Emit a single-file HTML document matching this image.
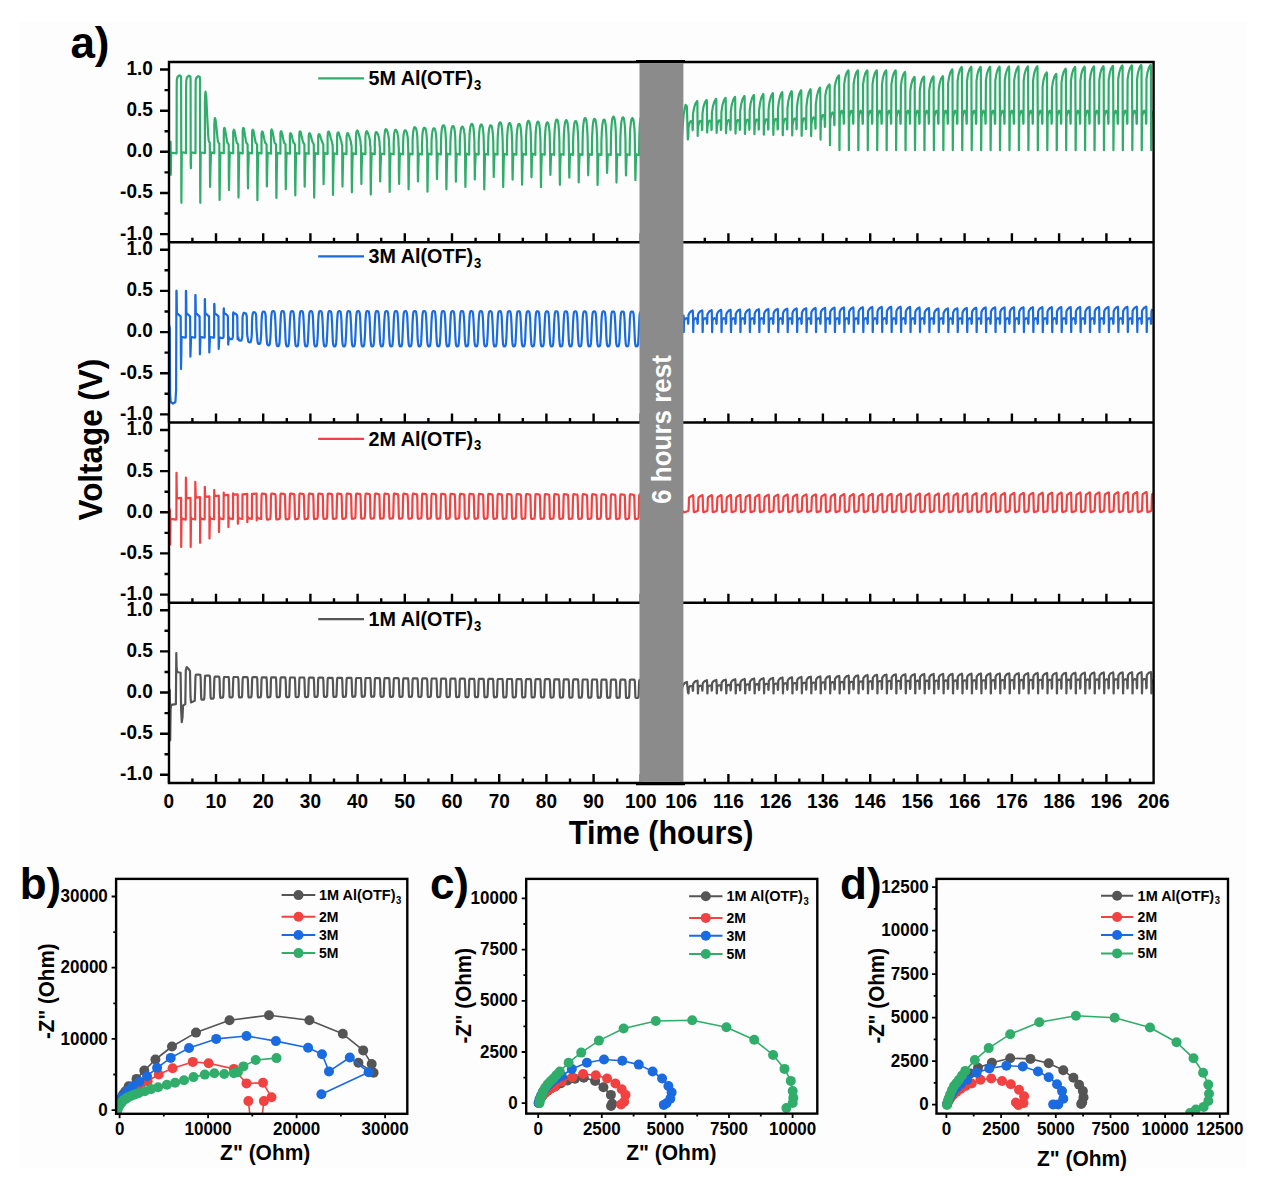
<!DOCTYPE html><html><head><meta charset="utf-8"><title>Voltage profiles and EIS</title><style>html,body{margin:0;padding:0;background:#fff;}svg{display:block;}</style></head><body><svg width="1266" height="1186" viewBox="0 0 1266 1186"><rect x="0" y="0" width="1266" height="1186" fill="#fff"/><rect x="19" y="22" width="1228" height="1146" fill="#fdfdfd"/><clipPath id="pc0"><rect x="169.0" y="62.0" width="984.5999999999999" height="180.25"/></clipPath><clipPath id="pc1"><rect x="169.0" y="242.25" width="984.5999999999999" height="180.25"/></clipPath><clipPath id="pc2"><rect x="169.0" y="422.5" width="984.5999999999999" height="180.25"/></clipPath><clipPath id="pc3"><rect x="169.0" y="602.75" width="984.5999999999999" height="180.25"/></clipPath><path d="M168.8 150.2l1.4 -6.6 0.4 -1.7 0.2 32.9 0.3 -18.9 0.3 -3.3 5 0.8 0.2 -0.4 0.1 -64.6 0.1 -8.2 0.7 -3.3 1.9 -1.6 1.5 0.8 0.2 3.3 0.2 108.1 0.1 15.3 0.2 -30.6 0.2 -20 4.1 0.8 0.1 0.1 0.1 -64.7 0.2 -8.2 0.7 -2.9 1.9 -1.6 1.5 0.8 0.2 3.3 0.1 83.5 0.2 5 0.1 -9.9 0.2 -6.1 4.2 0.8 0.1 0.1 0.1 -64.8 0.1 -8.2 0.7 -2.5 1.9 -1.6 1.5 0.8 0.2 3.3 0.2 107.3 0.1 15.3 0.2 -30.6 0.2 -19.9 4.1 0.9 0.1 0 0 -50.4 0.1 -1.5 0 -3.1 0.1 -3 0.1 -0.3 0.1 -1.4 0.2 -1.8 0.1 0.3 0.3 2.1 0.3 1.6 0.2 3.3 0.4 8.8 0.2 4 0.2 4.4 0.5 9.7 0.2 3.5 0.2 4 0.4 5.3 0 0.7 0.2 0.9 0.2 0.6 0.1 0.5 0.1 0.4 0.1 0.1 0.6 0.8 0.2 30.2 0.1 14 0.3 -15.8 0.4 -12.3 0.2 -6.4 3.3 0.8 0 0.1 0 -29.8 0.1 -0.8 0.1 -1.4 0.1 -1.5 0 -0.2 0.2 -0.7 0.2 -0.8 0 0.1 0.4 1 0.2 0.8 0.2 1.6 0.5 4.4 0.2 1.9 0.2 2.2 0.5 4.7 0.1 1.8 0.3 1.9 0.3 2.7 0.1 0.3 0.2 0.4 0.1 0.4 0.2 0.2 0.1 0.2 0.7 0.9 0.1 37 0.2 19.3 0.3 -21.7 0.3 -16.8 0.2 -8.9 3.3 0.8 0.1 0 0 -21.9 0 -0.5 0.1 -0.9 0.1 -1 0 -0.1 0.2 -0.4 0.2 -0.6 0.1 0.1 0.3 0.7 0.3 0.5 0.1 1 0.5 2.7 0.2 1.3 0.2 1.4 0.5 3 0.2 1.1 0.2 1.2 0.4 1.7 0 0.2 0.2 0.2 0.2 0.3 0.1 0.1 0.1 0.1 0 0.1 0.7 0.8 0.1 30.4 0.2 15.3 0.3 -17.3 0.3 -13.3 0.3 -7 3.3 0.8 0 0.1 0 -20.6 0.1 -0.5 0.1 -0.8 0 -0.8 0.1 -0.1 0.2 -0.4 0.2 -0.5 0 0.1 0.4 0.6 0.2 0.4 0.2 0.9 0.5 2.4 0.2 1.2 0.2 1.2 0.5 2.6 0.1 1 0.3 1.1 0.3 1.5 0.1 0.2 0.2 0.2 0.1 0.2 0.2 0.1 0.1 0.1 0 0.1 0.7 0.8 0.1 34.9 0.2 18.3 0.3 -20.6 0.3 -16 0.2 -8.4 3.3 0.8 0.1 0.1 0 -22.2 0 -0.5 0.1 -1 0.1 -0.9 0 -0.1 0.2 -0.5 0.2 -0.5 0.1 0.1 0.3 0.7 0.3 0.5 0.1 1 0.5 2.7 0.2 1.3 0.2 1.4 0.5 3 0.2 1.1 0.2 1.3 0.4 1.7 0 0.2 0.2 0.2 0.2 0.3 0.1 0.1 0.1 0.1 0.1 0.1 0.6 0.8 0.2 29.3 0.2 14.6 0.2 -16.4 0.4 -12.8 0.2 -6.5 3.3 0.9 0 -20.8 0.1 -0.5 0 -0.8 0.1 -0.8 0.1 -0.1 0.1 -0.4 0.3 -0.5 0 0.1 0.3 0.6 0.3 0.4 0.2 0.9 0.5 2.5 0.2 1.1 0.2 1.2 0.5 2.7 0.1 1 0.3 1.1 0.3 1.5 0.1 0.2 0.2 0.2 0.2 0.2 0.1 0.1 0.1 0.1 0 0.1 0.7 0.8 0.1 36.4 0.2 19.4 0.3 -21.8 0.3 -16.9 0.3 -8.8 3.2 0.8 0 0.1 0 -19.6 0.1 -0.3 0.1 -0.8 0.1 -0.7 0 -0.1 0.2 -0.3 0.2 -0.4 0.4 0.5 0.3 0.4 0.1 0.8 0.5 2.2 0.2 0.9 0.2 1.1 0.5 2.4 0.2 0.8 0.3 1 0.3 1.3 0.1 0.2 0.2 0.2 0.1 0.1 0.2 0.1 0.1 0.1 0 0.1 0.7 0.8 0.1 28.2 0.2 13.8 0.3 -15.5 0.3 -12.2 0.3 -5.9 3.1 0.8 0.1 0.1 0 -21.1 0 -0.5 0.1 -0.8 0.1 -0.9 0.1 -0.1 0.1 -0.4 0.2 -0.5 0.1 0.1 0.3 0.6 0.3 0.5 0.2 0.9 0.5 2.5 0.2 1.1 0.2 1.2 0.5 2.7 0.2 1 0.2 1.2 0.4 1.5 0 0.2 0.2 0.2 0.2 0.2 0.1 0.1 0.1 0.1 0.1 0.1 0.6 0.8 0.2 35.1 0.2 18.4 0.3 -20.8 0.3 -16.1 0.2 -8.2 3.2 0.9 0 -19.7 0.1 -0.4 0.1 -0.7 0 -0.8 0.1 -0.1 0.2 -0.3 0.2 -0.5 0 0.1 0.4 0.5 0.3 0.4 0.1 0.8 0.5 2.1 0.2 1 0.3 1.1 0.4 2.3 0.2 0.9 0.3 1 0.3 1.3 0.1 0.2 0.2 0.2 0.2 0.2 0.1 0.1 0.1 0.1 0 0.1 0.7 0.8 0.1 29.9 0.2 14.9 0.3 -16.8 0.3 -13.1 0.3 -6.4 3.1 0.8 0.1 0.1 0 -18.2 0 -0.4 0.1 -0.7 0.1 -0.6 0 -0.1 0.2 -0.3 0.2 -0.4 0.1 0 0.3 0.4 0.3 0.3 0.2 0.7 0.5 1.8 0.2 0.8 0.2 0.9 0.5 2 0.2 0.7 0.2 0.8 0.4 1.1 0 0.2 0.3 0.2 0.1 0.2 0.2 0.1 0.1 0.1 0 0.2 0.7 0.8 0.1 33.5 0.2 17.4 0.3 -19.6 0.3 -15.2 0.2 -7.5 3.2 0.8 0 -19.2 0.1 -0.6 0 -0.9 0.1 -0.7 0.1 -0.2 0.2 -0.4 0.2 -0.5 0.4 0.4 0.3 0.4 0.1 0.7 0.5 2 0.2 0.9 0.3 1 0.5 2.3 0.1 0.8 0.3 1 0.4 1.3 0 0.2 0.2 0.3 0.2 0.2 0.1 0.3 0.1 0.2 0.1 0.3 0.6 0.8 0.1 28.3 0.2 14 0.3 -15.7 0.3 -12.2 0.3 -5.8 3.1 0.8 0 0.1 0 -17.6 0.1 -0.7 0.1 -0.7 0.1 -0.7 0 -0.1 0.2 -0.5 0.2 -0.4 0.1 0 0.3 0.3 0.3 0.2 0.2 0.6 0.5 1.6 0.2 0.7 0.2 0.8 0.5 1.9 0.2 0.7 0.3 0.8 0.3 1.1 0.1 0.2 0.2 0.3 0.2 0.2 0.1 0.3 0.1 0.3 0.1 0.4 0.5 0.8 0.2 34.9 0.2 18.3 0.3 -20.6 0.3 -16 0.2 -7.9 3.1 0.8 0.1 0.1 0 -16.7 0 -0.7 0.1 -0.8 0.1 -0.7 0.1 -0.1 0.1 -0.4 0.3 -0.5 0.4 0.1 0.2 0.2 0.2 0.5 0.5 1.3 0.3 0.7 0.2 0.7 0.5 1.6 0.2 0.6 0.2 0.7 0.4 1.1 0 0.1 0.3 0.3 0.1 0.4 0.2 0.3 0.1 0.4 0 0.5 0.6 0.8 0.1 26.8 0.2 13 0.3 -14.6 0.3 -11.3 0.3 -5.2 3.1 0.9 0 -17.7 0.1 -1.2 0.1 -1.1 0.1 -0.9 0 -0.2 0.2 -0.7 0.2 -0.7 0.1 0 0.3 0.1 0.3 0.1 0.2 0.6 0.5 1.6 0.2 0.8 0.2 0.8 0.5 2 0.2 0.8 0.3 0.9 0.4 1.4 0 0.2 0.2 0.5 0.2 0.6 0.2 0.5 0.1 0.6 0 1 0.5 0.8 0.2 32.9 0.1 17.2 0.3 -19.4 0.4 -15.1 0.2 -7.2 3.1 0.8 0.1 0.1 0 -16.4 0 -1.4 0.1 -1.2 0.1 -0.9 0 -0.2 0.2 -0.8 0.3 -0.7 0.4 -0.1 0.3 0.1 0.1 0.4 0.5 1.4 0.3 0.6 0.2 0.8 0.5 1.7 0.2 0.8 0.3 0.8 0.3 1.4 0.1 0.2 0.2 0.6 0.2 0.6 0.1 0.7 0.1 0.7 0.1 1.1 0.5 0.9 0.1 27.5 0.2 13.9 0.3 -15.7 0.3 -12.1 0.2 -5.5 3.2 0.8 0 -15 0.1 -1.6 0 -1.2 0.1 -0.9 0.1 -0.3 0.2 -0.8 0.2 -0.8 0.1 -0.1 0.3 -0.2 0.3 0 0.2 0.3 0.5 1.1 0.2 0.6 0.3 0.6 0.5 1.6 0.2 0.7 0.3 0.8 0.3 1.3 0.1 0.2 0.2 0.6 0.2 0.7 0.1 0.8 0.1 0.8 0.1 1.4 0.4 0.8 0.1 30.6 0.2 16.2 0.3 -18.2 0.3 -14.2 0.3 -6.6 3.1 0.8 0 0.1 0 -15.2 0.1 -2.3 0.1 -1.7 0.1 -1.2 0 -0.4 0.2 -1.2 0.3 -1 0 -0.1 0.4 -0.5 0.3 -0.1 0.1 0.3 0.6 1.1 0.2 0.7 0.2 0.6 0.6 1.8 0.1 0.8 0.3 0.9 0.4 1.7 0 0.2 0.3 1 0.2 1 0.1 1.2 0.1 1.2 0.1 2.1 0.3 0.8 0.2 25.3 0.2 12.9 0.2 -14.6 0.4 -11.2 0.2 -4.9 3.1 0.8 0.1 0.1 0 -13.8 0 -2.5 0.1 -1.8 0.1 -1.2 0.1 -0.4 0.2 -1.3 0.2 -1.1 0 -0.1 0.4 -0.7 0.3 -0.2 0.2 0.2 0.5 0.8 0.3 0.6 0.2 0.5 0.5 1.5 0.2 0.7 0.3 0.9 0.4 1.6 0 0.3 0.3 1 0.2 1.1 0.1 1.3 0.1 1.4 0 2.4 0.4 0.8 0.1 31.2 0.2 17.1 0.3 -19.3 0.3 -14.9 0.3 -7 3.1 0.9 0 -12.3 0.1 -2.8 0.1 -1.8 0.1 -1.2 0 -0.5 0.2 -1.3 0.2 -1.2 0.1 -0.2 0.4 -0.8 0.3 -0.2 0.2 0 0.5 0.6 0.2 0.4 0.3 0.4 0.5 1.3 0.2 0.6 0.3 0.8 0.4 1.6 0 0.3 0.2 1.1 0.2 1.2 0.2 1.4 0.1 1.6 0 2.6 0.3 0.8 0.1 22.9 0.2 11.9 0.3 -13.3 0.4 -10.5 0.2 -4.2 3.1 0.8 0.1 0 0 -11.7 0 -3.7 0.1 -2.4 0.1 -1.5 0.1 -0.6 0.2 -1.8 0.2 -1.5 0 -0.2 0.4 -1.2 0.3 -0.5 0.2 0 0.5 0.4 0.3 0.4 0.2 0.4 0.6 1.3 0.2 0.7 0.2 1 0.4 1.8 0.1 0.4 0.2 1.4 0.2 1.7 0.2 1.9 0.1 2.1 0 3.6 0.2 0.8 0.2 28.8 0.2 16.1 0.3 -18.1 0.3 -14.1 0.2 -6.3 3.2 0.8 0 0.1 0 -10.4 0.1 -3.8 0.1 -2.5 0.1 -1.5 0 -0.7 0.2 -1.8 0.2 -1.6 0.1 -0.3 0.4 -1.3 0.3 -0.5 0.2 -0.2 0.5 0.1 0.2 0.3 0.3 0.3 0.5 1.1 0.2 0.6 0.3 0.9 0.4 1.9 0.1 0.3 0.2 1.5 0.2 1.8 0.1 2 0.1 2.3 0.1 3.7 0.2 0.9 0.1 23.6 0.2 12.9 0.3 -14.5 0.3 -11.3 0.3 -4.7 3.1 0.9 0 -9.1 0.1 -4 0.1 -2.5 0.1 -1.5 0 -0.7 0.2 -1.9 0.3 -1.6 0 -0.3 0.4 -1.5 0.3 -0.6 0.2 -0.3 0.6 0 0.2 0.1 0.3 0.2 0.5 0.9 0.2 0.6 0.3 0.8 0.4 1.8 0 0.3 0.3 1.6 0.2 1.9 0.1 2.1 0.1 2.4 0.1 3.9 0.1 0.8 0.2 26.5 0.2 15 0.3 -16.9 0.3 -13.1 0.2 -5.7 3.1 0.8 0.1 0 0 -8.2 0 -5 0.1 -3.1 0.1 -1.8 0.1 -0.9 0.2 -2.4 0.2 -2 0.1 -0.3 0.4 -1.9 0.3 -0.8 0.2 -0.5 0.5 -0.3 0.3 0.2 0.2 0.1 0.6 0.9 0.2 0.6 0.3 1 0.4 2.1 0 0.4 0.3 2 0.2 2.3 0.1 2.6 0.1 3 0.1 5 0.1 0.8 0.1 21.4 0.2 11.8 0.3 -13.3 0.3 -10.4 0.3 -4.1 3.1 0.8 0 -7.1 0.1 -5.2 0.1 -3.1 0.1 -1.8 0 -0.9 0.2 -2.4 0.3 -2 0 -0.4 0.4 -2 0.3 -0.8 0.2 -0.5 0.6 -0.5 0.2 0.1 0.3 0 0.5 0.7 0.2 0.7 0.3 0.9 0.4 2 0.1 0.5 0.2 2 0.2 2.3 0.2 2.7 0.1 3.1 0 5.1 0.2 0.8 0.1 27.2 0.2 15.9 0.3 -17.9 0.3 -14 0.2 -6.2 3.1 0.8 0.1 0.1 0 -6.5 0 -5.1 0.1 -3.1 0.1 -1.8 0.1 -0.9 0.2 -2.4 0.2 -2 0.1 -0.4 0.4 -2.1 0.3 -0.8 0.2 -0.6 0.5 -0.5 0.3 0 0.3 0 0.5 0.6 0.2 0.6 0.3 0.9 0.4 2 0.1 0.4 0.2 2 0.2 2.4 0.2 2.7 0.1 3.1 0 5.2 0.1 0.8 0.2 19.2 0.2 10.9 0.2 -12.3 0.4 -9.5 0.2 -3.7 3.1 0.9 0 -5.9 0.1 -6.1 0.1 -3.6 0.1 -2.2 0 -1 0.2 -2.8 0.3 -2.4 0 -0.5 0.4 -2.4 0.3 -1 0.2 -0.6 0.6 -0.7 0.3 0 0.2 0 0.6 0.7 0.2 0.6 0.3 1 0.4 2.4 0 0.5 0.3 2.4 0.2 2.8 0.2 3.2 0.1 3.6 0 6.1 0.1 0.8 0.1 24.9 0.2 15 0.3 -16.8 0.4 -13.2 0.2 -5.6 3 0.8 0 -5.6 0.1 -5.9 0.1 -3.6 0.1 -2.1 0.1 -1 0.2 -2.8 0.2 -2.3 0.1 -0.5 0.4 -2.4 0.3 -0.9 0.2 -0.7 0.6 -0.7 0.2 0 0.3 0 0.5 0.7 0.3 0.7 0.3 0.9 0.4 2.4 0 0.5 0.3 2.3 0.2 2.8 0.1 3.1 0.1 3.6 0.1 5.9 0.1 0.9 0.1 19.9 0.2 12 0.3 -13.5 0.3 -10.4 0.3 -4.1 2.9 0.8 0.1 0.1 0 -5.3 0 -5.9 0.1 -3.5 0.1 -2 0.1 -1.1 0.2 -2.7 0.3 -2.3 0 -0.4 0.4 -2.4 0.3 -0.9 0.3 -0.7 0.5 -0.7 0.3 0 0.2 0 0.6 0.7 0.2 0.7 0.3 0.9 0.4 2.4 0.1 0.4 0.3 2.3 0.2 2.7 0.1 3.1 0.1 3.5 0.1 5.9 0.1 0.9 0.1 22.7 0.2 14 0.3 -15.8 0.3 -12.3 0.3 -5.1 2.9 0.9 0 -5.1 0.1 -6.7 0.1 -4 0.1 -2.3 0 -1.2 0.2 -3.1 0.3 -2.6 0.1 -0.6 0.4 -2.6 0.3 -1.1 0.2 -0.7 0.6 -0.8 0.2 0 0.3 0 0.6 0.8 0.2 0.7 0.3 1.1 0.4 2.6 0 0.6 0.3 2.6 0.2 3.1 0.2 3.5 0.1 4 0 6.7 0.1 0.8 0.2 18 0.1 11.1 0.3 -12.4 0.4 -9.7 0.2 -3.5 2.9 0.8 0.1 0 0 -4.9 0 -6.6 0.1 -3.9 0.1 -2.3 0.1 -1.1 0.2 -3.1 0.2 -2.5 0.1 -0.5 0.4 -2.6 0.3 -1.1 0.2 -0.7 0.6 -0.8 0.3 0 0.2 0 0.6 0.8 0.2 0.7 0.3 1.1 0.4 2.6 0.1 0.5 0.2 2.5 0.3 3.1 0.1 3.4 0.1 3.9 0.1 6.6 0.1 0.8 0.1 23.9 0.2 15.1 0.3 -17 0.3 -13.2 0.2 -5.5 3 0.8 0 -4.7 0.1 -6.5 0.1 -3.8 0.1 -2.2 0 -1.1 0.2 -3 0.3 -2.5 0 -0.5 0.5 -2.5 0.3 -1.1 0.2 -0.7 0.6 -0.7 0.2 0 0.3 0 0.5 0.7 0.3 0.7 0.3 1.1 0.4 2.5 0 0.5 0.3 2.5 0.2 3 0.2 3.3 0.1 3.8 0 6.5 0.1 0.8 0.2 16.2 0.1 10.1 0.3 -11.3 0.4 -8.9 0.2 -3 2.9 0.8 0 0.1 0 -4.7 0.1 -7.2 0.1 -4.3 0.1 -2.5 0.1 -1.3 0.2 -3.3 0.2 -2.9 0.1 -0.5 0.4 -2.9 0.3 -1.2 0.2 -0.7 0.6 -0.9 0.3 0 0.2 0 0.6 0.9 0.2 0.7 0.3 1.2 0.4 2.9 0.1 0.5 0.2 2.9 0.2 3.3 0.2 3.8 0.1 4.3 0.1 7.2 0.1 0.8 0.1 22.2 0.2 14.1 0.3 -15.9 0.3 -12.3 0.2 -5.1 2.9 0.9 0.1 0 0 -4.5 0 -7.1 0.1 -4.2 0.1 -2.5 0.1 -1.2 0.2 -3.3 0.3 -2.7 0 -0.6 0.4 -2.8 0.4 -1.2 0.2 -0.7 0.5 -0.8 0.3 0 0.3 0 0.5 0.8 0.2 0.7 0.4 1.2 0.4 2.8 0 0.6 0.3 2.7 0.2 3.3 0.1 3.7 0.2 4.2 0 7.1 0.1 0.8 0.1 17.5 0.2 11.1 0.3 -12.5 0.3 -9.7 0.3 -3.5 2.9 0.8 0 -4.3 0.1 -7 0.1 -4.1 0.1 -2.4 0 -1.2 0.3 -3.2 0.2 -2.7 0.1 -0.6 0.4 -2.7 0.3 -1.1 0.2 -0.8 0.6 -0.8 0.2 0 0.3 0 0.6 0.8 0.2 0.8 0.3 1.1 0.4 2.7 0.1 0.6 0.2 2.7 0.2 3.2 0.2 3.6 0.1 4.1 0 7 0.1 0.8 0.2 20.3 0.2 13.2 0.3 -14.8 0.3 -11.5 0.2 -4.5 2.9 0.8 0.1 0.1 0 -4.3 0 -7.7 0.1 -4.6 0.1 -2.7 0.1 -1.4 0.2 -3.5 0.3 -3.1 0 -0.6 0.4 -3 0.3 -1.3 0.2 -0.8 0.6 -0.9 0.3 0 0.2 0 0.6 0.9 0.2 0.8 0.3 1.3 0.5 3 0 0.6 0.3 3.1 0.2 3.5 0.1 4.1 0.1 4.6 0.1 7.7 0.1 0.9 0.1 15.7 0.2 10.2 0.3 -11.5 0.3 -8.9 0.3 -3 2.9 0.9 0 -4.1 0.1 -7.6 0.1 -4.5 0.1 -2.6 0 -1.4 0.2 -3.5 0.3 -2.9 0 -0.6 0.5 -3 0.3 -1.2 0.2 -0.9 0.6 -0.9 0.2 0 0.3 0 0.6 0.9 0.2 0.9 0.3 1.2 0.4 3 0.1 0.6 0.2 2.9 0.2 3.5 0.2 4 0.1 4.5 0 7.6 0.1 0.8 0.2 21.6 0.2 14.1 0.2 -15.9 0.4 -12.4 0.2 -4.9 2.9 0.8 0 -3.9 0.1 -7.5 0.1 -4.4 0.1 -2.6 0.1 -1.3 0.2 -3.4 0.2 -2.9 0.1 -0.6 0.4 -2.9 0.3 -1.2 0.2 -0.8 0.6 -0.9 0.3 0 0.2 0 0.6 0.9 0.2 0.8 0.3 1.2 0.4 2.9 0.1 0.6 0.3 2.9 0.2 3.4 0.1 3.9 0.1 4.4 0.1 7.5 0.1 0.8 0.1 14 0.2 9.3 0.3 -10.5 0.3 -8.1 0.3 -2.4 2.8 0.8 0.1 0 0 -3.7 0 -8.3 0.1 -4.9 0.2 -2.9 0 -1.4 0.2 -3.8 0.3 -3.2 0 -0.7 0.4 -3.2 0.4 -1.4 0.2 -0.9 0.5 -0.9 0.3 0 0.3 0 0.5 0.9 0.3 0.9 0.3 1.4 0.4 3.2 0 0.7 0.3 3.2 0.2 3.8 0.2 4.3 0.1 4.9 0 8.3 0.1 0.8 0.2 19.7 0.2 13.2 0.2 -14.8 0.4 -11.6 0.2 -4.4 2.9 0.8 0 0.1 0 -3.7 0.1 -8.1 0.1 -4.8 0.1 -2.8 0 -1.4 0.3 -3.8 0.2 -3.1 0.1 -0.6 0.4 -3.2 0.3 -1.3 0.2 -0.9 0.6 -1 0.3 0 0.2 0 0.6 1 0.2 0.9 0.3 1.3 0.4 3.2 0.1 0.6 0.2 3.1 0.3 3.8 0.1 4.2 0.1 4.8 0.1 8.1 0.1 0.9 0.1 15.2 0.2 10.3 0.3 -11.6 0.3 -9 0.2 -3 2.9 0.9 0.1 0 0 -3.5 0 -7.9 0.1 -4.8 0.1 -2.7 0.1 -1.4 0.2 -3.7 0.3 -3.1 0 -0.6 0.4 -3.1 0.3 -1.3 0.3 -0.9 0.5 -0.9 0.3 0 0.3 0 0.5 0.9 0.2 0.9 0.4 1.3 0.4 3.1 0 0.6 0.3 3.1 0.2 3.7 0.2 4.1 0.1 4.8 0 7.9 0.1 0.8 0.2 18 0.1 12.2 0.3 -13.8 0.4 -10.7 0.2 -3.8 2.9 0.8 0 -3.3 0.1 -8.8 0.1 -5.2 0.1 -3 0 -1.5 0.2 -4.1 0.3 -3.4 0 -0.7 0.5 -3.4 0.3 -1.5 0.2 -0.9 0.6 -1 0.2 0 0.3 0 0.6 1 0.2 0.9 0.3 1.5 0.4 3.4 0.1 0.7 0.2 3.4 0.2 4.1 0.2 4.5 0.1 5.2 0.1 8.8 0.1 0.8 0.1 13.5 0.2 9.4 0.3 -10.6 0.3 -8.2 0.2 -2.4 2.9 0.8 0 0.1 0 -3.2 0.1 -8.6 0.1 -5.2 0.1 -3 0.1 -1.4 0.2 -4 0.2 -3.4 0.1 -0.6 0.4 -3.4 0.3 -1.4 0.2 -1 0.6 -1 0.3 0 0.2 0 0.6 1 0.2 1 0.3 1.4 0.5 3.4 0 0.6 0.3 3.4 0.2 4 0.2 4.4 0.1 5.2 0 8.6 0.1 0.8 0.1 19.1 0.2 13.3 0.3 -15 0.3 -11.6 0.3 -4.3 2.8 0.9 0.1 0 0 -3.1 0 -8.4 0.1 -5 0.2 -3 0 -1.5 0.2 -3.9 0.3 -3.2 0 -0.7 0.5 -3.3 0.3 -1.4 0.2 -0.9 0.6 -1 0.2 0 0.3 0 0.6 1 0.2 0.9 0.3 1.4 0.4 3.3 0.1 0.7 0.2 3.2 0.2 3.9 0.2 4.5 0.1 5 0.1 8.4 0 0.9 0.2 11.7 0.2 8.4 0.3 -9.5 0.3 -7.4 0.2 -1.8 2.9 0.8 0 -2.9 0.1 -9.3 0.1 -5.5 0.1 -3.2 0 -1.6 0.3 -4.3 0.2 -3.6 0.1 -0.7 0.4 -3.6 0.3 -1.6 0.2 -1 0.6 -1 0.3 0 0.2 0 0.6 1 0.2 1 0.3 1.6 0.5 3.6 0 0.7 0.3 3.6 0.2 4.3 0.1 4.8 0.1 5.5 0.1 9.3 0.1 0.8 0.1 17.4 0.2 12.3 0.3 -13.9 0.3 -10.7 0.3 -3.8 2.8 0.8 0.1 0 0 -2.7 0 -9.1 0.1 -5.4 0.1 -3.2 0.1 -1.6 0.2 -4.2 0.3 -3.5 0 -0.8 0.4 -3.5 0.4 -1.5 0.2 -1 0.5 -1.1 0.3 0 0.3 0 0.6 1.1 0.2 1 0.3 1.5 0.4 3.5 0.1 0.8 0.2 3.5 0.2 4.2 0.2 4.8 0.1 5.4 0 9.1 0.1 0.8 0.2 12.9 0.2 9.5 0.3 -10.6 0.3 -8.4 0.2 -2.3 2.9 0.8 0 0.1 0 -2.7 0.1 -8.9 0.1 -5.3 0.1 -3.1 0 -1.6 0.2 -4.1 0.3 -3.5 0.1 -0.7 0.4 -3.5 0.3 -1.5 0.2 -1 0.6 -1 0.2 0 0.3 0 0.6 1 0.2 1 0.3 1.5 0.4 3.5 0.1 0.7 0.3 3.5 0.2 4.1 0.1 4.7 0.1 5.3 0.1 8.9 0.1 0.9 0.1 15.5 0.2 11.4 0.3 -12.8 0.3 -9.9 0.3 -3.3 2.8 0.9 0 -2.5 0.1 -9.7 0.1 -5.8 0.1 -3.4 0.1 -1.7 0.2 -4.6 0.2 -3.7 0.1 -0.8 0.4 -3.8 0.3 -1.6" fill="none" stroke="#30ad6a" stroke-width="2.2" stroke-linejoin="round" clip-path="url(#pc0)"/><path d="M681.2 150.2l1.4 -23.1 1 -12.3 1.9 -9.9 1.4 1.6 0.9 33 0.5 -3.5 0.1 -4.6 0.2 -4.5 1 -4.1 1 -1.7 1.7 0.8 0.3 8.4 0.2 -0.8 0.2 -15.5 1 -5.8 1.4 -4.6 1.4 -2.1 0.4 -0.5 0.2 1.7 0.1 15.8 0.2 17.5 0 -3.8 0.2 -2.8 0.2 -2.7 1 -4.1 1 -1.8 1.6 0.8 0.3 8.6 0.3 -0.8 0.2 -16 0.9 -6 1.4 -4.8 1.4 -2.2 0.4 -0.4 0.3 1.6 0.1 14.5 0.1 16.1 0.1 0.3 0.1 -3 0.2 -3 1 -4.1 1 -1.8 1.7 0.8 0.3 8.7 0.2 -0.8 0.2 -16.4 1 -6.3 1.4 -4.9 1.4 -2.4 0.4 -0.4 0.2 1.6 0.1 15.2 0.2 16.8 0 0.4 0.2 -3.3 0.2 -3.2 1 -4.2 1 -1.9 1.6 0.9 0.3 8.8 0.3 -0.8 0.2 -16.9 0.9 -6.5 1.4 -5 1.4 -2.5 0.4 -0.4 0.2 1.7 0.2 15.8 0.1 17.5 0.1 0.3 0.1 -3.5 0.2 -3.5 1 -4.3 1 -1.8 1.6 0.8 0.4 9 0.2 -0.8 0.2 -17.4 0.9 -6.6 1.5 -5.2 1.4 -2.5 0.4 -0.5 0.2 1.7 0.1 16.5 0.2 18.1 0 0.4 0.2 -3.8 0.2 -3.8 0.9 -4.3 1.1 -1.8 1.6 0.8 0.3 9.2 0.3 -0.9 0.1 -17.9 1 -6.8 1.4 -5.3 1.4 -2.6 0.4 -0.4 0.2 1.6 0.2 17.2 0.1 18.8 0.1 0.3 0.1 -4 0.2 -4.1 1 -4.3 1 -1.9 1.6 0.9 0.4 9.3 0.2 -0.9 0.2 -18.4 0.9 -7 1.5 -5.4 1.4 -2.7 0.4 -0.4 0.2 1.7 0.1 17.8 0.2 19.4 0 0.3 0.2 -4.3 0.2 -4.2 0.9 -4.4 1.1 -1.9 1.6 0.8 0.3 9.5 0.3 -0.8 0.1 -19 1 -7.1 1.4 -5.6 1.4 -2.7 0.4 -0.5 0.2 1.7 0.2 18.4 0.1 20.1 0.1 0.4 0.1 -4.6 0.2 -4.5 1 -4.4 1 -1.9 1.6 0.8 0.4 9.6 0.2 -0.8 0.2 -19.5 0.9 -7.3 1.5 -5.7 1.4 -2.8 0.4 -0.4 0.2 1.6 0.1 19.1 0.2 20.8 0 0.3 0.2 -4.8 0.1 -4.8 1 -4.5 1.1 -1.9 1.6 0.9 0.3 9.7 0.3 -0.8 0.1 -20 1 -7.4 1.4 -5.9 1.4 -2.9 0.4 -0.4 0.2 1.7 0.2 19.7 0.1 21.4 0.1 0.3 0.1 -5.1 0.2 -5 1 -4.5 1 -1.9 1.6 0.8 0.4 9.9 0.2 -0.8 0.2 -20.4 0.9 -7.7 1.5 -6 1.4 -2.9 0.3 -0.5 0.3 1.7 0.1 20.4 0.2 22 0 0.3 0.2 -5.3 0.1 -5.3 1 -4.5 1.1 -1.9 1.6 0.8 0.3 10 0.2 -0.8 0.2 -20.9 1 -7.9 1.4 -6.1 1.4 -3 0.4 -0.4 0.2 1.6 0.2 21 0.1 22.7 0.1 0.3 0.1 -5.5 0.2 -5.5 1 -4.6 1 -2 1.6 0.9 0.4 10.1 0.2 -0.8 0.2 -21.4 0.9 -8 1.4 -6.3 1.5 -3.1 0.3 -0.4 0.3 1.6 0.1 21.7 0.2 23.3 0 0.3 0.2 -6 0.1 -6.1 1 -4.6 1.1 -2 1.6 1.1 0.3 10.2 0.2 -0.8 0.2 -23.5 1 -7.6 1.4 -5.8 1.4 -3 0.4 -0.4 0.2 1.7 0.2 22.5 0.1 24.3 0.1 3.5 0.1 -9 0.2 -9 1 -4.7 1 -1.9 1.6 1.8 0.4 10.1 0.2 -0.8 0.2 -30.2 0.9 -5.2 1.4 -4.1 1.5 -1.9 0.3 -0.4 0.3 1.7 0.1 26 0.2 27.6 0 5.6 0.1 -13 0.2 -13.1 1 -4.6 1.1 -2 1.6 2.7 0.3 10 0.2 -0.9 0.2 -36.9 1 -5.4 1.4 -4.2 1.4 -2 0.4 -0.4 0.2 1.7 0.2 33.2 0.1 34.9 0.1 5 0.1 -16.5 0.2 -16.5 1 -4.6 1 -1.9 1.6 3.2 0.4 9.9 0.2 -0.8 0.2 -38.7 0.9 -6.3 1.4 -4.9 1.5 -2.4 0.3 -0.4 0.3 1.7 0.1 38.2 0.2 40 0.1 -16.5 0.2 -16.5 1 -4.6 1.1 -1.9 1.6 3.2 0.3 9.9 0.2 -0.8 0.2 -38.7 1 -6.3 1.4 -4.9 1.4 -2.4 0.4 -0.4 0.2 1.7 0.2 38.2 0.1 40 0.1 0 0.1 -16.5 0.2 -16.5 1 -4.6 1 -1.9 1.6 3.2 0.3 9.9 0.3 -0.8 0.2 -38.7 0.9 -6.3 1.4 -4.9 1.5 -2.4 0.3 -0.4 0.3 1.7 0.1 38.2 0.2 40 0.1 -16.5 0.2 -16.5 1 -4.6 1.1 -1.9 1.6 3.2 0.3 9.9 0.2 -0.8 0.2 -38.7 1 -6.3 1.4 -4.9 1.4 -2.4 0.4 -0.4 0.2 1.7 0.2 38.2 0.1 40 0.2 -16.6 0.2 -16.5 1 -4.5 1 -1.9 1.6 3.2 0.3 9.9 0.3 -0.8 0.2 -38.7 0.9 -6.3 1.4 -4.9 1.4 -2.4 0.4 -0.4 0.3 1.7 0.1 38.2 0.1 40 0.1 0 0.1 -16.6 0.2 -16.5 1 -4.5 1.1 -1.9 1.6 3.2 0.3 9.9 0.2 -0.8 0.2 -38.7 1 -6.3 1.4 -4.9 1.4 -2.4 0.4 -0.4 0.2 1.7 0.2 38.2 0.1 40 0.2 -16.6 0.2 -16.5 1 -4.5 1 -1.9 1.6 3.2 0.3 9.9 0.3 -0.8 0.2 -37 0.9 -6.3 1.4 -4.9 1.4 -2.4 0.4 -0.4 0.3 1.6 0.1 37.5 0.1 39.1 0.1 0 0.1 -16.6 0.2 -16.5 1 -4.5 1.1 -1.9 1.6 3.2 0.3 9.9 0.2 -0.8 0.2 -32.2 1 -6.3 1.4 -4.9 1.4 -2.3 0.4 -0.5 0.2 1.7 0.1 35 0.2 36.7 0.2 -16.6 0.2 -16.6 1 -4.4 1 -1.9 1.6 3.2 0.3 9.9 0.3 -0.8 0.2 -32.4 0.9 -6.3 1.4 -4.9 1.4 -2.4 0.4 -0.4 0.3 1.7 0.1 35.1 0.1 36.8 0.1 0 0.1 -16.6 0.2 -16.6 1 -4.4 1 -1.9 1.7 3.2 0.3 9.9 0.2 -0.8 0.2 -32.6 1 -6.3 1.4 -4.9 1.4 -2.4 0.4 -0.4 0.2 1.6 0.1 35.3 0.2 36.9 0.2 -16.6 0.2 -16.6 1 -4.5 1 -1.8 1.6 3.2 0.3 9.9 0.3 -0.8 0.2 -32.9 0.9 -6.3 1.4 -4.9 1.4 -2.3 0.4 -0.5 0.3 1.7 0.1 35.3 0.1 37.1 0.1 0 0.1 -16.6 0.2 -16.6 1 -4.5 1 -1.8 1.7 3.2 0.3 9.9 0.2 -0.8 0.2 -39.7 1 -6.3 1.4 -4.9 1.4 -2.4 0.4 -0.4 0.2 1.6 0.1 38.8 0.2 40.5 0.2 -16.7 0.2 -16.6 1 -4.4 1 -1.8 1.6 3.2 0.3 9.9 0.3 -0.8 0.2 -42 0.9 -6.3 1.4 -4.9 1.4 -2.4 0.4 -0.4 0.2 1.6 0.2 40 0.1 41.6 0.1 0 0.1 -16.7 0.2 -16.6 1 -4.4 1 -1.8 1.6 3.2 0.4 9.9 0.2 -0.8 0.2 -42.1 0.9 -6.3 1.5 -4.9 1.4 -2.4 0.4 -0.4 0.2 1.6 0.1 40 0.2 41.7 0.2 -16.7 0.2 -16.6 0.9 -4.4 1.1 -1.8 1.6 3.2 0.3 9.9 0.3 -0.8 0.2 -42.2 0.9 -6.3 1.4 -4.9 1.4 -2.4 0.4 -0.4 0.2 1.6 0.2 40.1 0.1 41.7 0.1 0 0.1 -16.7 0.2 -16.6 1 -4.4 1 -1.8 1.6 3.2 0.4 9.9 0.2 -0.8 0.2 -42.3 0.9 -6.3 1.5 -4.9 1.4 -2.4 0.4 -0.4 0.2 1.6 0.1 40.1 0.2 41.8 0.2 -16.7 0.2 -16.7 0.9 -4.3 1.1 -1.8 1.6 3.2 0.3 9.9 0.3 -0.8 0.1 -42.4 1 -6.3 1.4 -4.9 1.4 -2.4 0.4 -0.4 0.2 1.6 0.2 40.2 0.1 41.8 0.1 0 0.1 -16.7 0.2 -16.7 1 -4.3 1 -1.8 1.6 3.2 0.4 9.9 0.2 -0.8 0.2 -42.5 0.9 -6.3 1.5 -4.9 1.4 -2.4 0.4 -0.4 0.2 1.7 0.1 40.1 0.2 41.9 0.2 -16.7 0.1 -16.7 1 -4.3 1.1 -1.8 1.6 3.2 0.3 9.9 0.3 -0.8 0.1 -42.6 1 -6.3 1.4 -4.9 1.4 -2.4 0.4 -0.4 0.2 1.7 0.2 40.2 0.1 41.9 0.1 0 0.1 -16.7 0.2 -16.7 1 -4.3 1 -1.8 1.6 3.2 0.4 9.9 0.2 -0.8 0.2 -42.7 0.9 -6.3 1.5 -4.9 1.4 -2.4 0.3 -0.4 0.3 1.7 0.1 40.2 0.2 42 0.2 -16.8 0.1 -16.7 1 -4.2 1.1 -1.8 1.6 3.2 0.3 9.9 0.2 -0.8 0.2 -42.8 1 -6.3 1.4 -4.9 1.4 -2.4 0.4 -0.4 0.2 1.7 0.2 40.3 0.1 42 0.1 0 0.1 -16.8 0.2 -16.7 1 -4.2 1 -1.8 1.6 3.2 0.4 9.9 0.2 -0.8 0.2 -36.6 0.9 -6.3 1.4 -4.9 1.5 -2.4 0.3 -0.4 0.3 1.6 0.1 37.3 0.2 38.9 0.2 -16.8 0.1 -16.7 1 -4.2 1.1 -1.8 1.6 3.2 0.3 9.9 0.2 -0.8 0.2 -35.2 1 -6.3 1.4 -4.9 1.4 -2.4 0.4 -0.4 0.2 1.7 0.2 36.5 0.1 38.2 0.1 0 0.1 -16.8 0.2 -16.7 1 -4.2 1 -1.8 1.6 3.2 0.4 9.9 0.2 -0.8 0.2 -40.3 0.9 -6.3 1.4 -4.9 1.5 -2.4 0.3 -0.4 0.3 1.6 0.1 39.1 0.2 40.8 0.1 -16.8 0.2 -16.8 1 -4.2 1.1 -1.7 1.6 3.2 0.3 9.9 0.2 -0.8 0.2 -42.2 1 -6.3 1.4 -4.9 1.4 -2.4 0.4 -0.4 0.2 1.7 0.2 40 0.1 41.7 0.1 0 0.1 -16.8 0.2 -16.8 1 -4.2 1 -1.7 1.6 3.2 0.4 9.9 0.2 -0.8 0.2 -42.4 0.9 -6.3 1.4 -4.9 1.5 -2.4 0.3 -0.4 0.3 1.6 0.1 40.2 0.2 41.8 0.1 -16.8 0.2 -16.8 1 -4.2 1.1 -1.7 1.6 3.2 0.3 9.9 0.2 -0.8 0.2 -42.7 1 -6.3 1.4 -4.9 1.4 -2.4 0.4 -0.4 0.2 1.7 0.2 40.2 0.1 42 0.1 0 0.1 -16.8 0.2 -16.8 1 -4.2 1 -1.7 1.6 3.2 0.3 9.9 0.3 -0.8 0.2 -43 0.9 -6.2 1.4 -4.9 1.5 -2.4 0.3 -0.4 0.3 1.6 0.1 40.4 0.2 42.1 0.1 -16.9 0.2 -16.8 1 -4.1 1.1 -1.7 1.6 3.2 0.3 9.9 0.2 -0.8 0.2 -43.2 1 -6.3 1.4 -4.9 1.4 -2.4 0.4 -0.4 0.2 1.6 0.2 40.6 0.1 42.2 0.2 -16.9 0.2 -16.8 1 -4.1 1 -1.7 1.6 3.2 0.3 9.9 0.3 -0.8 0.2 -43.5 0.9 -6.3 1.4 -4.9 1.4 -2.4 0.4 -0.4 0.3 1.7 0.1 40.6 0.1 42.4 0.1 0 0.1 -16.9 0.2 -16.8 1 -4.1 1.1 -1.7 1.6 3.2 0.3 9.9 0.2 -0.8 0.2 -43.7 1 -6.3 1.4 -4.9 1.4 -2.4 0.4 -0.4 0.2 1.6 0.2 40.8 0.1 42.5 0.2 -16.9 0.2 -16.8 1 -4.1 1 -1.7 1.6 3.2 0.3 9.9 0.3 -0.8 0.2 -44 0.9 -6.3 1.4 -4.9 1.4 -2.4 0.4 -0.4 0.3 1.7 0.1 40.9 0.1 42.6 0.1 0 0.1 -16.9 0.2 -16.9 1 -4 1.1 -1.7 1.6 3.2 0.3 9.9 0.2 -0.8 0.2 -44.3 1 -6.2 1.4 -4.9 1.4 -2.4 0.4 -0.4 0.2 1.6 0.1 41.1 0.2 42.7 0.2 -16.9 0.2 -16.9 1 -4 1 -1.7" fill="none" stroke="#30ad6a" stroke-width="2.2" stroke-linejoin="round" clip-path="url(#pc0)"/><path d="M168.8 323.8l1 4.1 0.3 65.9 0.6 8.2 2.3 1.7 2.4 -1.7 0.7 -12.3 0.3 -98.8 0 7.7 0.1 -7.7 0.1 0 0.1 6.3 0.2 15.9 0.2 0.2 0.3 0.3 0.4 0.3 0.4 0.3 0.3 0.3 0.4 0.3 0.4 0.4 0.3 0.3 0.4 0.3 0.3 0.3 0.4 0.3 0 2.6 0.3 50.1 0.1 -4.6 0.1 -4.6 0.1 -4.6 0.1 -4.6 0 -3.9 0 -0.6 0.1 -4.6 0.1 -4.6 0.2 0 0.4 0.1 0.3 0 0.4 0.1 0.4 0.1 0.3 0 0.4 0.1 0.3 0.1 0.4 0 0.4 0.1 0.3 0 0.2 0.1 0.1 0 0.1 -0.7 0.1 -38.4 0 -7.7 0.1 0 0.1 0 0.1 6.3 0.2 15.9 0.1 0.2 0.4 0.3 0.3 0.3 0.4 0.3 0.4 0.3 0.3 0.3 0.4 0.4 0.4 0.3 0.3 0.3 0.4 0.3 0.3 0.3 0 2 0.3 38.3 0.1 -2.8 0.1 -2.8 0.1 -2.8 0.1 -2.8 0.1 -2.4 0 -0.5 0.1 -2.8 0.1 -2.8 0.1 0 0.4 0.1 0.4 0 0.3 0.1 0.4 0.1 0.4 0 0.3 0.1 0.4 0.1 0.3 0 0.4 0.1 0.4 0 0.1 0.1 0.1 0 0.1 -0.7 0.1 -35 0 -7 0.1 0 0.1 0 0.1 5.1 0.2 13 0.2 0.2 0.3 0.3 0.4 0.3 0.3 0.3 0.4 0.3 0.4 0.3 0.3 0.4 0.4 0.3 0.4 0.3 0.3 0.3 0.4 0.3 0 1.9 0.3 36 0.1 -2.5 0 -2.5 0.1 -2.4 0.1 -2.5 0.1 -2.1 0 -0.4 0.1 -2.4 0.1 -2.5 0.2 0 0.3 0.1 0.4 0 0.4 0.1 0.3 0.1 0.4 0 0.4 0.1 0.3 0.1 0.4 0 0.3 0.1 0.4 0 0.2 0.1 0.1 0 0.1 -0.7 0.1 -31.5 0 -6.3 0.1 0 0.1 0 0 4 0.2 9.9 0.2 0.2 0.4 0.3 0.3 0.3 0.4 0.3 0.4 0.3 0.3 0.3 0.4 0.3 0.3 0.4 0.4 0.3 0.4 0.3 0.3 0.3 0 1.8 0.3 34.3 0.1 -2.2 0.1 -2.2 0.1 -2.2 0.1 -2.3 0.1 -1.8 0 -0.4 0.1 -2.2 0.1 -2.2 0.1 0 0.4 0.1 0.3 0.1 0.4 0 0.4 0.1 0.3 0.1 0.4 0 0.4 0.1 0.3 0.1 0.4 0 0.3 0 0.2 0.1 0.1 0 0.1 -1.2 0.1 -27 0 -5.4 0.1 -0.1 0.1 -0.2 0.1 2.7 0.2 6.9 0.1 0 0.4 0.2 0.4 0.2 0.3 0.3 0.4 0.3 0.4 0.3 0.3 0.3 0.4 0.3 0.3 0.3 0.4 0.4 0.4 0.5 0 1.6 0.2 30.9 0.1 -1.7 0.1 -1.7 0.1 -1.7 0.1 -1.7 0.1 -1.4 0 -0.3 0.1 -1.7 0.1 -1.7 0.2 0.2 0.3 0.3 0.4 0.1 0.3 0.1 0.4 0.1 0.4 0.1 0.3 0 0.4 0.1 0.4 0 0.3 -0.1 0.4 -0.3 0.2 -0.3 0.1 -0.1 0.1 -1.9 0 -21.8 0.1 -4.4 0 -0.4 0.1 -0.4 0.1 1.5 0.2 4.1 0.2 -0.3 0.3 -0.2 0.4 0.1 0.4 0.2 0.3 0.3 0.4 0.2 0.4 0.3 0.3 0.2 0.4 0.4 0.3 0.5 0.4 0.9 0 1.4 0.3 26.6 0.1 -1.1 0.1 -1 0.1 -1 0.1 -1.1 0 -0.8 0 -0.2 0.1 -1.1 0.1 -1.1 0.2 0.6 0.4 0.7 0.3 0.4 0.4 0.1 0.4 0.1 0.3 0 0.4 0.1 0.3 0 0.4 -0.1 0.4 -0.4 0.3 -1 0.2 -0.7 0.1 -0.5 0.1 -2.4 0.1 -16.9 0 -3.4 0.1 -0.7 0.1 -0.8 0.1 0.6 0.2 1.7 0.1 -0.6 0.4 -0.6 0.3 -0.1 0.4 0.1 0.4 0.2 0.3 0.2 0.4 0.2 0.4 0.2 0.3 0.4 0.4 0.7 0.3 1.4 0 1.1 0.3 21.5 0.1 -0.3 0.1 -0.3 0.1 -0.2 0.1 -0.2 0.1 -0.2 0.1 -0.3 0.1 -0.4 0.1 1 0.4 1.4 0.4 0.5 0.3 0.2 0.4 0.1 0.4 0.1 0.3 0 0.4 -0.1 0.3 -0.2 0.4 -0.8 0.4 -1.9 0.1 -1.4 0.1 -0.9 0.1 -2.8 0.1 -12.1 0 -2.4 0.1 -1 0.1 -1.2 0.1 -0.4 0.2 -0.3 0.2 -0.9 0.3 -1.1 0.4 -0.3 0.3 -0.1 0.4 0.1 0.4 0.2 0.3 0.1 0.4 0.3 0.4 0.4 0.3 0.8 0.4 2 0 0.8 0.3 16.3 0.1 0.4 0 0.6 0.1 0.7 0.1 0.6 0.1 0.5 0 0.1 0.1 0.5 0.1 0.4 0.2 1.5 0.3 2 0.4 0.8 0.4 0.3 0.3 0.1 0.4 0.1 0.4 -0.1 0.3 -0.1 0.4 -0.4 0.3 -1.2 0.4 -2.9 0.2 -2.1 0.1 -1.3 0.1 -3.3 0.1 -8 0 -1.6 0.1 -1.4 0.1 -1.6 0 -0.9 0.2 -1.7 0.2 -1.4 0.4 -1.5 0.3 -0.6 0.4 -0.1 0.4 0 0.3 0.1 0.4 0.1 0.3 0.2 0.4 0.5 0.4 1 0.3 2.5 0 0.6 0.3 11.5 0.1 1.2 0.1 1.3 0.1 1.5 0.1 1.4 0.1 1.1 0 0.2 0.1 1.3 0.1 1 0.1 2 0.4 2.7 0.3 1 0.4 0.4 0.4 0.1 0.3 0.1 0.4 -0.1 0.4 -0.1 0.3 -0.6 0.4 -1.7 0.3 -3.8 0.2 -2.9 0.1 -1.7 0.1 -3.4 0.1 -4.8 0 -1 0.1 -1.7 0.1 -1.9 0.1 -1.4 0.2 -2.8 0.1 -1.6 0.4 -2 0.4 -0.7 0.3 -0.2 0.4 0 0.4 0 0.3 0.1 0.4 0.1 0.3 0.5 0.4 1.2 0.4 3 0 0.4 0.2 7.7 0.1 1.8 0.1 2 0.1 2 0.1 2.1 0.1 1.6 0 0.3 0.1 1.8 0.1 1.6 0.2 2.4 0.3 3.2 0.4 1.3 0.3 0.4 0.4 0.2 0.4 0 0.3 0 0.4 -0.3 0.4 -0.7 0.3 -2 0.4 -4.7 0.2 -3.4 0.1 -2.2 0.1 -3.1 0 -2.9 0.1 -0.6 0 -1.8 0.1 -2.2 0.1 -1.7 0.2 -3.3 0.2 -1.8 0.3 -2.2 0.4 -0.9 0.4 -0.2 0.3 -0.1 0.4 0 0.4 0 0.3 0.2 0.4 0.5 0.3 1.3 0.4 3.3 0 0.2 0.3 5.5 0.1 2.1 0.1 2.3 0.1 2.5 0.1 2.4 0 2 0 0.3 0.1 2.2 0.1 1.9 0.2 2.7 0.4 3.5 0.3 1.4 0.4 0.5 0.4 0.2 0.3 0 0.4 -0.1 0.3 -0.3 0.4 -0.8 0.4 -2.2 0.3 -5.2 0.2 -3.8 0.1 -2.4 0.1 -2.6 0.1 -2.6 0.1 -2.4 0.1 -2.2 0.1 -1.7 0.3 -5.3 0.4 -2.3 0.3 -0.8 0.4 -0.3 0.4 -0.1 0.3 0 0.4 0.1 0.4 0.1 0.3 0.5 0.4 1.4 0.3 3.5 0.4 7.1 0.1 2.4 0.1 2.6 0.1 2.5 0.1 2 0 0.4 0.1 2.2 0.2 4.7 0.4 3.7 0.4 1.4 0.3 0.5 0.4 0.2 0.4 0 0.3 -0.1 0.4 -0.3 0.3 -0.8 0.4 -2.3 0.4 -5.3 0.1 -3.9 0.1 -2.4 0.1 -2.5 0.1 -2.6 0.1 -2.4 0.1 -2.2 0.1 -1.7 0.4 -5.3 0.3 -2.3 0.4 -0.8 0.3 -0.3 0.4 -0.1 0.4 0 0.3 0.1 0.4 0.1 0.4 0.5 0.3 1.4 0.4 3.5 0.4 7.1 0 2.4 0.1 2.6 0.1 2.5 0.1 2 0 0.4 0.1 2.2 0.3 4.7 0.3 3.7 0.4 1.4 0.4 0.5 0.3 0.2 0.4 0 0.4 -0.1 0.3 -0.3 0.4 -0.8 0.3 -2.3 0.4 -5.3 0.2 -3.9 0.1 -2.4 0.1 -2.5 0.1 -2.6 0.1 -2.4 0.1 -2.2 0 -1.7 0.4 -5.3 0.4 -2.3 0.3 -0.8 0.4 -0.3 0.4 -0.1 0.3 0 0.4 0.1 0.3 0.1 0.4 0.5 0.4 1.4 0.3 3.5 0.4 7.1 0.1 2.4 0.1 2.6 0.1 2.5 0.1 2 0 0.4 0.1 2.2 0.2 4.7 0.4 3.7 0.3 1.4 0.4 0.5 0.4 0.2 0.3 0 0.4 -0.1 0.4 -0.3 0.3 -0.8 0.4 -2.3 0.3 -5.3 0.2 -3.9 0.1 -2.4 0.1 -2.5 0.1 -2.6 0.1 -2.4 0.1 -2.2 0.1 -1.7 0.3 -5.3 0.4 -2.3 0.4 -0.8 0.3 -0.3 0.4 -0.1 0.4 0 0.3 0.1 0.4 0.1 0.3 0.5 0.4 1.4 0.4 3.5 0.3 7.1 0.1 2.4 0.1 2.6 0.1 2.5 0.1 2 0 0.4 0.1 2.2 0.3 4.7 0.3 3.7 0.4 1.4 0.3 0.5 0.4 0.2 0.4 0 0.3 -0.1 0.4 -0.3 0.4 -0.8 0.3 -2.3 0.4 -5.3 0.2 -3.9 0.1 -2.4 0.1 -2.5 0 -2.6 0.1 -2.4 0.1 -2.2 0.1 -1.7 0.4 -5.3 0.3 -2.3 0.4 -0.8 0.4 -0.3 0.3 -0.1 0.4 0 0.4 0.1 0.3 0.1 0.4 0.5 0.3 1.4 0.4 3.5 0.4 7.1 0.1 2.4 0.1 2.6 0.1 2.5 0 2 0 0.4 0.1 2.2 0.3 4.7 0.4 3.7 0.3 1.4 0.4 0.5 0.4 0.2 0.3 0 0.4 -0.1 0.3 -0.3 0.4 -0.8 0.4 -2.3 0.3 -5.3 0.2 -3.9 0.1 -2.4 0.1 -2.5 0.1 -2.6 0.1 -2.4 0.1 -2.2 0.1 -1.7 0.3 -5.3 0.4 -2.3 0.3 -0.8 0.4 -0.3 0.4 -0.1 0.3 0 0.4 0.1 0.4 0.1 0.3 0.5 0.4 1.4 0.3 3.5 0.4 7.1 0.1 2.4 0.1 2.6 0.1 2.5 0.1 2 0 0.4 0.1 2.2 0.2 4.7 0.4 3.7 0.4 1.4 0.3 0.5 0.4 0.2 0.4 0 0.3 -0.1 0.4 -0.3 0.3 -0.8 0.4 -2.3 0.4 -5.3 0.1 -3.9 0.1 -2.4 0.1 -2.5 0.1 -2.6 0.1 -2.4 0.1 -2.2 0.1 -1.7 0.4 -5.3 0.3 -2.3 0.4 -0.8 0.3 -0.3 0.4 -0.1 0.4 0 0.3 0.1 0.4 0.1 0.4 0.5 0.3 1.4 0.4 3.5 0.4 7.1 0 2.4 0.1 2.6 0.1 2.5 0.1 2 0 0.4 0.1 2.2 0.3 4.7 0.3 3.7 0.4 1.4 0.4 0.5 0.3 0.2 0.4 0 0.4 -0.1 0.3 -0.3 0.4 -0.8 0.3 -2.3 0.4 -5.3 0.2 -3.9 0.1 -2.4 0.1 -2.5 0.1 -2.6 0.1 -2.4 0.1 -2.2 0 -1.7 0.4 -5.3 0.4 -2.3 0.3 -0.8 0.4 -0.3 0.4 -0.1 0.3 0 0.4 0.1 0.3 0.1 0.4 0.5 0.4 1.4 0.3 3.5 0.4 7.1 0.1 2.4 0.1 2.6 0.1 2.5 0.1 2 0 0.4 0.1 2.2 0.2 4.7 0.4 3.7 0.3 1.4 0.4 0.5 0.4 0.2 0.3 0 0.4 -0.1 0.4 -0.3 0.3 -0.8 0.4 -2.3 0.3 -5.3 0.2 -3.9 0.1 -2.4 0.1 -2.5 0.1 -2.6 0.1 -2.4 0.1 -2.2 0.1 -1.7 0.3 -5.3 0.4 -2.3 0.4 -0.8 0.3 -0.3 0.4 -0.1 0.4 0 0.3 0.1 0.4 0.1 0.3 0.5 0.4 1.4 0.4 3.5 0.3 7.1 0.1 2.4 0.1 2.6 0.1 2.5 0.1 2 0 0.4 0.1 2.2 0.3 4.7 0.3 3.7 0.4 1.4 0.3 0.5 0.4 0.2 0.4 0 0.3 -0.1 0.4 -0.3 0.4 -0.8 0.3 -2.3 0.4 -5.3 0.2 -3.9 0.1 -2.4 0.1 -2.5 0 -2.6 0.1 -2.4 0.1 -2.2 0.1 -1.7 0.4 -5.3 0.3 -2.3 0.4 -0.8 0.4 -0.3 0.3 -0.1 0.4 0 0.4 0.1 0.3 0.1 0.4 0.5 0.3 1.4 0.4 3.5 0.4 7.1 0.1 2.4 0.1 2.6 0.1 2.5 0 2 0 0.4 0.1 2.2 0.3 4.7 0.4 3.7 0.3 1.4 0.4 0.5 0.4 0.2 0.3 0 0.4 -0.1 0.3 -0.3 0.4 -0.8 0.4 -2.3 0.3 -5.3 0.2 -3.9 0.1 -2.4 0.1 -2.5 0.1 -2.6 0.1 -2.4 0.1 -2.2 0.1 -1.7 0.3 -5.3 0.4 -2.3 0.3 -0.8 0.4 -0.3 0.4 -0.1 0.3 0 0.4 0.1 0.4 0.1 0.3 0.5 0.4 1.4 0.3 3.5 0.4 7.1 0.1 2.4 0.1 2.6 0.1 2.5 0.1 2 0 0.4 0.1 2.2 0.2 4.7 0.4 3.7 0.4 1.4 0.3 0.5 0.4 0.2 0.4 0 0.3 -0.1 0.4 -0.3 0.3 -0.8 0.4 -2.3 0.4 -5.3 0.1 -3.9 0.1 -2.4 0.1 -2.5 0.1 -2.6 0.1 -2.4 0.1 -2.2 0.1 -1.7 0.4 -5.3 0.3 -2.3 0.4 -0.8 0.3 -0.3 0.4 -0.1 0.4 0 0.3 0.1 0.4 0.1 0.4 0.5 0.3 1.4 0.4 3.5 0.4 7.1 0 2.4 0.1 2.6 0.1 2.5 0.1 2 0 0.4 0.1 2.2 0.3 4.7 0.3 3.7 0.4 1.4 0.4 0.5 0.3 0.2 0.4 0 0.4 -0.1 0.3 -0.3 0.4 -0.8 0.3 -2.3 0.4 -5.3 0.2 -3.9 0.1 -2.4 0.1 -2.5 0.1 -2.6 0.1 -2.4 0.1 -2.2 0 -1.7 0.4 -5.3 0.4 -2.3 0.3 -0.8 0.4 -0.3 0.4 -0.1 0.3 0 0.4 0.1 0.3 0.1 0.4 0.5 0.4 1.4 0.3 3.5 0.4 7.1 0.1 2.4 0.1 2.6 0.1 2.5 0.1 2 0 0.4 0.1 2.2 0.2 4.7 0.4 3.7 0.3 1.4 0.4 0.5 0.4 0.2 0.3 0 0.4 -0.1 0.4 -0.3 0.3 -0.8 0.4 -2.3 0.3 -5.3 0.2 -3.9 0.1 -2.4 0.1 -2.5 0.1 -2.6 0.1 -2.4 0.1 -2.2 0.1 -1.7 0.3 -5.3 0.4 -2.3 0.4 -0.8 0.3 -0.3 0.4 -0.1 0.4 0 0.3 0.1 0.4 0.1 0.3 0.5 0.4 1.4 0.4 3.5 0.3 7.1 0.1 2.4 0.1 2.6 0.1 2.5 0.1 2 0 0.4 0.1 2.2 0.3 4.7 0.3 3.7 0.4 1.4 0.3 0.5 0.4 0.2 0.4 0 0.3 -0.1 0.4 -0.3 0.4 -0.8 0.3 -2.3 0.4 -5.3 0.2 -3.9 0.1 -2.4 0.1 -2.5 0 -2.6 0.1 -2.4 0.1 -2.2 0.1 -1.7 0.4 -5.3 0.3 -2.3 0.4 -0.8 0.4 -0.3 0.3 -0.1 0.4 0 0.4 0.1 0.3 0.1 0.4 0.5 0.3 1.4 0.4 3.5 0.4 7.1 0.1 2.4 0.1 2.6 0.1 2.5 0 2 0 0.4 0.1 2.2 0.3 4.7 0.4 3.7 0.3 1.4 0.4 0.5 0.4 0.2 0.3 0 0.4 -0.1 0.3 -0.3 0.4 -0.8 0.4 -2.3 0.3 -5.3 0.2 -3.9 0.1 -2.4 0.1 -2.5 0.1 -2.6 0.1 -2.4 0.1 -2.2 0.1 -1.7 0.3 -5.3 0.4 -2.3 0.3 -0.8 0.4 -0.3 0.4 -0.1 0.3 0 0.4 0.1 0.4 0.1 0.3 0.5 0.4 1.4 0.3 3.5 0.4 7.1 0.1 2.4 0.1 2.6 0.1 2.5 0.1 2 0 0.4 0.1 2.2 0.2 4.7 0.4 3.7 0.4 1.4 0.3 0.5 0.4 0.2 0.4 0 0.3 -0.1 0.4 -0.3 0.3 -0.8 0.4 -2.3 0.4 -5.3 0.1 -3.9 0.1 -2.4 0.1 -2.5 0.1 -2.6 0.1 -2.4 0.1 -2.2 0.1 -1.7 0.4 -5.3 0.3 -2.3 0.4 -0.8 0.3 -0.3 0.4 -0.1 0.4 0 0.3 0.1 0.4 0.1 0.4 0.5 0.3 1.4 0.4 3.5 0.4 7.1 0 2.4 0.1 2.6 0.1 2.5 0.1 2 0 0.4 0.1 2.2 0.3 4.7 0.3 3.7 0.4 1.4 0.4 0.5 0.3 0.2 0.4 0 0.4 -0.1 0.3 -0.3 0.4 -0.8 0.3 -2.3 0.4 -5.3 0.2 -3.9 0.1 -2.4 0.1 -2.5 0.1 -2.6 0.1 -2.4 0.1 -2.2 0 -1.7 0.4 -5.3 0.4 -2.3 0.3 -0.8 0.4 -0.3 0.4 -0.1 0.3 0 0.4 0.1 0.3 0.1 0.4 0.5 0.4 1.4 0.3 3.5 0.4 7.1 0.1 2.4 0.1 2.6 0.1 2.5 0.1 2 0 0.4 0.1 2.2 0.2 4.7 0.4 3.7 0.3 1.4 0.4 0.5 0.4 0.2 0.3 0 0.4 -0.1 0.4 -0.3 0.3 -0.8 0.4 -2.3 0.3 -5.3 0.2 -3.9 0.1 -2.4 0.1 -2.5 0.1 -2.6 0.1 -2.4 0.1 -2.2 0.1 -1.7 0.3 -5.3 0.4 -2.3 0.4 -0.8 0.3 -0.3 0.4 -0.1 0.4 0 0.3 0.1 0.4 0.1 0.3 0.5 0.4 1.4 0.4 3.5 0.3 7.1 0.1 2.4 0.1 2.6 0.1 2.5 0.1 2 0 0.4 0.1 2.2 0.3 4.7 0.3 3.7 0.4 1.4 0.3 0.5 0.4 0.2 0.4 0 0.3 -0.1 0.4 -0.3 0.4 -0.8 0.3 -2.3 0.4 -5.3 0.2 -3.9 0.1 -2.4 0.1 -2.5 0 -2.5 0.1 -2.5 0.1 -2.2 0.1 -1.7 0.4 -5.3 0.3 -2.3 0.4 -0.8 0.4 -0.3 0.3 -0.1 0.4 0 0.4 0.1 0.3 0.1 0.4 0.5 0.3 1.4 0.4 3.5 0.4 7.1 0.1 2.5 0.1 2.5 0.1 2.5 0 2 0 0.4 0.1 2.2 0.3 4.7 0.4 3.7 0.3 1.4 0.4 0.5 0.4 0.2 0.3 0 0.4 -0.1 0.3 -0.3 0.4 -0.8 0.4 -2.3 0.3 -5.3 0.2 -3.9 0.1 -2.4 0.1 -2.5 0.1 -2.5 0.1 -2.4 0.1 -2.3 0.1 -1.7 0.3 -5.3 0.4 -2.2 0.3 -0.9 0.4 -0.3 0.4 0 0.3 -0.1 0.4 0.1 0.4 0.1 0.3 0.5 0.4 1.4 0.3 3.5 0.4 7.2 0.1 2.4 0.1 2.5 0.1 2.5 0.1 2 0 0.4 0.1 2.2 0.2 4.7 0.4 3.7 0.4 1.4 0.3 0.5 0.4 0.2 0.4 0 0.3 -0.1 0.4 -0.3 0.3 -0.8 0.4 -2.3 0.4 -5.3 0.1 -3.9 0.1 -2.4 0.1 -2.5 0.1 -2.5 0.1 -2.4 0.1 -2.3 0.1 -1.7 0.4 -5.2 0.3 -2.3 0.4 -0.8 0.3 -0.3 0.4 -0.1 0.4 0 0.3 0 0.4 0.2 0.4 0.4 0.3 1.4 0.4 3.5 0.4 7.2 0 2.4 0.1 2.5 0.1 2.5 0.1 2 0 0.4 0.1 2.2 0.3 4.7 0.3 3.7 0.4 1.4 0.4 0.5 0.3 0.2 0.4 0 0.4 -0.1 0.3 -0.3 0.4 -0.8 0.3 -2.3 0.4 -5.3 0.2 -3.9 0.1 -2.4 0.1 -2.5 0.1 -2.5 0.1 -2.4 0.1 -2.2 0 -1.7 0.4 -5.3 0.4 -2.3 0.3 -0.8 0.4 -0.3 0.4 -0.1 0.3 0 0.4 0 0.3 0.2 0.4 0.5 0.4 1.3 0.3 3.5 0.4 7.2 0.1 2.4 0.1 2.5 0.1 2.5 0.1 2.1 0 0.3 0.1 2.2 0.2 4.7 0.4 3.7 0.3 1.4 0.4 0.5 0.4 0.2 0.3 0 0.4 -0.1 0.4 -0.3 0.3 -0.8 0.4 -2.3 0.3 -5.3 0.2 -3.9 0.1 -2.4 0.1 -2.5 0.1 -2.5 0.1 -2.4 0.1 -2.2 0.1 -1.7 0.3 -5.3 0.4 -2.3 0.4 -0.8 0.3 -0.3 0.4 -0.1 0.4 0 0.3 0 0.4 0.2 0.3 0.5 0.4 1.3 0.4 3.5 0.3 7.2 0.1 2.4 0.1 2.5 0.1 2.5 0.1 2.1 0 0.3 0.1 2.2 0.3 4.7 0.3 3.7 0.4 1.4 0.3 0.5 0.4 0.2 0.4 0 0.3 -0.1 0.4 -0.3 0.4 -0.8 0.3 -2.3 0.4 -5.3 0.2 -3.9 0.1 -2.4 0.1 -2.5 0 -2.5 0.1 -2.4 0.1 -2.2 0.1 -1.7 0.4 -5.3 0.3 -2.3 0.4 -0.8 0.4 -0.3 0.3 -0.1 0.4 0 0.4 0.1 0.3 0.1 0.4 0.5 0.3 1.4 0.4 3.5 0.4 7.1 0.1 2.4 0.1 2.5 0.1 2.5 0 2.1 0 0.3 0.1 2.2 0.3 4.8 0.4 3.6 0.3 1.4 0.4 0.5 0.4 0.2 0.3 0 0.4 -0.1 0.3 -0.3 0.4 -0.8 0.4 -2.3 0.3 -5.3 0.2 -3.9 0.1 -2.4 0.1 -2.5 0.1 -2.5 0.1 -2.4 0.1 -2.2 0.1 -1.7 0.3 -5.3 0.4 -2.2 0.3 -0.9 0.4 -0.2 0.4 -0.1 0.3 -0.1 0.4 0.1 0.4 0.1 0.3 0.5 0.4 1.4 0.3 3.5 0.4 7.1 0.1 2.4 0.1 2.5 0.1 2.5 0.1 2.1 0 0.3 0.1 2.3 0.2 4.7 0.4 3.6 0.4 1.4 0.3 0.5 0.4 0.2 0.4 0 0.3 -0.1 0.4 -0.3 0.3 -0.8 0.4 -2.3 0.4 -5.3 0.1 -3.9 0.1 -2.4 0.1 -2.5 0.1 -2.5 0.1 -2.4 0.1 -2.2 0.1 -1.7 0.4 -5.3 0.3 -2.2 0.4 -0.8 0.3 -0.3 0.4 -0.1 0.4 0 0.3 0 0.4 0.2 0.4 0.4 0.3 1.4 0.4 3.5 0.4 7.1 0 2.4 0.1 2.5 0.1 2.5 0.1 2.1 0 0.3 0.1 2.3 0.3 4.7 0.3 3.6 0.4 1.4 0.4 0.5 0.3 0.2 0.4 0 0.4 -0.1 0.3 -0.3 0.4 -0.8 0.3 -2.3 0.4 -5.2 0.2 -4 0.1 -2.4 0.1 -2.5 0.1 -2.4 0.1 -2.4 0.1 -2.3 0 -1.7 0.4 -5.2 0.4 -2.3 0.3 -0.8 0.4 -0.3 0.4 -0.1 0.3 0 0.4 0 0.3 0.2 0.4 0.5 0.4 1.3 0.3 3.5 0.4 7.2 0.1 2.4 0.1 2.4 0.1 2.5 0.1 2.1 0 0.3 0.1 2.3 0.2 4.7 0.4 3.6 0.3 1.4 0.4 0.5 0.4 0.2 0.3 0 0.4 -0.1 0.4 -0.3 0.3 -0.8 0.4 -2.3 0.3 -5.2 0.2 -4 0.1 -2.4 0.1 -2.4 0.1 -2.5 0.1 -2.4 0.1 -2.3 0.1 -1.6 0.3 -5.3 0.4 -2.3 0.4 -0.8 0.3 -0.3 0.4 -0.1 0.4 0 0.3 0.1 0.4 0.1 0.3 0.5 0.4 1.3 0.4 3.5 0.3 7.2 0.1 2.4 0.1 2.5 0.1 2.5 0.1 2 0 0.4 0.1 2.2 0.3 4.7 0.3 3.6 0.4 1.4 0.3 0.5 0.4 0.2 0.4 0 0.3 -0.1 0.4 -0.3 0.4 -0.8 0.3 -2.3 0.4 -5.2 0.2 -3.9 0.1 -2.4 0.1 -2.5 0 -2.5 0.1 -2.4 0.1 -2.2 0.1 -1.7 0.4 -5.3 0.3 -2.3 0.4 -0.8 0.4 -0.3 0.3 -0.1 0.4 0 0.4 0.1 0.3 0.1 0.4 0.5 0.3 1.4 0.4 3.5 0.4 7.1 0.1 2.4 0.1 2.5 0.1 2.5 0 2 0 0.4 0.1 2.2 0.3 4.7 0.4 3.6 0.3 1.4 0.4 0.5 0.4 0.2 0.3 0 0.4 -0.1 0.3 -0.3 0.4 -0.8 0.4 -2.3 0.3 -5.2 0.2 -3.9 0.1 -2.4 0.1 -2.5 0.1 -2.5 0.1 -2.4 0.1 -2.2 0.1 -1.7 0.3 -5.3 0.4 -2.2 0.3 -0.9 0.4 -0.2 0.4 -0.1 0.3 -0.1 0.4 0.1 0.4 0.2 0.3 0.4 0.4 1.4 0.3 3.5 0.4 7.1 0.1 2.4 0.1 2.5 0.1 2.5 0.1 2 0 0.4 0.1 2.2 0.2 4.7 0.4 3.6 0.4 1.4 0.3 0.5 0.4 0.2 0.4 0 0.3 -0.1 0.4 -0.3 0.3 -0.8 0.4 -2.3 0.4 -5.2 0.1 -3.9 0.1 -2.4 0.1 -2.5 0.1 -2.5 0.1 -2.4 0.1 -2.2 0.1 -1.7 0.4 -5.3 0.3 -2.2 0.4 -0.8 0.3 -0.3 0.4 -0.1 0.4 0 0.3 0 0.4 0.2 0.4 0.4 0.3 1.4 0.4 3.5 0.4 7.1 0 2.4 0.1 2.5 0.1 2.5 0.1 2 0 0.4 0.1 2.2 0.3 4.7 0.3 3.6 0.4 1.4 0.4 0.5 0.3 0.2 0.4 0 0.4 -0.1 0.3 -0.3 0.4 -0.8 0.3 -2.3 0.4 -5.2 0.2 -3.9 0.1 -2.4 0.1 -2.5 0.1 -2.5 0.1 -2.4 0.1 -2.2 0 -1.7 0.4 -5.2 0.4 -2.3 0.3 -0.8 0.4 -0.3 0.4 -0.1 0.3 0 0.4 0 0.3 0.2 0.4 0.5 0.4 1.3 0.3 3.5 0.4 7.1 0.1 2.4 0.1 2.5 0.1 2.5 0.1 2 0 0.4 0.1 2.2 0.2 4.7 0.4 3.6 0.3 1.4 0.4 0.5 0.4 0.2 0.3 0 0.4 -0.1 0.4 -0.3 0.3 -0.8 0.4 -2.3 0.3 -5.2 0.2 -3.9 0.1 -2.4 0.1 -2.5 0.1 -2.5 0.1 -2.4 0.1 -2.2 0.1 -1.7 0.3 -5.2 0.4 -2.3 0.4 -0.8 0.3 -0.3 0.4 -0.1 0.4 0 0.3 0.1 0.4 0.1 0.3 0.5 0.4 1.3 0.4 3.5 0.3 7.1 0.1 2.4 0.1 2.5 0.1 2.5 0.1 2 0 0.4 0.1 2.2 0.3 4.7 0.3 3.6 0.4 1.4 0.3 0.5 0.4 0.2 0.4 0 0.3 -0.1 0.4 -0.3 0.4 -0.8 0.3 -2.3 0.4 -5.2 0.2 -3.9 0.1 -2.4 0.1 -2.5 0 -2.5 0.1 -2.4 0.1 -2.2 0.1 -1.7 0.4 -5.2 0.3 -2.3 0.4 -0.8 0.4 -0.3 0.3 -0.1 0.4 0 0.4 0.1 0.3 0.1 0.4 0.5 0.3 1.4 0.4 3.4 0.4 7.1 0.1 2.4 0.1 2.5 0.1 2.5 0 2 0 0.4 0.1 2.2 0.3 4.7 0.4 3.6 0.3 1.4 0.4 0.5 0.4 0.2 0.3 0 0.4 -0.1 0.3 -0.3 0.4 -0.8 0.4 -2.3 0.3 -5.2 0.2 -3.9 0.1 -2.4 0.1 -2.5 0.1 -2.5 0.1 -2.3 0.1 -2.3 0.1 -1.6 0.3 -5.3 0.4 -2.2 0.3 -0.9 0.4 -0.2 0.4 -0.1 0.3 0 0.4 0 0.4 0.2 0.3 0.4 0.4 1.4 0.3 3.5 0.4 7.1 0.1 2.3 0.1 2.5 0.1 2.5 0.1 2.1 0 0.3 0.1 2.2 0.2 4.7 0.4 3.6 0.4 1.4 0.3 0.5 0.4 0.2 0.4 0 0.3 -0.1 0.4 -0.3 0.3 -0.8 0.4 -2.3 0.4 -5.2 0.1 -3.9 0.1 -2.4 0.1 -2.5 0.1 -2.4 0.1 -2.4 0.1 -2.2 0.1 -1.7 0.4 -5.3 0.3 -2.2 0.4 -0.8 0.3 -0.3 0.4 -0.1 0.4 0 0.3 0 0.4 0.2 0.4 0.4 0.3 1.4 0.4 3.5 0.4 7.1 0 2.4 0.1 2.4 0.1 2.5 0.1 2.1 0 0.3 0.1 2.2 0.3 4.7 0.3 3.6 0.4 1.4 0.4 0.5 0.3 0.2 0.4 0 0.4 -0.1 0.3 -0.3 0.4 -0.8 0.3 -2.3 0.4 -5.2 0.2 -3.9 0.1 -2.4 0.1 -2.4 0.1 -2.5 0.1 -2.4 0.1 -2.2 0 -1.7 0.4 -5.2 0.4 -2.3 0.3 -0.8 0.4 -0.3 0.4 -0.1 0.3 0 0.4 0 0.3 0.2 0.4 0.5 0.4 1.3 0.3 3.5 0.4 7.1 0.1 2.4 0.1 2.5 0.1 2.4 0.1 2.1 0 0.3 0.1 2.2 0.2 4.7 0.4 3.6 0.3 1.4 0.4 0.5 0.4 0.2 0.3 0 0.4 -0.1 0.4 -0.3 0.3 -0.8 0.4 -2.2 0.3 -5.3 0.2 -3.9 0.1 -2.4 0.1 -2.4 0.1 -2.5 0.1 -2.4 0.1 -2.2 0.1 -1.7 0.3 -5.2 0.4 -2.3 0.4 -0.8 0.3 -0.3" fill="none" stroke="#1a6ae0" stroke-width="2.2" stroke-linejoin="round" clip-path="url(#pc1)"/><path d="M681.2 327.9l1.4 -9 1 -3.3 0.2 16.5 0.1 -5.8 0.2 -5.8 1 -1.7 1.1 -0.7 1.6 1.2 0.3 4.5 0.2 -0.8 0.2 -8 1 -2 1.4 -1.6 1.4 -0.5 0.4 -0.4 0.2 1.6 0.2 9.2 0.1 10.8 0.2 -5.8 0.2 -5.8 1 -1.7 1 -0.7 1.6 1.2 0.3 4.5 0.3 -0.8 0.2 -8.2 0.9 -2 1.4 -1.6 1.4 -0.5 0.4 -0.4 0.3 1.7 0.1 9.2 0.1 10.9 0.1 0 0.1 -5.8 0.2 -5.8 1 -1.7 1.1 -0.7 1.6 1.2 0.3 4.5 0.2 -0.8 0.2 -8.4 1 -2 1.4 -1.6 1.4 -0.5 0.4 -0.4 0.2 1.7 0.2 9.3 0.1 11 0.2 -5.8 0.2 -5.8 1 -1.7 1 -0.7 1.6 1.2 0.3 4.5 0.3 -0.8 0.2 -8.6 0.9 -2 1.4 -1.6 1.4 -0.5 0.4 -0.4 0.3 1.7 0.1 9.4 0.1 11.1 0.1 0 0.1 -5.8 0.2 -5.8 1 -1.7 1.1 -0.7 1.6 1.2 0.3 4.5 0.2 -0.8 0.2 -8.7 1 -2.1 1.4 -1.6 1.4 -0.5 0.4 -0.4 0.2 1.7 0.1 9.5 0.2 11.2 0.2 -5.8 0.2 -5.8 1 -1.7 1 -0.7 1.6 1.2 0.3 4.5 0.3 -0.8 0.2 -8.9 0.9 -2.1 1.4 -1.6 1.4 -0.5 0.4 -0.4 0.3 1.7 0.1 9.6 0.1 11.3 0.1 0 0.1 -5.8 0.2 -5.8 1 -1.7 1 -0.7 1.7 1.2 0.3 4.5 0.2 -0.8 0.2 -9.1 1 -2.1 1.4 -1.6 1.4 -0.4 0.4 -0.5 0.2 1.7 0.1 9.7 0.2 11.4 0.2 -5.8 0.2 -5.8 1 -1.7 1 -0.7 1.6 1.2 0.3 4.5 0.3 -0.8 0.2 -9.3 0.9 -2.1 1.4 -1.5 1.4 -0.5 0.4 -0.5 0.3 1.7 0.1 9.8 0.1 11.5 0.1 0 0.1 -5.8 0.2 -5.8 1 -1.7 1 -0.7 1.7 1.2 0.3 4.5 0.2 -0.8 0.2 -9.5 1 -2.1 1.4 -1.5 1.4 -0.5 0.4 -0.4 0.2 1.6 0.1 9.9 0.2 11.6 0.2 -5.8 0.2 -5.8 1 -1.7 1 -0.7 1.6 1.2 0.3 4.5 0.3 -0.8 0.2 -9.7 0.9 -2.1 1.4 -1.5 1.4 -0.5 0.4 -0.4 0.2 1.6 0.2 10 0.1 11.7 0.1 0 0.1 -5.8 0.2 -5.8 1 -1.7 1 -0.7 1.6 1.2 0.4 4.5 0.2 -0.8 0.2 -9.9 0.9 -2 1.5 -1.6 1.4 -0.5 0.4 -0.4 0.2 1.6 0.1 10.1 0.2 11.8 0.2 -5.8 0.2 -5.8 0.9 -1.7 1.1 -0.7 1.6 1.2 0.3 4.5 0.3 -0.8 0.2 -10.1 0.9 -2 1.4 -1.6 1.4 -0.5 0.4 -0.4 0.2 1.6 0.2 10.2 0.1 11.9 0.1 0 0.1 -5.8 0.2 -5.8 1 -1.7 1 -0.7 1.6 1.2 0.4 4.5 0.2 -0.8 0.2 -10.3 0.9 -2 1.5 -1.6 1.4 -0.5 0.4 -0.4 0.2 1.6 0.1 10.3 0.2 12 0.2 -5.8 0.2 -5.8 0.9 -1.7 1.1 -0.7 1.6 1.2 0.3 4.5 0.3 -0.8 0.1 -10.5 1 -2 1.4 -1.6 1.4 -0.5 0.4 -0.4 0.2 1.6 0.2 10.4 0.1 12.1 0.1 0 0.1 -5.8 0.2 -5.8 1 -1.7 1 -0.7 1.6 1.2 0.4 4.5 0.2 -0.8 0.2 -10.7 0.9 -2 1.5 -1.6 1.4 -0.5 0.4 -0.4 0.2 1.6 0.1 10.5 0.2 12.2 0.2 -5.8 0.1 -5.8 1 -1.7 1.1 -0.7 1.6 1.2 0.3 4.5 0.3 -0.8 0.1 -10.9 1 -2 1.4 -1.6 1.4 -0.5 0.4 -0.4 0.2 1.6 0.2 10.6 0.1 12.3 0.1 0 0.1 -5.8 0.2 -5.8 1 -1.7 1 -0.7 1.6 1.2 0.4 4.5 0.2 -0.8 0.2 -11.1 0.9 -2 1.5 -1.6 1.4 -0.5 0.3 -0.4 0.3 1.6 0.1 10.7 0.2 12.4 0.2 -5.8 0.1 -5.8 1 -1.7 1.1 -0.7 1.6 1.2 0.3 4.5 0.2 -0.8 0.2 -11.2 1 -2.1 1.4 -1.5 1.4 -0.5 0.4 -0.4 0.2 1.6 0.2 10.8 0.1 12.4 0.1 0 0.1 -5.8 0.2 -5.8 1 -1.7 1 -0.7 1.6 1.2 0.4 4.5 0.2 -0.8 0.2 -11.4 0.9 -2 1.4 -1.6 1.5 -0.5 0.3 -0.4 0.3 1.7 0.1 10.8 0.2 12.5 0.2 -5.8 0.1 -5.8 1 -1.7 1.1 -0.7 1.6 1.2 0.3 4.5 0.2 -0.8 0.2 -11.5 1 -2 1.4 -1.6 1.4 -0.5 0.4 -0.4 0.2 1.6 0.2 10.9 0.1 12.6 0.1 0 0.1 -5.8 0.2 -5.8 1 -1.7 1 -0.7 1.6 1.2 0.4 4.5 0.2 -0.8 0.2 -11.6 0.9 -2.1 1.4 -1.6 1.5 -0.4 0.3 -0.5 0.3 1.7 0.1 10.9 0.2 12.7 0.1 -5.8 0.2 -5.8 1 -1.7 1.1 -0.7 1.6 1.2 0.3 4.5 0.2 -0.8 0.2 -11.8 1 -2 1.4 -1.6 1.4 -0.5 0.4 -0.4 0.2 1.7 0.2 11 0.1 12.7 0.1 0 0.1 -5.8 0.2 -5.8 1 -1.7 1 -0.7 1.6 1.2 0.4 4.5 0.2 -0.8 0.2 -11.9 0.9 -2 1.4 -1.6 1.5 -0.5 0.3 -0.4 0.3 1.6 0.1 11.1 0.2 12.8 0.1 -5.8 0.2 -5.8 1 -1.7 1.1 -0.7 1.6 1.2 0.3 4.5 0.2 -0.8 0.2 -11.5 1 -2.1 1.4 -1.6 1.4 -0.5 0.4 -0.4 0.2 1.7 0.2 10.9 0.1 12.6 0.1 0 0.1 -5.8 0.2 -5.8 1 -1.7 1 -0.7 1.6 1.2 0.3 4.5 0.3 -0.8 0.2 -11 0.9 -2.1 1.4 -1.5 1.5 -0.5 0.3 -0.4 0.3 1.6 0.1 10.7 0.2 12.3 0.1 -5.8 0.2 -5.8 1 -1.7 1.1 -0.7 1.6 1.2 0.3 4.5 0.2 -0.8 0.2 -10.5 1 -2 1.4 -1.6 1.4 -0.5 0.4 -0.4 0.2 1.6 0.2 10.4 0.1 12.1 0.2 -5.8 0.2 -5.8 1 -1.7 1 -0.7 1.6 1.2 0.3 4.5 0.3 -0.8 0.2 -10 0.9 -2 1.4 -1.6 1.4 -0.5 0.4 -0.4 0.3 1.6 0.1 10.2 0.1 11.8 0.1 0 0.1 -5.8 0.2 -5.8 1 -1.7 1.1 -0.7 1.6 1.2 0.3 4.5 0.2 -0.8 0.2 -10.1 1 -2 1.4 -1.6 1.4 -0.5 0.4 -0.4 0.2 1.6 0.2 10.2 0.1 11.9 0.2 -5.8 0.2 -5.8 1 -1.7 1 -0.7 1.6 1.2 0.3 4.5 0.3 -0.8 0.2 -10.3 0.9 -2.1 1.4 -1.5 1.4 -0.5 0.4 -0.4 0.3 1.6 0.1 10.3 0.1 12 0.1 0 0.1 -5.8 0.2 -5.8 1 -1.7 1.1 -0.7 1.6 1.2 0.3 4.5 0.2 -0.8 0.2 -10.6 1 -2 1.4 -1.6 1.4 -0.5 0.4 -0.4 0.2 1.7 0.1 10.4 0.2 12.1 0.2 -5.8 0.2 -5.8 1 -1.7 1 -0.7 1.6 1.2 0.3 4.5 0.3 -0.8 0.2 -10.8 0.9 -2 1.4 -1.6 1.4 -0.5 0.4 -0.4 0.3 1.6 0.1 10.6 0.1 12.2 0.1 0 0.1 -5.8 0.2 -5.8 1 -1.7 1 -0.7 1.7 1.2 0.3 4.5 0.2 -0.8 0.2 -11.1 1 -2 1.4 -1.6 1.4 -0.5 0.4 -0.4 0.2 1.7 0.1 10.6 0.2 12.4 0.2 -5.8 0.2 -5.8 1 -1.7 1 -0.7 1.6 1.2 0.3 4.5 0.3 -0.8 0.2 -11.1 0.9 -2.1 1.4 -1.6 1.4 -0.5 0.4 -0.4 0.3 1.7 0.1 10.7 0.1 12.4 0.1 0 0.1 -5.8 0.2 -5.8 1 -1.7 1 -0.7 1.7 1.2 0.3 4.5 0.2 -0.8 0.2 -11.2 1 -2 1.4 -1.6 1.4 -0.5 0.4 -0.4 0.2 1.6 0.1 10.8 0.2 12.4 0.2 -5.8 0.2 -5.8 1 -1.7 1 -0.7 1.6 1.2 0.3 4.5 0.3 -0.8 0.2 -11.2 0.9 -2.1 1.4 -1.6 1.4 -0.5 0.4 -0.4 0.2 1.7 0.2 10.7 0.1 12.5 0.1 0 0.1 -5.8 0.2 -5.8 1 -1.7 1 -0.7 1.6 1.2 0.4 4.5 0.2 -0.8 0.2 -11.3 0.9 -2 1.5 -1.6 1.4 -0.5 0.4 -0.4 0.2 1.6 0.1 10.8 0.2 12.5 0.2 -5.8 0.2 -5.8 0.9 -1.7 1.1 -0.7 1.6 1.2 0.3 4.5 0.3 -0.8 0.2 -11.3 0.9 -2.1 1.4 -1.6 1.4 -0.4 0.4 -0.5 0.2 1.7 0.2 10.8 0.1 12.5 0.1 0 0.1 -5.8 0.2 -5.8 1 -1.7 1 -0.7 1.6 1.2 0.4 4.5 0.2 -0.8 0.2 -11.4 0.9 -2 1.5 -1.6 1.4 -0.5 0.4 -0.4 0.2 1.6 0.1 10.9 0.2 12.5 0.2 -5.8 0.2 -5.8 0.9 -1.7 1.1 -0.7 1.6 1.2 0.3 4.5 0.3 -0.8 0.1 -11.4 1 -2.1 1.4 -1.5 1.4 -0.5 0.4 -0.4 0.2 1.6 0.2 10.9 0.1 12.5 0.1 0 0.1 -5.8 0.2 -5.8 1 -1.7 1 -0.7 1.6 1.2 0.4 4.5 0.2 -0.8 0.2 -11.5 0.9 -2 1.5 -1.6 1.4 -0.5 0.4 -0.4 0.2 1.7 0.1 10.8 0.2 12.6 0.2 -5.8 0.1 -5.8 1 -1.7 1.1 -0.7 1.6 1.2 0.3 4.5 0.3 -0.8 0.1 -11.5 1 -2.1 1.4 -1.5 1.4 -0.5 0.4 -0.4 0.2 1.6 0.2 10.9 0.1 12.6 0.1 0 0.1 -5.8 0.2 -5.8 1 -1.7 1 -0.7 1.6 1.2 0.4 4.5 0.2 -0.8 0.2 -11.6 0.9 -2 1.5 -1.6 1.4 -0.5 0.3 -0.4 0.3 1.7 0.1 10.9 0.2 12.6 0.2 -5.8 0.1 -5.8 1 -1.7 1.1 -0.7 1.6 1.2 0.3 4.5 0.2 -0.8 0.2 -11.6 1 -2 1.4 -1.6 1.4 -0.5 0.4 -0.4 0.2 1.6 0.2 11 0.1 12.6 0.1 0 0.1 -5.8 0.2 -5.8 1 -1.7 1 -0.7 1.6 1.2 0.4 4.5 0.2 -0.8 0.2 -11.7 0.9 -2 1.4 -1.6 1.5 -0.5 0.3 -0.4 0.3 1.7 0.1 10.9 0.2 12.7 0.2 -5.8 0.1 -5.8 1 -1.7 1.1 -0.7 1.6 1.2 0.3 4.5 0.2 -0.8 0.2 -11.7 1 -2 1.4 -1.6 1.4 -0.5 0.4 -0.4 0.2 1.6 0.2 11 0.1 12.7 0.1 0 0.1 -5.8 0.2 -5.8 1 -1.7 1 -0.7 1.6 1.2 0.4 4.5 0.2 -0.8 0.2 -11.7 0.9 -2.1 1.4 -1.6 1.5 -0.5 0.3 -0.4 0.3 1.7 0.1 11 0.2 12.7 0.1 -5.8 0.2 -5.8 1 -1.7 1.1 -0.7 1.6 1.2 0.3 4.5 0.2 -0.8 0.2 -11.8 1 -2 1.4 -1.6 1.4 -0.5 0.4 -0.4 0.2 1.6 0.2 11.1 0.1 12.7 0.1 0 0.1 -5.8 0.2 -5.8 1 -1.7 1 -0.7 1.6 1.2 0.4 4.5 0.2 -0.8 0.2 -11.8 0.9 -2.1 1.4 -1.6 1.5 -0.4 0.3 -0.5 0.3 1.7 0.1 11 0.2 12.8 0.1 -5.8 0.2 -5.8 1 -1.7 1.1 -0.7 1.6 1.2 0.3 4.5 0.2 -0.8 0.2 -11.9 1 -2 1.4 -1.6 1.4 -0.5 0.4 -0.4 0.2 1.6 0.2 11.1 0.1 12.8 0.1 0 0.1 -5.8 0.2 -5.8 1 -1.7 1 -0.7 1.6 1.2 0.3 4.5 0.3 -0.8 0.2 -11.9 0.9 -2.1" fill="none" stroke="#1a6ae0" stroke-width="2.2" stroke-linejoin="round" clip-path="url(#pc1)"/><path d="M168.8 507.4l1.2 3.3 0.2 33.7 0.3 -25.5 5.6 0.8 0.3 -0.9 0.1 -46 0.1 7.9 0.3 17.6 4.2 -0.4 0.1 49 0.3 -29.7 0.5 1.6 3.7 0.8 0.1 -0.9 0.1 -41 0.2 6.9 0.3 13.7 4.1 -0.4 0.2 49 0.3 -29.8 0.5 1.6 3.6 0.8 0.1 -0.9 0.1 -36.8 0.2 6.1 0.3 9.8 4.2 -0.5 0.1 45.6 0.3 -25.9 0.5 1.7 3.6 0.8 0.2 -0.9 0.1 -31.7 0.2 5.1 0.2 4.9 4.2 -0.4 0.1 42.2 0.4 -21.8 0.4 1.7 3.7 0.8 0.1 -0.9 0.1 -28.3 0.2 4.4 0.3 1.5 4.1 -0.4 0.2 36.5 0.3 -15.4 0.5 1.7 3.6 0.8 0.2 -0.9 0.1 -25.8 0.1 4 0.3 -1.3 4.2 -0.4 0.1 32.3 0.3 -10.5 0.5 1.7 3.7 0.8 0.1 -0.9 0.1 -24.8 0.2 1.3 0.3 0 4.1 -0.4 0.2 29.5 0.3 -7.3 0.5 1.7 3.6 0.8 0.1 -0.9 0.1 -23.8 0.2 0 0.3 0 4.2 -0.4 0.1 28.3 0.3 -5.8 0.5 1.7 3.6 0.8 0.2 -0.8 0.1 -24.2 0.2 0 0.2 0 4.2 -0.4 0.1 27 0.4 -4.1 0.4 1.7 3.7 0.8 0.1 -12.3 0.1 -5.2 0.1 -3.8 0.1 -2.2 0 -0.7 0.4 -1.2 0.3 0 0.4 0.1 0.3 0 0.3 0.1 0.4 0.1 0.3 0 0.3 0.1 0.4 0 0.3 0.1 0.4 0 0.3 0.1 0.3 0.9 0.2 3.2 0.1 3.7 0.1 2.8 0 2.3 0.1 5 0.1 3.7 0.1 2.1 0 0.2 0.3 1.6 0.4 0 0.3 -0.1 0.4 0 0.3 -0.1 0.3 -0.1 0.4 0 0.3 -0.1 0.3 -0.1 0.4 -0.1 0.3 -1.2 0.2 -2.8 0.1 -3.5 0.1 -5 0 -5.2 0.1 -3.7 0.1 -2.2 0.1 -0.7 0.3 -1.2 0.4 0 0.3 0.1 0.3 0 0.4 0.1 0.3 0.1 0.3 0 0.4 0.1 0.3 0 0.4 0.1 0.3 0 0.3 0.1 0.4 0.9 0.2 3.2 0.1 3.7 0 2.8 0 2.2 0.1 5 0.1 3.7 0.1 2.1 0 0.2 0.4 1.5 0.3 0.1 0.4 -0.1 0.3 -0.1 0.3 0 0.4 -0.1 0.3 -0.1 0.3 0 0.4 -0.1 0.3 -0.1 0.4 -1.2 0.1 -2.8 0.1 -3.5 0.1 -4.9 0.1 -5.2 0.1 -3.7 0.1 -2.2 0 -0.7 0.4 -1.2 0.3 0 0.3 0.1 0.4 0 0.3 0.1 0.4 0.1 0.3 0 0.3 0.1 0.4 0 0.3 0.1 0.3 0 0.4 0.1 0.3 0.9 0.2 3.2 0.1 3.7 0 2.7 0.1 2.3 0.1 5 0.1 3.6 0.1 2.1 0 0.2 0.3 1.5 0.4 0.1 0.3 -0.1 0.3 -0.1 0.4 0 0.3 -0.1 0.3 0 0.4 -0.1 0.3 -0.1 0.4 -0.1 0.3 -1.2 0.1 -2.7 0.1 -3.6 0.1 -4.9 0.1 -5.1 0.1 -3.8 0.1 -2.1 0.1 -0.7 0.3 -1.2 0.3 0 0.4 0.1 0.3 0 0.4 0.1 0.3 0.1 0.3 0 0.4 0.1 0.3 0 0.3 0.1 0.4 0 0.3 0.1 0.4 0.9 0.1 3.2 0.1 3.6 0.1 2.8 0 2.2 0.1 5 0.1 3.6 0.1 2.1 0 0.2 0.4 1.6 0.3 0 0.3 -0.1 0.4 0 0.3 -0.1 0.3 -0.1 0.4 0 0.3 -0.1 0.4 -0.1 0.3 -0.1 0.3 -1.2 0.2 -2.7 0.1 -3.5 0.1 -4.9 0.1 -5.1 0.1 -3.8 0.1 -2.1 0 -0.7 0.3 -1.2 0.4 0 0.3 0.1 0.4 0 0.3 0.1 0.3 0.1 0.4 0 0.3 0.1 0.3 0 0.4 0.1 0.3 0 0.4 0.1 0.3 0.9 0.2 3.2 0.1 3.6 0 2.8 0.1 2.2 0.1 4.9 0.1 3.7 0.1 2 0 0.2 0.3 1.6 0.3 0 0.4 -0.1 0.3 0 0.4 -0.1 0.3 0 0.3 -0.1 0.4 -0.1 0.3 0 0.3 -0.2 0.4 -1.2 0.1 -2.7 0.1 -3.5 0.1 -4.9 0.1 -5.1 0.1 -3.7 0.1 -2.1 0 -0.7 0.4 -1.2 0.3 0 0.4 0.1 0.3 0 0.3 0.1 0.4 0.1 0.3 0 0.3 0.1 0.4 0 0.3 0.1 0.4 0 0.3 0.1 0.3 0.9 0.2 3.2 0.1 3.6 0.1 2.7 0 2.3 0.1 4.9 0.1 3.6 0.1 2.1 0 0.1 0.3 1.6 0.4 0 0.3 0 0.4 -0.1 0.3 -0.1 0.3 0 0.4 -0.1 0.3 -0.1 0.3 0 0.4 -0.1 0.3 -1.2 0.2 -2.7 0.1 -3.6 0.1 -4.8 0 -5.1 0.1 -3.7 0.1 -2.1 0.1 -0.7 0.3 -1.2 0.4 0 0.3 0.1 0.3 0 0.4 0.1 0.3 0.1 0.3 0 0.4 0.1 0.3 0 0.4 0.1 0.3 0 0.3 0.1 0.4 0.9 0.2 3.1 0.1 3.7 0 2.7 0 2.2 0.1 4.9 0.1 3.6 0.1 2.1 0 0.2 0.4 1.5 0.3 0 0.4 0 0.3 -0.1 0.3 0 0.4 -0.1 0.3 -0.1 0.3 0 0.4 -0.1 0.3 -0.1 0.4 -1.2 0.1 -2.7 0.1 -3.5 0.1 -4.8 0.1 -5.1 0.1 -3.7 0.1 -2.1 0 -0.7 0.4 -1.2 0.3 0 0.3 0.1 0.4 0 0.3 0.1 0.4 0.1 0.3 0 0.3 0.1 0.4 0 0.3 0.1 0.3 0 0.4 0.1 0.3 0.9 0.2 3.1 0.1 3.6 0 2.8 0.1 2.2 0.1 4.9 0.1 3.6 0.1 2 0 0.2 0.3 1.5 0.4 0.1 0.3 -0.1 0.3 -0.1 0.4 0 0.3 -0.1 0.3 -0.1 0.4 0 0.3 -0.1 0.4 -0.1 0.3 -1.2 0.1 -2.7 0.1 -3.5 0.1 -4.8 0.1 -5 0.1 -3.7 0.1 -2.1 0.1 -0.7 0.3 -1.2 0.3 0 0.4 0.1 0.3 0 0.4 0.1 0.3 0.1 0.3 0 0.4 0.1 0.3 0 0.3 0.1 0.4 0 0.3 0.1 0.4 0.9 0.1 3.1 0.1 3.6 0.1 2.7 0 2.2 0.1 4.9 0.1 3.6 0.1 2 0 0.2 0.4 1.6 0.3 0 0.3 -0.1 0.4 0 0.3 -0.1 0.3 -0.1 0.4 0 0.3 -0.1 0.4 -0.1 0.3 -0.1 0.3 -1.2 0.2 -2.6 0.1 -3.5 0.1 -4.8 0.1 -5.1 0.1 -3.6 0.1 -2.1 0 -0.7 0.3 -1.2 0.4 0 0.3 0.1 0.4 0 0.3 0.1 0.3 0.1 0.4 0 0.3 0.1 0.3 0 0.4 0.1 0.3 0 0.4 0.1 0.3 0.9 0.2 3.1 0.1 3.6 0 2.7 0.1 2.2 0.1 4.9 0.1 3.5 0.1 2.1 0 0.1 0.3 1.6 0.3 0 0.4 -0.1 0.3 0 0.4 -0.1 0.3 -0.1 0.3 0 0.4 -0.1 0.3 -0.1 0.3 -0.1 0.4 -1.1 0.1 -2.7 0.1 -3.5 0.1 -4.8 0.1 -5 0.1 -3.6 0.1 -2.2 0 -0.6 0.4 -1.2 0.3 0 0.4 0.1 0.3 0 0.3 0.1 0.4 0.1 0.3 0 0.3 0.1 0.4 0 0.3 0.1 0.4 0 0.3 0.1 0.3 0.9 0.2 3.1 0.1 3.6 0.1 2.7 0 2.1 0.1 4.9 0.1 3.5 0.1 2.1 0 0.2 0.3 1.5 0.4 0 0.3 0 0.4 -0.1 0.3 -0.1 0.3 0 0.4 -0.1 0.3 -0.1 0.3 0 0.4 -0.2 0.3 -1.1 0.2 -2.7 0.1 -3.4 0.1 -4.8 0 -5 0.1 -3.6 0.1 -2.1 0.1 -0.7 0.3 -1.1 0.4 0 0.3 0 0.3 0.1 0.4 0 0.3 0.1 0.3 0 0.4 0.1 0.3 0 0.4 0.1 0.3 0 0.3 0.1 0.4 0.9 0.2 3.1 0.1 3.6 0 2.7 0 2.2 0.1 4.8 0.1 3.5 0.1 2.1 0 0.2 0.4 1.5 0.3 0 0.4 -0.1 0.3 0 0.3 -0.1 0.4 0 0.3 -0.1 0.3 -0.1 0.4 0 0.3 -0.2 0.4 -1.1 0.1 -2.7 0.1 -3.4 0.1 -4.7 0.1 -5 0.1 -3.7 0.1 -2.1 0 -0.7 0.4 -1.1 0.3 0 0.3 0 0.4 0.1 0.3 0 0.4 0.1 0.3 0.1 0.3 0 0.4 0.1 0.3 0 0.3 0.1 0.4 0.1 0.3 0.8 0.2 3.1 0.1 3.6 0 2.7 0.1 2.2 0.1 4.8 0.1 3.6 0.1 2 0 0.2 0.3 1.5 0.4 0 0.3 0 0.3 -0.1 0.4 -0.1 0.3 0 0.3 -0.1 0.4 -0.1 0.3 0 0.4 -0.1 0.3 -1.2 0.1 -2.7 0.1 -3.4 0.1 -4.7 0.1 -5 0.1 -3.7 0.1 -2.1 0.1 -0.7 0.3 -1.1 0.3 0 0.4 0.1 0.3 0 0.4 0.1 0.3 0 0.3 0.1 0.4 0 0.3 0.1 0.3 0 0.4 0.1 0.3 0.1 0.4 0.9 0.1 3.1 0.1 3.5 0.1 2.7 0 2.2 0.1 4.8 0.1 3.6 0.1 2 0 0.2 0.4 1.5 0.3 0 0.3 0 0.4 -0.1 0.3 -0.1 0.3 0 0.4 -0.1 0.3 0 0.4 -0.1 0.3 -0.1 0.3 -1.2 0.2 -2.7 0.1 -3.4 0.1 -4.7 0.1 -5 0.1 -3.7 0.1 -2.1 0 -0.6 0.3 -1.2 0.4 0 0.3 0.1 0.4 0 0.3 0.1 0.3 0.1 0.4 0 0.3 0.1 0.3 0 0.4 0.1 0.3 0 0.4 0.1 0.3 0.9 0.2 3.1 0.1 3.6 0 2.6 0.1 2.2 0.1 4.9 0.1 3.5 0.1 2 0 0.2 0.3 1.5 0.3 0 0.4 0 0.3 -0.1 0.4 0 0.3 -0.1 0.3 -0.1 0.4 0 0.3 -0.1 0.3 -0.1 0.4 -1.2 0.1 -2.6 0.1 -3.5 0.1 -4.7 0.1 -5 0.1 -3.6 0.1 -2.1 0 -0.7 0.4 -1.1 0.3 0 0.4 0 0.3 0.1 0.3 0 0.4 0.1 0.3 0 0.3 0.1 0.4 0 0.3 0.1 0.4 0.1 0.3 0.1 0.3 0.8 0.2 3.1 0.1 3.6 0.1 2.7 0 2.1 0.1 4.9 0.1 3.5 0.1 2 0 0.2 0.3 1.5 0.4 0.1 0.3 -0.1 0.4 -0.1 0.3 0 0.3 -0.1 0.4 -0.1 0.3 0 0.3 -0.1 0.4 -0.1 0.3 -1.2 0.2 -2.6 0.1 -3.5 0.1 -4.7 0 -5 0.1 -3.6 0.1 -2.1 0.1 -0.7 0.3 -1.1 0.4 0 0.3 0 0.3 0.1 0.4 0.1 0.3 0 0.3 0.1 0.4 0 0.3 0.1 0.4 0 0.3 0.1 0.3 0.1 0.4 0.8 0.2 3.1 0.1 3.6 0 2.7 0 2.2 0.1 4.8 0.1 3.5 0.1 2 0 0.2 0.4 1.6 0.3 0 0.4 -0.1 0.3 0 0.3 -0.1 0.4 -0.1 0.3 0 0.3 -0.1 0.4 -0.1 0.3 -0.1 0.4 -1.2 0.1 -2.6 0.1 -3.5 0.1 -4.6 0.1 -5 0.1 -3.7 0.1 -2.1 0 -0.7 0.4 -1.1 0.3 0 0.3 0.1 0.4 0 0.3 0.1 0.4 0 0.3 0.1 0.3 0 0.4 0.1 0.3 0.1 0.3 0 0.4 0.1 0.3 0.9 0.2 3.1 0.1 3.5 0 2.7 0.1 2.2 0.1 4.8 0.1 3.5 0.1 2.1 0 0.2 0.3 1.5 0.4 0 0.3 -0.1 0.3 0 0.4 -0.1 0.3 -0.1 0.3 0 0.4 -0.1 0.3 -0.1 0.4 -0.1 0.3 -1.1 0.1 -2.7 0.1 -3.4 0.1 -4.7 0.1 -5 0.1 -3.7 0.1 -2 0.1 -0.7 0.3 -1.1 0.3 0 0.4 0 0.3 0.1 0.4 0 0.3 0.1 0.3 0 0.4 0.1 0.3 0 0.3 0.1 0.4 0 0.3 0.1 0.4 0.9 0.1 3.1 0.1 3.5 0.1 2.7 0 2.2 0.1 4.8 0.1 3.6 0.1 2 0 0.2 0.4 1.5 0.3 0 0.3 -0.1 0.4 0 0.3 -0.1 0.3 0 0.4 -0.1 0.3 -0.1 0.4 0 0.3 -0.2 0.3 -1.1 0.2 -2.7 0.1 -3.4 0.1 -4.7 0.1 -5 0.1 -3.6 0.1 -2.1 0 -0.7 0.3 -1.1 0.4 0 0.3 0 0.4 0.1 0.3 0 0.3 0.1 0.4 0 0.3 0.1 0.3 0.1 0.4 0 0.3 0.1 0.4 0.1 0.3 0.8 0.2 3.1 0.1 3.6 0 2.6 0.1 2.2 0.1 4.8 0.1 3.6 0.1 2 0 0.2 0.3 1.5 0.3 0 0.4 0 0.3 -0.1 0.4 -0.1 0.3 0 0.3 -0.1 0.4 -0.1 0.3 0 0.3 -0.2 0.4 -1.1 0.1 -2.7 0.1 -3.4 0.1 -4.7 0.1 -5 0.1 -3.6 0.1 -2.1 0 -0.7 0.4 -1.1 0.3 0 0.4 0.1 0.3 0 0.3 0.1 0.4 0 0.3 0.1 0.3 0 0.4 0.1 0.3 0 0.4 0.1 0.3 0.1 0.3 0.8 0.2 3.1 0.1 3.6 0.1 2.7 0 2.1 0.1 4.9 0.1 3.5 0.1 2 0 0.2 0.3 1.5 0.4 0 0.3 0 0.4 -0.1 0.3 -0.1 0.3 0 0.4 -0.1 0.3 0 0.3 -0.1 0.4 -0.1 0.3 -1.2 0.2 -2.6 0.1 -3.5 0.1 -4.7 0 -4.9 0.1 -3.7 0.1 -2.1 0.1 -0.6 0.3 -1.2 0.4 0 0.3 0.1 0.3 0 0.4 0.1 0.3 0 0.3 0.1 0.4 0.1 0.3 0 0.4 0.1 0.3 0 0.3 0.1 0.4 0.9 0.2 3.1 0.1 3.5 0 2.7 0 2.2 0.1 4.8 0.1 3.5 0.1 2 0 0.2 0.4 1.5 0.3 0 0.4 0 0.3 -0.1 0.3 0 0.4 -0.1 0.3 -0.1 0.3 0 0.4 -0.1 0.3 -0.1 0.4 -1.2 0.1 -2.6 0.1 -3.5 0.1 -4.6 0.1 -5 0.1 -3.7 0.1 -2 0 -0.7 0.4 -1.1 0.3 0 0.3 0 0.4 0.1 0.3 0 0.4 0.1 0.3 0 0.3 0.1 0.4 0 0.3 0.1 0.3 0.1 0.4 0 0.3 0.9 0.2 3.1 0.1 3.5 0 2.7 0.1 2.2 0.1 4.8 0.1 3.5 0.1 2 0 0.2 0.3 1.5 0.4 0.1 0.3 -0.1 0.3 -0.1 0.4 0 0.3 -0.1 0.3 -0.1 0.4 0 0.3 -0.1 0.4 -0.1 0.3 -1.2 0.1 -2.6 0.1 -3.4 0.1 -4.7 0.1 -5 0.1 -3.6 0.1 -2.1 0.1 -0.7 0.3 -1.1 0.3 0 0.4 0 0.3 0.1 0.4 0 0.3 0.1 0.3 0.1 0.4 0 0.3 0.1 0.3 0 0.4 0.1 0.3 0.1 0.4 0.8 0.1 3.1 0.1 3.6 0.1 2.6 0 2.2 0.1 4.8 0.1 3.5 0.1 2.1 0 0.1 0.4 1.5 0.3 0.1 0.3 -0.1 0.4 -0.1 0.3 0 0.3 -0.1 0.4 0 0.3 -0.1 0.4 -0.1 0.3 -0.1 0.3 -1.2 0.2 -2.6 0.1 -3.4 0.1 -4.7 0.1 -5 0.1 -3.6 0.1 -2.1 0 -0.7 0.3 -1.1 0.4 0 0.3 0.1 0.4 0 0.3 0.1 0.3 0 0.4 0.1 0.3 0 0.3 0.1 0.4 0 0.3 0.1 0.4 0.1 0.3 0.9 0.2 3 0.1 3.6 0 2.6 0.1 2.2 0.1 4.8 0.1 3.6 0.1 2 0 0.2 0.3 1.5 0.3 0 0.4 -0.1 0.3 0 0.4 -0.1 0.3 -0.1 0.3 0 0.4 -0.1 0.3 -0.1 0.3 -0.1 0.4 -1.1 0.1 -2.7 0.1 -3.4 0.1 -4.7 0.1 -4.9 0.1 -3.7 0.1 -2.1 0 -0.6 0.4 -1.1 0.3 -0.1 0.4 0.1 0.3 0 0.3 0.1 0.4 0.1 0.3 0 0.3 0.1 0.4 0 0.3 0.1 0.4 0 0.3 0.1 0.3 0.9 0.2 3.1 0.1 3.5 0.1 2.7 0 2.1 0.1 4.9 0.1 3.5 0.1 2 0 0.2 0.3 1.5 0.4 0 0.3 -0.1 0.4 0 0.3 -0.1 0.3 -0.1 0.4 0 0.3 -0.1 0.3 0 0.4 -0.2 0.3 -1.1 0.2 -2.7 0.1 -3.4 0.1 -4.6 0 -5 0.1 -3.7 0.1 -2 0.1 -0.7 0.3 -1.1 0.4 0 0.3 0 0.3 0.1 0.4 0 0.3 0.1 0.3 0 0.4 0.1 0.3 0 0.4 0.1 0.3 0.1 0.3 0.1 0.4 0.8 0.2 3.1 0.1 3.5 0 2.7 0 2.2 0.1 4.8 0.1 3.5 0.1 2 0 0.2 0.4 1.5 0.3 0 0.4 0 0.3 -0.1 0.3 -0.1 0.4 0 0.3 -0.1 0.3 -0.1 0.4 0 0.3 -0.2 0.4 -1.1 0.1 -2.6 0.1 -3.5 0.1 -4.6 0.1 -5 0.1 -3.6 0.1 -2.1 0 -0.7 0.4 -1.1 0.3 0 0.3 0 0.4 0.1 0.3 0.1 0.4 0 0.3 0.1 0.3 0 0.4 0.1 0.3 0 0.3 0.1 0.4 0.1 0.3 0.8 0.2 3.1 0.1 3.6 0 2.6 0.1 2.2 0.1 4.8 0.1 3.5 0.1 2 0 0.2 0.3 1.5 0.4 0 0.3 0 0.3 -0.1 0.4 -0.1 0.3 0 0.3 -0.1 0.4 -0.1 0.3 0 0.4 -0.1 0.3 -1.2 0.1 -2.6 0.1 -3.5 0.1 -4.6 0.1 -5 0.1 -3.6 0.1 -2.1 0.1 -0.7 0.3 -1.1 0.3 0 0.4 0.1 0.3 0 0.4 0.1 0.3 0 0.3 0.1 0.4 0 0.3 0.1 0.3 0.1 0.4 0 0.3 0.1 0.4 0.9 0.1 3 0.1 3.6 0.1 2.6 0 2.2 0.1 4.8 0.1 3.5 0.1 2 0 0.2 0.4 1.5 0.3 0 0.3 0 0.4 -0.1 0.3 0 0.3 -0.1 0.4 -0.1 0.3 0 0.4 -0.1 0.3 -0.1 0.3 -1.2 0.2 -2.6 0.1 -3.4 0.1 -4.7 0.1 -5 0.1 -3.6 0.1 -2.1 0 -0.6 0.3 -1.1 0.4 0 0.3 0 0.4 0.1 0.3 0 0.3 0.1 0.4 0 0.3 0.1 0.3 0 0.4 0.1 0.3 0 0.4 0.1 0.3 0.9 0.2 3.1 0.1 3.5 0 2.7 0.1 2.1 0.1 4.8 0.1 3.5 0.1 2 0 0.2 0.3 1.5 0.3 0.1 0.4 -0.1 0.3 -0.1 0.4 0 0.3 -0.1 0.3 -0.1 0.4 0 0.3 -0.1 0.3 -0.1 0.4 -1.2 0.1 -2.6 0.1 -3.4 0.1 -4.7 0.1 -4.9 0.1 -3.7 0.1 -2 0 -0.7 0.4 -1.1 0.3 0 0.4 0 0.3 0.1 0.3 0 0.4 0.1 0.3 0 0.3 0.1 0.4 0.1 0.3 0 0.4 0.1 0.3 0.1 0.3 0.8 0.2 3.1 0.1 3.5 0.1 2.7 0 2.1 0.1 4.8 0.1 3.5 0.1 2.1 0 0.1 0.3 1.5 0.4 0.1 0.3 -0.1 0.4 -0.1 0.3 0 0.3 -0.1 0.4 0 0.3 -0.1 0.3 -0.1 0.4 -0.1 0.3 -1.2 0.2 -2.6 0.1 -3.4 0.1 -4.6 0 -5 0.1 -3.6 0.1 -2.1 0.1 -0.7 0.3 -1.1 0.4 0 0.3 0.1 0.3 0 0.4 0.1 0.3 0 0.3 0.1 0.4 0 0.3 0.1 0.4 0 0.3 0.1 0.3 0.1 0.4 0.8 0.2 3.1 0.1 3.5 0 2.7 0 2.2 0.1 4.8 0.1 3.5 0.1 2 0 0.2 0.4 1.5 0.3 0 0.4 -0.1 0.3 0 0.3 -0.1 0.4 -0.1 0.3 0 0.3 -0.1 0.4 -0.1 0.3 -0.1 0.4 -1.1 0.1 -2.7 0.1 -3.4 0.1 -4.6 0.1 -5 0.1 -3.6 0.1 -2.1 0 -0.7 0.4 -1.1 0.3 0 0.3 0.1 0.4 0 0.3 0.1 0.4 0.1 0.3 0 0.3 0.1 0.4 0 0.3 0.1 0.3 0 0.4 0.1 0.3 0.9 0.2 3 0.1 3.6 0 2.6 0.1 2.2 0.1 4.8 0.1 3.5 0.1 2 0 0.2 0.3 1.5 0.4 0 0.3 -0.1 0.3 0 0.4 -0.1 0.3 -0.1 0.3 0 0.4 -0.1 0.3 -0.1 0.4 -0.1 0.3 -1.1 0.1 -2.7 0.1 -3.4 0.1 -4.6 0.1 -5 0.1 -3.6 0.1 -2 0.1 -0.7 0.3 -1.1 0.3 0 0.4 0 0.3 0.1 0.4 0 0.3 0.1 0.3 0 0.4 0.1 0.3 0 0.3 0.1 0.4 0.1 0.3 0 0.4 0.9 0.1 3.1 0.1 3.5 0.1 2.6 0 2.2 0.1 4.8 0.1 3.5 0.1 2 0 0.2 0.4 1.5 0.3 0 0.3 -0.1 0.4 0 0.3 -0.1 0.3 0 0.4 -0.1 0.3 -0.1 0.4 0 0.3 -0.2 0.3 -1.1 0.2 -2.6 0.1 -3.4 0.1 -4.7 0.1 -4.9 0.1 -3.6 0.1 -2.1 0 -0.7 0.3 -1.1 0.4 0 0.3 0 0.4 0.1 0.3 0.1 0.3 0 0.4 0.1 0.3 0 0.3 0.1 0.4 0 0.3 0.1 0.4 0.1 0.3 0.8 0.2 3.1 0.1 3.5 0 2.7 0.1 2.1 0.1 4.8 0.1 3.5 0.1 2 0 0.2 0.3 1.5 0.3 0 0.4 0 0.3 -0.1 0.4 -0.1 0.3 0 0.3 -0.1 0.4 -0.1 0.3 0 0.3 -0.1 0.4 -1.2 0.1 -2.6 0.1 -3.4 0.1 -4.7 0.1 -4.9 0.1 -3.6 0.1 -2.1 0 -0.7 0.4 -1.1 0.3 0 0.4 0.1 0.3 0 0.3 0.1 0.4 0 0.3 0.1 0.3 0 0.4 0.1 0.3 0.1 0.4 0 0.3 0.1 0.3 0.9 0.2 3 0.1 3.5 0.1 2.7 0 2.1 0.1 4.8 0.1 3.5 0.1 2 0 0.2 0.3 1.5 0.4 0 0.3 0 0.4 -0.1 0.3 -0.1 0.3 0 0.4 -0.1 0.3 0 0.3 -0.1 0.4 -0.1 0.3 -1.2 0.2 -2.6 0.1 -3.4 0.1 -4.6 0 -5 0.1 -3.6 0.1 -2.1 0.1 -0.6 0.3 -1.1 0.4 -0.1 0.3 0.1 0.3 0.1 0.4 0 0.3 0.1 0.3 0 0.4 0.1 0.3 0 0.4 0.1 0.3 0 0.3 0.1 0.4 0.9 0.2 3 0.1 3.6 0 2.6 0 2.2 0.1 4.8 0.1 3.4 0.1 2 0 0.2 0.4 1.5 0.3 0 0.4 0 0.3 -0.1 0.3 0 0.4 -0.1 0.3 -0.1 0.3 0 0.4 -0.1 0.3 -0.1 0.4 -1.2 0.1 -2.6 0.1 -3.4 0.1 -4.6 0.1 -5 0.1 -3.6 0.1 -2 0 -0.7 0.4 -1.1 0.3 0 0.3 0 0.4 0.1 0.3 0 0.4 0.1 0.3 0 0.3 0.1 0.4 0.1 0.3 0 0.3 0.1 0.4 0.1 0.3 0.8 0.2 3.1 0.1 3.5 0 2.6 0.1 2.2 0.1 4.8 0.1 3.5 0.1 2 0 0.1 0.3 1.5 0.4 0.1 0.3 -0.1 0.3 -0.1 0.4 0 0.3 -0.1 0.3 -0.1 0.4 0 0.3 -0.1 0.4 -0.1 0.3 -1.2 0.1 -2.6 0.1 -3.4 0.1 -4.6 0.1 -4.9 0.1 -3.6 0.1 -2.1 0.1 -0.7 0.3 -1.1 0.3 0 0.4 0.1 0.3 0 0.4 0.1 0.3 0 0.3 0.1 0.4 0 0.3 0.1 0.3 0 0.4 0.1 0.3 0.1 0.4 0.8 0.1 3.1 0.1 3.5 0.1 2.7 0 2.1 0.1 4.8 0.1 3.5 0.1 2 0 0.2 0.4 1.5 0.3 0 0.3 -0.1 0.4 0 0.3 -0.1 0.3 -0.1 0.4 0 0.3 -0.1 0.4 -0.1 0.3 -0.1 0.3 -1.1 0.2 -2.7 0.1 -3.4 0.1 -4.6 0.1 -4.9 0.1 -3.6 0.1 -2.1 0 -0.7 0.3 -1.1 0.4 0 0.3 0.1 0.4 0 0.3 0.1 0.3 0 0.4 0.1 0.3 0.1 0.3 0 0.4 0.1 0.3 0 0.4 0.1 0.3 0.9 0.2 3 0.1 3.5 0 2.7 0.1 2.1 0.1 4.8 0.1 3.5 0.1 2 0 0.2 0.3 1.5 0.3 0 0.4 -0.1 0.3 0 0.4 -0.1 0.3 -0.1 0.3 0 0.4 -0.1 0.3 -0.1 0.3 -0.1 0.4 -1.1 0.1 -2.6 0.1 -3.4 0.1 -4.7 0.1 -4.9 0.1 -3.6 0.1 -2.1 0 -0.6 0.4 -1.1 0.3 0 0.4 0 0.3 0.1" fill="none" stroke="#f24141" stroke-width="2.2" stroke-linejoin="round" clip-path="url(#pc2)"/><path d="M681.2 509l0.9 1.7 1.9 1.6 0.7 -0.1 0.3 -0.1 0.4 -0.1 0.3 -0.1 0.4 -0.1 0.3 -0.2 0.3 -0.1 0.4 -0.1 0.3 -0.1 0.3 -0.1 0.4 -0.2 0.3 -0.5 0.2 -1.5 0.1 -2.5 0.1 -1.4 0.1 -3.5 0 -2.3 0.1 -1.1 0.1 -0.4 0.3 -0.6 0.4 -0.2 0.3 -0.2 0.3 -0.2 0.4 -0.2 0.3 -0.2 0.4 -0.2 0.3 -0.2 0.3 -0.2 0.4 -0.2 0.3 -0.2 0.3 0.2 0.2 1.6 0.1 2.6 0.1 4 0.1 4.1 0.1 2.6 0.1 1.2 0 0.4 0.4 0.3 0.3 -0.1 0.3 -0.1 0.4 -0.1 0.3 -0.1 0.3 -0.2 0.4 -0.1 0.3 -0.1 0.4 -0.1 0.3 -0.1 0.3 -0.2 0.4 -0.5 0.1 -1.5 0.1 -2.5 0.1 -1.5 0.1 -3.5 0.1 -2.3 0.1 -1.1 0 -0.3 0.4 -0.6 0.3 -0.2 0.4 -0.2 0.3 -0.3 0.3 -0.2 0.4 -0.2 0.3 -0.2 0.3 -0.2 0.4 -0.2 0.3 -0.2 0.4 -0.2 0.3 0.3 0.1 1.5 0.1 2.6 0.1 4.1 0.1 4.1 0.1 2.6 0.1 1.2 0.1 0.4 0.3 0.3 0.3 -0.1 0.4 -0.1 0.3 -0.1 0.4 -0.1 0.3 -0.2 0.3 -0.1 0.4 -0.1 0.3 -0.1 0.3 -0.1 0.4 -0.2 0.3 -0.5 0.2 -1.5 0.1 -2.5 0.1 -1.5 0 -3.5 0.1 -2.3 0.1 -1.1 0.1 -0.4 0.3 -0.6 0.4 -0.2 0.3 -0.2 0.3 -0.2 0.4 -0.2 0.3 -0.2 0.4 -0.2 0.3 -0.2 0.3 -0.2 0.4 -0.3 0.3 -0.1 0.3 0.2 0.2 1.6 0.1 2.6 0.1 4 0.1 4.1 0.1 2.7 0.1 1.2 0 0.4 0.4 0.3 0.3 -0.1 0.3 -0.1 0.4 -0.1 0.3 -0.1 0.3 -0.2 0.4 -0.1 0.3 -0.1 0.4 -0.1 0.3 -0.1 0.3 -0.2 0.4 -0.5 0.1 -1.6 0.1 -2.4 0.1 -1.5 0.1 -3.6 0.1 -2.3 0.1 -1.1 0 -0.3 0.4 -0.7 0.3 -0.2 0.4 -0.2 0.3 -0.2 0.3 -0.2 0.4 -0.2 0.3 -0.2 0.3 -0.2 0.4 -0.2 0.3 -0.2 0.4 -0.2 0.3 0.3 0.1 1.5 0.1 2.6 0.1 4.1 0.1 4.1 0.1 2.7 0.1 1.2 0.1 0.4 0.3 0.3 0.3 -0.1 0.4 -0.1 0.3 -0.1 0.4 -0.1 0.3 -0.2 0.3 -0.1 0.4 -0.1 0.3 -0.1 0.3 -0.1 0.4 -0.2 0.3 -0.5 0.2 -1.6 0.1 -2.4 0.1 -1.6 0 -3.5 0.1 -2.3 0.1 -1.2 0.1 -0.3 0.3 -0.6 0.4 -0.2 0.3 -0.2 0.3 -0.3 0.4 -0.2 0.3 -0.2 0.3 -0.2 0.4 -0.2 0.3 -0.2 0.4 -0.2 0.3 -0.2 0.3 0.3 0.2 1.5 0.1 2.7 0.1 4.1 0.1 4.1 0.1 2.7 0.1 1.2 0 0.4 0.3 0.3 0.4 -0.1 0.3 -0.1 0.4 -0.1 0.3 -0.1 0.3 -0.2 0.4 -0.1 0.3 -0.1 0.3 -0.1 0.4 -0.1 0.3 -0.2 0.4 -0.5 0.1 -1.6 0.1 -2.4 0.1 -1.6 0.1 -3.6 0.1 -2.3 0.1 -1.1 0 -0.4 0.4 -0.6 0.3 -0.2 0.3 -0.2 0.4 -0.2 0.3 -0.2 0.4 -0.2 0.3 -0.2 0.3 -0.2 0.4 -0.2 0.3 -0.3 0.3 -0.1 0.4 0.2 0.1 1.6 0.1 2.6 0.1 4.1 0.1 4.2 0.1 2.7 0.1 1.2 0.1 0.4 0.3 0.3 0.3 -0.1 0.4 -0.1 0.3 -0.1 0.3 -0.1 0.4 -0.2 0.3 -0.1 0.4 -0.1 0.3 -0.1 0.3 -0.1 0.4 -0.2 0.3 -0.5 0.2 -1.6 0.1 -2.5 0 -1.5 0.1 -3.6 0.1 -2.3 0.1 -1.2 0.1 -0.3 0.3 -0.7 0.4 -0.2 0.3 -0.2 0.3 -0.2 0.4 -0.2 0.3 -0.2 0.3 -0.2 0.4 -0.2 0.3 -0.2 0.4 -0.2 0.3 -0.2 0.3 0.3 0.2 1.5 0.1 2.7 0.1 4.1 0.1 4.2 0.1 2.6 0.1 1.3 0 0.4 0.3 0.3 0.4 -0.1 0.3 -0.1 0.4 -0.1 0.3 -0.1 0.3 -0.2 0.4 -0.1 0.3 -0.1 0.3 -0.1 0.4 -0.1 0.3 -0.2 0.4 -0.5 0.1 -1.6 0.1 -2.5 0.1 -1.6 0.1 -3.6 0.1 -2.3 0.1 -1.2 0 -0.3 0.4 -0.6 0.3 -0.2 0.3 -0.2 0.4 -0.3 0.3 -0.2 0.4 -0.2 0.3 -0.2 0.3 -0.2 0.4 -0.2 0.3 -0.2 0.3 -0.2 0.4 0.3 0.1 1.6 0.1 2.6 0.1 4.2 0.1 4.2 0.1 2.6 0.1 1.3 0.1 0.4 0.3 0.3 0.3 -0.1 0.4 -0.1 0.3 -0.1 0.3 -0.1 0.4 -0.2 0.3 -0.1 0.4 -0.1 0.3 -0.1 0.3 -0.1 0.4 -0.2 0.3 -0.5 0.2 -1.6 0 -2.5 0.1 -1.6 0.1 -3.6 0.1 -2.4 0.1 -1.1 0.1 -0.4 0.3 -0.6 0.4 -0.2 0.3 -0.2 0.3 -0.2 0.4 -0.2 0.3 -0.2 0.3 -0.2 0.4 -0.2 0.3 -0.2 0.4 -0.3 0.3 -0.1 0.3 0.2 0.2 1.6 0.1 2.7 0.1 4.1 0.1 4.2 0.1 2.7 0 1.3 0.1 0.4 0.3 0.3 0.4 -0.1 0.3 -0.1 0.4 -0.1 0.3 -0.1 0.3 -0.2 0.4 -0.1 0.3 -0.1 0.3 -0.1 0.4 -0.1 0.3 -0.2 0.4 -0.5 0.1 -1.6 0.1 -2.5 0.1 -1.6 0.1 -3.6 0.1 -2.4 0.1 -1.2 0 -0.3 0.4 -0.7 0.3 -0.2 0.3 -0.2 0.4 -0.2 0.3 -0.2 0.4 -0.2 0.3 -0.2 0.3 -0.2 0.4 -0.2 0.3 -0.2 0.3 -0.2 0.4 0.3 0.1 1.5 0.1 2.7 0.1 4.2 0.1 4.2 0.1 2.7 0.1 1.3 0.1 0.3 0.3 0.4 0.3 -0.1 0.4 -0.1 0.3 -0.1 0.3 -0.1 0.4 -0.2 0.3 -0.1 0.4 -0.1 0.3 -0.1 0.3 -0.1 0.4 -0.2 0.3 -0.5 0.1 -1.6 0.1 -2.5 0.1 -1.7 0.1 -3.6 0.1 -2.4 0.1 -1.1 0.1 -0.4 0.3 -0.6 0.4 -0.2 0.3 -0.2 0.3 -0.2 0.4 -0.3 0.3 -0.2 0.3 -0.2 0.4 -0.2 0.3 -0.2 0.4 -0.2 0.3 -0.2 0.3 0.3 0.2 1.6 0.1 2.7 0.1 4.2 0.1 4.2 0.1 2.7 0 1.3 0.1 0.3 0.3 0.4 0.4 -0.1 0.3 -0.1 0.3 -0.1 0.4 -0.1 0.3 -0.2 0.4 -0.1 0.3 -0.1 0.3 -0.1 0.4 -0.1 0.3 -0.2 0.3 -0.5 0.2 -1.6 0.1 -2.6 0.1 -1.6 0.1 -3.6 0.1 -2.4 0.1 -1.2 0 -0.4 0.4 -0.6 0.3 -0.2 0.3 -0.2 0.4 -0.2 0.3 -0.2 0.3 -0.2 0.4 -0.2 0.3 -0.2 0.4 -0.2 0.3 -0.2 0.3 -0.2 0.4 0.2 0.1 1.6 0.1 2.7 0.1 4.2 0.1 4.3 0.1 2.7 0.1 1.3 0 0.3 0.4 0.4 0.3 -0.1 0.4 -0.1 0.3 -0.1 0.3 -0.1 0.4 -0.2 0.3 -0.1 0.3 -0.1 0.4 -0.1 0.3 -0.1 0.4 -0.2 0.3 -0.5 0.1 -1.6 0.1 -2.6 0.1 -1.6 0.1 -3.7 0.1 -2.4 0.1 -1.2 0.1 -0.3 0.3 -0.6 0.3 -0.3 0.4 -0.2 0.3 -0.2 0.4 -0.2 0.3 -0.2 0.3 -0.2 0.4 -0.2 0.3 -0.2 0.3 -0.2 0.4 -0.2 0.3 0.3 0.2 1.6 0.1 2.7 0.1 4.2 0.1 4.3 0 2.7 0.1 1.3 0.1 0.3 0.3 0.4 0.4 -0.1 0.3 -0.1 0.3 -0.1 0.4 -0.1 0.3 -0.2 0.4 -0.1 0.3 -0.1 0.3 -0.1 0.4 -0.1 0.3 -0.2 0.3 -0.5 0.2 -1.6 0.1 -2.6 0.1 -1.7 0.1 -3.6 0.1 -2.4 0.1 -1.2 0 -0.4 0.4 -0.6 0.3 -0.2 0.3 -0.2 0.4 -0.2 0.3 -0.3 0.3 -0.2 0.4 -0.2 0.3 -0.2 0.4 -0.2 0.3 -0.2 0.3 -0.2 0.4 0.3 0.1 1.6 0.1 2.7 0.1 4.3 0.1 4.2 0.1 2.8 0.1 1.3 0 0.3 0.4 0.4 0.3 -0.1 0.4 -0.1 0.3 -0.1 0.3 -0.1 0.4 -0.2 0.3 -0.1 0.3 -0.1 0.4 -0.1 0.3 -0.1 0.4 -0.2 0.3 -0.5 0.1 -1.6 0.1 -2.6 0.1 -1.7 0.1 -3.7 0.1 -2.4 0.1 -1.2 0.1 -0.4 0.3 -0.6 0.3 -0.2 0.4 -0.2 0.3 -0.2 0.4 -0.2 0.3 -0.2 0.3 -0.2 0.4 -0.2 0.3 -0.2 0.3 -0.2 0.4 -0.2 0.3 0.2 0.2 1.7 0.1 2.7 0.1 4.3 0 4.2 0.1 2.8 0.1 1.3 0.1 0.3 0.3 0.4 0.4 -0.1 0.3 -0.1 0.3 -0.1 0.4 -0.1 0.3 -0.2 0.4 -0.1 0.3 -0.1 0.3 -0.1 0.4 -0.1 0.3 -0.2 0.3 -0.5 0.2 -1.6 0.1 -2.6 0.1 -1.7 0.1 -3.7 0.1 -2.5 0.1 -1.2 0 -0.3 0.4 -0.6 0.3 -0.3 0.3 -0.2 0.4 -0.2 0.3 -0.2 0.3 -0.2 0.4 -0.2 0.3 -0.2 0.4 -0.2 0.3 -0.2 0.3 -0.2 0.4 0.3 0.1 1.6 0.1 2.7 0.1 4.3 0.1 4.3 0.1 2.8 0.1 1.3 0 0.3 0.4 0.4 0.3 -0.1 0.4 -0.1 0.3 -0.1 0.3 -0.1 0.4 -0.2 0.3 -0.1 0.3 -0.1 0.4 -0.1 0.3 -0.1 0.4 -0.2 0.3 -0.5 0.1 -1.7 0.1 -2.5 0.1 -1.8 0.1 -3.7 0.1 -2.4 0.1 -1.2 0.1 -0.4 0.3 -0.6 0.3 -0.2 0.4 -0.2 0.3 -0.2 0.4 -0.2 0.3 -0.3 0.3 -0.2 0.4 -0.2 0.3 -0.2 0.3 -0.2 0.4 -0.2 0.3 0.3 0.2 1.6 0.1 2.8 0.1 4.3 0 4.3 0.1 2.8 0.1 1.3 0.1 0.3 0.3 0.4 0.4 -0.1 0.3 -0.1 0.3 -0.1 0.4 -0.1 0.3 -0.2 0.3 -0.1 0.4 -0.1 0.3 -0.1 0.4 -0.1 0.3 -0.2 0.3 -0.5 0.2 -1.7 0.1 -2.6 0.1 -1.7 0.1 -3.7 0.1 -2.5 0.1 -1.2 0 -0.3 0.3 -0.7 0.4 -0.2 0.3 -0.2 0.4 -0.2 0.3 -0.2 0.3 -0.2 0.4 -0.2 0.3 -0.2 0.3 -0.2 0.4 -0.2 0.3 -0.2 0.4 0.3 0.1 1.6 0.1 2.7 0.1 4.4 0.1 4.3 0.1 2.8 0.1 1.3 0 0.3 0.4 0.4 0.3 -0.1 0.3 -0.1 0.4 -0.1 0.3 -0.1 0.4 -0.2 0.3 -0.1 0.3 -0.1 0.4 -0.1 0.3 -0.1 0.3 -0.2 0.4 -0.5 0.1 -1.7 0.1 -2.6 0.1 -1.7 0.1 -3.8 0.1 -2.4 0.1 -1.3 0.1 -0.3 0.3 -0.6 0.3 -0.3 0.4 -0.2 0.3 -0.2 0.3 -0.2 0.4 -0.2 0.3 -0.2 0.4 -0.2 0.3 -0.2 0.3 -0.2 0.4 -0.2 0.3 0.3 0.2 1.6 0.1 2.8 0 4.3 0.1 4.4 0.1 2.8 0.1 1.3 0.1 0.3 0.3 0.4 0.4 -0.1 0.3 -0.1 0.3 -0.1 0.4 -0.1 0.3 -0.2 0.3 -0.1 0.4 -0.1 0.3 -0.1 0.4 -0.1 0.3 -0.2 0.3 -0.5 0.2 -1.7 0.1 -2.6 0.1 -1.8 0.1 -3.7 0.1 -2.5 0.1 -1.2 0 -0.4 0.3 -0.6 0.4 -0.2 0.3 -0.2 0.4 -0.2 0.3 -0.2 0.3 -0.3 0.4 -0.2 0.3 -0.2 0.3 -0.2 0.4 -0.2 0.3 -0.2 0.4 0.3 0.1 1.7 0.1 2.7 0.1 4.4 0.1 4.3 0.1 2.8 0.1 1.4 0 0.3 0.4 0.4 0.3 -0.1 0.3 -0.1 0.4 -0.1 0.3 -0.1 0.4 -0.2 0.3 -0.1 0.3 -0.1 0.4 -0.1 0.3 -0.1 0.3 -0.2 0.4 -0.5 0.1 -1.7 0.1 -2.6 0.1 -1.8 0.1 -3.8 0.1 -2.5 0.1 -1.2 0.1 -0.3 0.3 -0.7 0.3 -0.2 0.4 -0.2 0.3 -0.2 0.3 -0.2 0.4 -0.2 0.3 -0.2 0.4 -0.2 0.3 -0.2 0.3 -0.2 0.4 -0.2 0.3 0.3 0.2 1.6 0 2.8 0.1 4.4 0.1 4.3 0.1 2.8 0.1 1.4 0.1 0.3 0.3 0.4 0.4 -0.1 0.3 -0.1 0.3 -0.1 0.4 -0.1 0.3 -0.2 0.3 -0.1 0.4 -0.1 0.3 -0.1 0.4 -0.1 0.3 -0.2 0.3 -0.5 0.2 -1.7 0.1 -2.6 0.1 -1.8 0.1 -3.8 0.1 -2.5 0 -1.2 0.1 -0.4 0.3 -0.6 0.4 -0.3 0.3 -0.2 0.4 -0.2 0.3 -0.2 0.3 -0.2 0.4 -0.2 0.3 -0.2 0.3 -0.2 0.4 -0.2 0.3 -0.2 0.4 0.3 0.1 1.7 0.1 2.8 0.1 4.3 0.1 4.4 0.1 2.8 0.1 1.4 0 0.3 0.4 0.4 0.3 -0.1 0.3 -0.1 0.4 -0.1 0.3 -0.1 0.4 -0.2 0.3 -0.1 0.3 -0.1 0.4 -0.1 0.3 -0.1 0.3 -0.2 0.4 -0.5 0.1 -1.7 0.1 -2.6 0.1 -1.9 0.1 -3.8 0.1 -2.5 0.1 -1.2 0.1 -0.4 0.3 -0.6 0.3 -0.2 0.4 -0.2 0.3 -0.2 0.3 -0.2 0.4 -0.2 0.3 -0.3 0.4 -0.2 0.3 -0.2 0.3 -0.2 0.4 -0.2 0.3 0.3 0.1 1.7 0.1 2.8 0.1 4.4 0.1 4.4 0.1 2.8 0.1 1.4 0.1 0.3 0.3 0.4 0.4 -0.1 0.3 -0.1 0.3 -0.1 0.4 -0.1 0.3 -0.2 0.3 -0.1 0.4 -0.1 0.3 -0.1 0.4 -0.1 0.3 -0.2 0.3 -0.5 0.2 -1.7 0.1 -2.7 0.1 -1.8 0.1 -3.8 0.1 -2.5 0 -1.3 0.1 -0.3 0.3 -0.7 0.4 -0.2 0.3 -0.2 0.3 -0.2 0.4 -0.2 0.3 -0.2 0.4 -0.2 0.3 -0.2 0.3 -0.2 0.4 -0.2 0.3 -0.2 0.3 0.3 0.2 1.6 0.1 2.9 0.1 4.4 0.1 4.4 0.1 2.8 0.1 1.4 0 0.3 0.4 0.4 0.3 -0.1 0.3 -0.1 0.4 -0.1 0.3 -0.1 0.3 -0.2 0.4 -0.1 0.3 -0.1 0.4 -0.1 0.3 -0.1 0.3 -0.2 0.4 -0.5 0.1 -1.7 0.1 -2.7 0.1 -1.8 0.1 -3.9 0.1 -2.5 0.1 -1.2 0 -0.4 0.4 -0.6 0.3 -0.3 0.4 -0.2 0.3 -0.2 0.3 -0.2 0.4 -0.2 0.3 -0.2 0.3 -0.2 0.4 -0.2 0.3 -0.2 0.4 -0.2 0.3 0.3 0.1 1.7 0.1 2.8 0.1 4.4 0.1 4.5 0.1 2.8 0.1 1.4 0.1 0.3 0.3 0.4 0.3 -0.1 0.4 -0.1 0.3 -0.1 0.4 -0.1 0.3 -0.2 0.3 -0.1 0.4 -0.1 0.3 -0.1 0.3 -0.1 0.4 -0.2 0.3 -0.6 0.2 -1.6 0.1 -2.7 0.1 -1.9 0.1 -3.8 0 -2.5 0.1 -1.3 0.1 -0.4 0.3 -0.6 0.4 -0.2 0.3 -0.2 0.3 -0.2 0.4 -0.2 0.3 -0.2 0.4 -0.3 0.3 -0.2 0.3 -0.2 0.4 -0.2 0.3 -0.2 0.3 0.3 0.2 1.7 0.1 2.9 0.1 4.4 0.1 4.4 0.1 2.9 0.1 1.4 0 0.3 0.4 0.4 0.3 -0.1 0.3 -0.1 0.4 -0.1 0.3 -0.1 0.3 -0.2 0.4 -0.1 0.3 -0.1 0.4 -0.1 0.3 -0.1 0.3 -0.2 0.4 -0.6 0.1 -1.6 0.1 -2.7 0.1 -1.9 0.1 -3.9 0.1 -2.5 0.1 -1.3 0 -0.3 0.4 -0.7 0.3 -0.2 0.4 -0.2 0.3 -0.2 0.3 -0.2 0.4 -0.2 0.3 -0.2 0.3 -0.2 0.4 -0.2 0.3 -0.2 0.4 -0.2 0.3 0.3 0.1 1.7 0.1 2.8 0.1 4.5 0.1 4.4 0.1 2.9 0.1 1.3 0.1 0.4 0.3 0.4 0.3 -0.1 0.4 -0.1 0.3 -0.1 0.4 -0.1 0.3 -0.2 0.3 -0.1 0.4 -0.1 0.3 -0.1 0.3 -0.1 0.4 -0.2 0.3 -0.6 0.2 -1.6 0.1 -2.7 0.1 -1.9 0 -3.9 0.1 -2.6 0.1 -1.2 0.1 -0.4 0.3 -0.6 0.4 -0.3 0.3 -0.2 0.3 -0.2 0.4 -0.2 0.3 -0.2 0.4 -0.2 0.3 -0.2 0.3 -0.2 0.4 -0.2 0.3 -0.2 0.3 0.3 0.2 1.7 0.1 2.9 0.1 4.4 0.1 4.5 0.1 2.9 0.1 1.3 0 0.4 0.4 0.4 0.3 -0.1 0.3 -0.1 0.4 -0.1 0.3 -0.1 0.3 -0.2 0.4 -0.1 0.3 -0.1 0.4 -0.1 0.3 -0.1 0.3 -0.2 0.4 -0.6 0.1 -1.6 0.1 -2.8 0.1 -1.9 0.1 -3.9 0.1 -2.5 0.1 -1.3 0 -0.3 0.4 -0.7 0.3 -0.2 0.4 -0.2 0.3 -0.2 0.3 -0.2 0.4 -0.2 0.3 -0.3 0.3 -0.2 0.4 -0.2 0.3 -0.2 0.4 -0.2 0.3 0.4 0.1 1.6 0.1 2.9 0.1 4.5 0.1 4.5 0.1 2.9 0.1 1.3 0.1 0.4 0.3 0.4 0.3 -0.1 0.4 -0.1 0.3 -0.1 0.4 -0.1 0.3 -0.2 0.3 -0.1 0.4 -0.1 0.3 -0.1 0.3 -0.1 0.4 -0.2 0.3 -0.6 0.2 -1.7 0.1 -2.7 0.1 -1.9 0 -3.9 0.1 -2.6 0.1 -1.2 0.1 -0.4 0.3 -0.7 0.4 -0.2 0.3 -0.2 0.3 -0.2 0.4 -0.2 0.3 -0.2 0.3 -0.2 0.4 -0.2 0.3 -0.2 0.4 -0.2 0.3 -0.2 0.3 0.3 0.2 1.7 0.1 2.9 0.1 4.5 0.1 4.5 0.1 2.9 0.1 1.3 0 0.4 0.3 0.4 0.4 -0.1 0.3 -0.1 0.4 -0.1 0.3 -0.1 0.3 -0.2 0.4 -0.1 0.3 -0.1 0.3 -0.1 0.4 -0.1 0.3 -0.2 0.4 -0.6 0.1 -1.7 0.1 -2.7 0.1 -1.9 0.1 -4 0.1 -2.5 0.1 -1.3 0 -0.4 0.4 -0.6 0.3 -0.3 0.3 -0.2 0.4 -0.2 0.3 -0.2 0.4 -0.2 0.3 -0.2 0.3 -0.2 0.4 -0.2 0.3 -0.2 0.3 -0.2 0.4 0.3 0.1 1.7 0.1 2.9 0.1 4.5 0.1 4.5 0.1 3 0.1 1.3 0.1 0.4 0.3 0.4 0.3 -0.1 0.4 -0.1 0.3 -0.1 0.3 -0.1 0.4 -0.2 0.3 -0.1 0.4 -0.1 0.3 -0.1 0.3 -0.1 0.4 -0.2 0.3 -0.6 0.2 -1.7 0.1 -2.7 0 -2 0.1 -3.9 0.1 -2.6 0.1 -1.3 0.1 -0.3 0.3 -0.7 0.4 -0.2 0.3 -0.2 0.3 -0.2 0.4 -0.2 0.3 -0.2 0.3 -0.2 0.4 -0.3 0.3 -0.2 0.4 -0.2 0.3 -0.2 0.3 0.4 0.2 1.7 0.1 2.9 0.1 4.5 0.1 4.5 0.1 3 0.1 1.3 0 0.4 0.3 0.4 0.4 -0.1 0.3 -0.1 0.4 -0.1 0.3 -0.1 0.3 -0.2 0.4 -0.1 0.3 -0.1 0.3 -0.1 0.4 -0.1 0.3 -0.2 0.4 -0.6 0.1 -1.7 0.1 -2.7 0.1 -2 0.1 -4 0.1 -2.6 0.1 -1.2 0 -0.4 0.4 -0.7 0.3 -0.2 0.3 -0.2 0.4 -0.2 0.3 -0.2 0.4 -0.2 0.3 -0.2 0.3 -0.2 0.4 -0.2 0.3 -0.2 0.3 -0.2 0.4 0.3 0.1 1.7 0.1 2.9 0.1 4.6 0.1 4.5 0.1 2.9 0.1 1.4 0.1 0.4 0.3 0.4 0.3 -0.1 0.4 -0.1 0.3 -0.1 0.3 -0.1 0.4 -0.2 0.3 -0.1 0.4 -0.1 0.3 -0.1 0.3 -0.1 0.4 -0.2 0.3 -0.6 0.2 -1.7 0 -2.7 0.1 -2 0.1 -4 0.1 -2.6 0.1 -1.3 0.1 -0.4 0.3 -0.6 0.4 -0.3 0.3 -0.2 0.3 -0.2 0.4 -0.2 0.3 -0.2 0.3 -0.2 0.4 -0.2 0.3 -0.2 0.4 -0.2 0.3 -0.2 0.3 0.3 0.2 1.8 0.1 2.9 0.1 4.5 0.1 4.6 0.1 2.9 0 1.4 0.1 0.4 0.3 0.4 0.4 -0.1 0.3 -0.1 0.4 -0.1 0.3 -0.1 0.3 -0.2 0.4 -0.1 0.3 -0.1 0.3 -0.1 0.4 -0.1 0.3 -0.2 0.4 -0.6 0.1 -1.7 0.1 -2.8 0.1 -2 0.1 -4 0.1 -2.6 0.1 -1.3 0 -0.3 0.4 -0.7 0.3 -0.2 0.3 -0.2 0.4 -0.2 0.3 -0.2 0.4 -0.2 0.3 -0.2 0.3 -0.3 0.4 -0.2 0.3 -0.2 0.3 -0.2 0.4 0.4 0.1 1.7 0.1 2.9 0.1 4.6 0.1 4.6 0.1 2.9 0.1 1.4 0.1 0.4 0.3 0.4 0.3 -0.1 0.4 -0.1 0.3 -0.1 0.3 -0.1 0.4 -0.2 0.3 -0.1 0.4 -0.1 0.3 -0.1 0.3 -0.1 0.4 -0.2 0.3 -0.6 0.1 -1.7 0.1 -2.8 0.1 -2 0.1 -4 0.1 -2.6 0.1 -1.3 0.1 -0.4 0.3 -0.7 0.4 -0.2 0.3 -0.2 0.3 -0.2 0.4 -0.2 0.3 -0.2 0.3 -0.2 0.4 -0.2 0.3 -0.2 0.4 -0.2 0.3 -0.2 0.3 0.3 0.2 1.7 0.1 3 0.1 4.6 0.1 4.6 0.1 2.9 0 1.4 0.1 0.4 0.3 0.4 0.4 -0.1 0.3 -0.1 0.3 -0.1 0.4 -0.1 0.3 -0.2 0.4 -0.1 0.3 -0.1 0.3 -0.1 0.4 -0.1 0.3 -0.2 0.3 -0.6 0.2 -1.7 0.1 -2.8 0.1 -2 0.1 -4 0.1 -2.7 0.1 -1.3 0 -0.4 0.4 -0.6 0.3 -0.2 0.3 -0.3 0.4 -0.2 0.3 -0.2 0.3 -0.2 0.4 -0.2 0.3 -0.2 0.4 -0.2 0.3 -0.2 0.3 -0.2 0.4 0.3 0.1 1.8 0.1 2.9 0.1 4.6 0.1 4.6 0.1 3 0.1 1.4 0 0.4 0.4 0.4 0.3 -0.1 0.4 -0.1 0.3 -0.1 0.3 -0.1 0.4 -0.2 0.3 -0.1 0.3 -0.1 0.4 -0.1 0.3 -0.1 0.4 -0.2 0.3 -0.6 0.1 -1.7 0.1 -2.8 0.1 -2.1 0.1 -4 0.1 -2.6 0.1 -1.3 0.1 -0.4 0.3 -0.7 0.3 -0.2 0.4 -0.2 0.3 -0.2 0.4 -0.2 0.3 -0.2 0.3 -0.2 0.4 -0.2 0.3 -0.3 0.3 -0.2 0.4 -0.2 0.3 0.4 0.2 1.7 0.1 3 0.1 4.6 0.1 4.6 0 3 0.1 1.4 0.1 0.4 0.3 0.4 0.4 -0.1 0.3 -0.1 0.3 -0.1 0.4 -0.1 0.3 -0.2 0.4 -0.1 0.3 -0.1 0.3 -0.1 0.4 -0.1 0.3 -0.2 0.3 -0.6 0.2 -1.7 0.1 -2.8 0.1 -2.1 0.1 -4 0.1 -2.7 0.1 -1.3 0 -0.4 0.4 -0.7 0.3 -0.2 0.3 -0.2 0.4 -0.2 0.3 -0.2 0.3 -0.2 0.4 -0.2 0.3 -0.2 0.4 -0.2 0.3 -0.2 0.3 -0.2 0.4 0.3 0.1 1.8 0.1 2.9 0.1 4.7 0.1 4.6 0.1 3 0.1 1.4 0 0.4 0.4 0.4 0.3 -0.1 0.4 -0.1 0.3 -0.1 0.3 -0.1 0.4 -0.2 0.3 -0.1 0.3 -0.1 0.4 -0.1 0.3 -0.1 0.4 -0.2 0.3 -0.6 0.1 -1.7 0.1 -2.8 0.1 -2.1 0.1 -4.1 0.1 -2.7 0.1 -1.3 0.1 -0.4 0.3 -0.6 0.3 -0.2 0.4 -0.3 0.3 -0.2 0.4 -0.2 0.3 -0.2 0.3 -0.2 0.4 -0.2 0.3 -0.2 0.3 -0.2 0.4 -0.2 0.3 0.3 0.2 1.8 0.1 3 0.1 4.6 0 4.7 0.1 3 0.1 1.4 0.1 0.4 0.3 0.4 0.4 -0.1 0.3 -0.1 0.3 -0.1 0.4 -0.1 0.3 -0.2 0.4 -0.1 0.3 -0.1 0.3 -0.1 0.4 -0.1 0.3 -0.2 0.3 -0.6 0.2 -1.7 0.1 -2.9 0.1 -2.1 0.1 -4 0.1 -2.7 0.1 -1.3 0 -0.4 0.4 -0.7 0.3 -0.2 0.3 -0.2 0.4 -0.2 0.3 -0.2 0.3 -0.2 0.4 -0.2 0.3 -0.2 0.4 -0.3 0.3 -0.2 0.3 -0.1 0.4 0.3 0.1 1.8 0.1 2.9 0.1 4.7 0.1 4.7 0.1 3 0.1 1.4 0 0.4 0.4 0.4 0.3 -0.1 0.4 -0.1 0.3 -0.1 0.3 -0.1 0.4 -0.2 0.3 -0.1 0.3 -0.1 0.4 -0.1 0.3 -0.1 0.4 -0.2 0.3 -0.6 0.1 -1.8 0.1 -2.8 0.1 -2.1 0.1 -4.1 0.1 -2.7 0.1 -1.3 0.1 -0.4 0.3 -0.7 0.3 -0.2 0.4 -0.2 0.3 -0.2 0.4 -0.2 0.3 -0.2 0.3 -0.2 0.4 -0.2 0.3 -0.2 0.3 -0.2 0.4 -0.2 0.3 0.3 0.2 1.8 0.1 3 0.1 4.7 0 4.7 0.1 3 0.1 1.4 0.1 0.4 0.3 0.4 0.4 -0.1 0.3 -0.1 0.3 -0.1 0.4 -0.1 0.3 -0.2 0.3 -0.1 0.4 -0.1 0.3 -0.1 0.4 -0.1 0.3 -0.2 0.3 -0.6 0.2 -1.8 0.1 -2.8 0.1 -2.1 0.1 -4.1 0.1 -2.7 0.1 -1.4 0 -0.3 0.3 -0.7 0.4 -0.2 0.3 -0.2 0.4 -0.3 0.3 -0.2 0.3 -0.2 0.4 -0.2 0.3 -0.2 0.3 -0.2 0.4 -0.2 0.3 -0.2 0.4 0.4 0.1 1.7 0.1 3 0.1 4.7 0.1 4.7 0.1 3.1 0.1 1.4 0 0.4 0.4 0.4 0.3 -0.1 0.3 -0.1 0.4 -0.1 0.3 -0.1 0.4 -0.2 0.3 -0.1 0.3 -0.1 0.4 -0.1 0.3 -0.1 0.3 -0.2 0.4 -0.6 0.1 -1.8 0.1 -2.8 0.1 -2.2 0.1 -4.1 0.1 -2.7 0.1 -1.3 0.1 -0.4 0.3 -0.7 0.3 -0.2 0.4 -0.2 0.3 -0.2 0.3 -0.2 0.4 -0.2 0.3 -0.2 0.4 -0.2 0.3 -0.2 0.3 -0.3 0.4 -0.1 0.3 0.3 0.2 1.8 0.1 3 0 4.7 0.1 4.7 0.1 3.1 0.1 1.4 0.1 0.4 0.3 0.4 0.4 -0.1 0.3 -0.1 0.3 -0.1 0.4 -0.1 0.3 -0.2 0.3 -0.1 0.4 -0.1 0.3 -0.1 0.4 -0.1 0.3 -0.2 0.3 -0.6 0.2 -1.8 0.1 -2.8 0.1 -2.2 0.1 -4.1 0.1 -2.7 0.1 -1.4 0 -0.4 0.3 -0.7 0.4 -0.2 0.3 -0.2 0.4 -0.2 0.3 -0.2 0.3 -0.2 0.4 -0.2 0.3 -0.2 0.3 -0.2 0.4 -0.2 0.3 -0.2 0.4 0.3 0.1 1.8 0.1 3 0.1 4.8 0.1 4.7 0.1 3.1 0.1 1.4 0 0.4 0.4 0.4 0.3 -0.1 0.3 -0.1 0.4 -0.1 0.3 -0.1 0.4 -0.2 0.3 -0.1 0.3 -0.1 0.4 -0.1 0.3 -0.1 0.3 -0.2 0.4 -0.6 0.1 -1.8 0.1 -2.9 0.1 -2.1 0.1 -4.2 0.1 -2.7 0.1 -1.3 0.1 -0.4 0.3 -0.7 0.3 -0.2 0.4 -0.2 0.3 -0.3 0.3 -0.2 0.4 -0.2 0.3 -0.2 0.4 -0.2 0.3 -0.2 0.3 -0.2 0.4 -0.2 0.3 0.4 0.2 1.8 0 3 0.1 4.7 0.1 4.8 0.1 3 0.1 1.5 0.1 0.4 0.3 0.4 0.4 -0.1 0.3 -0.1 0.3 -0.1 0.4 -0.1 0.3 -0.2 0.3 -0.1 0.4 -0.1 0.3 -0.1 0.4 -0.1 0.3 -0.2 0.3 -0.6 0.2 -1.8 0.1 -2.9 0.1 -2.2 0.1 -4.1 0.1 -2.8 0 -1.3 0.1 -0.4 0.3 -0.7 0.4 -0.2 0.3 -0.2 0.4 -0.2 0.3 -0.2 0.3 -0.2 0.4 -0.2 0.3 -0.2 0.3 -0.2 0.4 -0.3 0.3 -0.1 0.4 0.3 0.1 1.8 0.1 3 0.1 4.8 0.1 4.8 0.1 3 0.1 1.5 0 0.4 0.4 0.4 0.3 -0.1 0.3 -0.1 0.4 -0.1 0.3 -0.1 0.4 -0.2 0.3 -0.1 0.3 -0.1 0.4 -0.1 0.3 -0.1 0.3 -0.2 0.4 -0.6 0.1 -1.8 0.1 -2.9 0.1 -2.2 0.1 -4.2 0.1 -2.7 0.1 -1.4 0.1 -0.4 0.3 -0.7 0.3 -0.2 0.4 -0.2 0.3 -0.2 0.3 -0.2 0.4 -0.2 0.3 -0.2 0.4 -0.2 0.3 -0.2 0.3 -0.2 0.4 -0.2 0.3 0.3 0.1 1.8 0.1 3.1 0.1 4.8 0.1 4.7 0.1 3.1 0.1 1.5 0.1 0.4 0.3 0.4 0.4 -0.1 0.3 -0.1 0.3 -0.1 0.4 -0.1 0.3 -0.2 0.3 -0.1 0.4 -0.1 0.3 -0.1 0.4 -0.1 0.3 -0.2 0.3 -0.6 0.2 -1.8 0.1 -2.9 0.1 -2.2 0.1 -4.2 0.1 -2.8 0 -1.3 0.1 -0.4 0.3 -0.7 0.4 -0.2 0.3 -0.2 0.3 -0.3 0.4 -0.2 0.3 -0.2 0.4 -0.2 0.3 -0.2 0.3 -0.2 0.4 -0.2 0.3 -0.2 0.3 0.4 0.2 1.8 0.1 3.1 0.1 4.7 0.1 4.8 0.1 3.1 0.1 1.5 0 0.4 0.4 0.4 0.3 -0.1 0.3 -0.1 0.4 -0.1 0.3 -0.1 0.3 -0.2 0.4 -0.1 0.3 -0.1 0.4 -0.1 0.3 -0.1 0.3 -0.2 0.4 -0.6 0.1 -1.8 0.1 -2.9 0.1 -2.3 0.1 -4.2 0.1 -2.7 0.1 -1.4 0 -0.4 0.4 -0.7 0.3 -0.2 0.4 -0.2 0.3 -0.2" fill="none" stroke="#f24141" stroke-width="2.2" stroke-linejoin="round" clip-path="url(#pc2)"/><path d="M168.8 688.4l1 1.7 0.4 50.2 0.4 -31.3 0.6 -4.1 4.7 -0.8 0.4 -51.1 0.3 14.9 0.5 4.1 3.5 0.8 0.5 36.2 0.7 13.2 0.7 -5 0.5 -11.5 2.3 -1.6 0.5 -33.8 0.9 -3.3 2.4 2.5 0.9 1.7 0.5 25.5 0.5 5.7 3.8 -1.6 0.4 -13.5 0.1 -4.6 0.1 -3.5 0.1 -2.2 0.1 -0.7 0.3 -1.5 0.3 -0.1 0.4 0 0.3 0 0.4 0 0.3 0 0.3 0 0.4 0 0.3 0 0.3 0 0.4 0 0.3 0 0.4 0.1 0.3 0.1 0.3 2.3 0.1 2 0.1 3.5 0.1 4.6 0.1 3.3 0 1.3 0.1 3.5 0.1 2.2 0.1 1.3 0.3 0.8 0.4 0 0.3 0 0.3 0 0.4 -0.1 0.3 0 0.4 0 0.3 -0.2 0.3 -1.4 0.2 -2.9 0.1 -3.5 0.1 -4.3 0.1 -4.2 0.1 -3.3 0.1 -2 0 -0.7 0.3 -1.3 0.4 -0.1 0.3 0 0.4 0 0.3 0 0.3 0 0.4 0 0.3 0 0.3 0 0.4 0 0.3 0 0.4 0 0.3 0 0.3 0.2 0.4 2.1 0 1.8 0.1 3.3 0.1 4.2 0.1 3.1 0 1.1 0.1 3.3 0.1 2 0.1 1.2 0.4 0.7 0.3 0.1 0.4 -0.1 0.3 0 0.3 0 0.4 -0.1 0.3 0 0.3 -0.2 0.4 -1.3 0.1 -2.6 0.1 -3.2 0.1 -4 0.1 -3.9 0.1 -2.9 0.1 -1.9 0 -0.6 0.4 -1.2 0.3 -0.1 0.4 0 0.3 0 0.3 0 0.4 0 0.3 0 0.3 0 0.4 0 0.3 0 0.4 0 0.3 0 0.3 0 0.4 0.2 0.3 1.9 0.1 1.7 0.1 2.9 0.1 3.9 0 2.8 0.1 1.1 0.1 2.9 0.1 1.8 0.1 1.2 0.3 0.7 0.4 0 0.3 -0.1 0.3 0 0.4 0 0.3 -0.1 0.3 0 0.4 -0.1 0.3 -1.2 0.2 -2.5 0.1 -2.9 0.1 -3.6 0 -3.8 0.1 -2.9 0.1 -1.8 0.1 -0.6 0.3 -1.1 0.4 -0.1 0.3 0 0.3 0 0.4 0 0.3 0 0.3 0 0.4 0 0.3 0 0.4 0 0.3 0 0.3 0 0.4 0 0.3 0.1 0.3 1.9 0.1 1.6 0.1 2.9 0.1 3.8 0.1 2.8 0 1 0.1 2.9 0.1 1.8 0.1 1.1 0.4 0.6 0.3 0 0.3 0 0.4 0 0.3 -0.1 0.3 0 0.4 -0.1 0.3 -0.1 0.4 -1.1 0.1 -2.4 0.1 -2.9 0.1 -3.5 0.1 -3.8 0.1 -2.8 0.1 -1.8 0 -0.6 0.4 -1.2 0.3 -0.1 0.3 0 0.4 0 0.3 0 0.4 0 0.3 0 0.3 0 0.4 0 0.3 0 0.3 0 0.4 0 0.3 0.1 0.3 0.1 0.4 1.9 0.1 1.6 0.1 2.8 0.1 3.8 0 2.8 0.1 1 0 2.8 0.1 1.8 0.2 1.1 0.3 0.7 0.3 0 0.4 -0.1 0.3 0 0.3 0 0.4 -0.1 0.3 0 0.4 -0.1 0.3 -1.2 0.1 -2.4 0.1 -2.8 0.1 -3.5 0.1 -3.7 0.1 -2.9 0.1 -1.7 0.1 -0.7 0.3 -1.1 0.3 -0.1 0.4 0 0.3 0 0.4 0 0.3 0 0.3 0 0.4 0 0.3 0 0.3 0 0.4 0 0.3 0 0.4 0 0.3 0.2 0.3 1.9 0.1 1.5 0.1 2.9 0.1 3.7 0.1 2.7 0 1.1 0.1 2.8 0.1 1.8 0.1 1.1 0.3 0.6 0.4 0 0.3 0 0.3 -0.1 0.4 0 0.3 0 0.4 -0.1 0.3 -0.1 0.3 -1.1 0.2 -2.4 0.1 -2.8 0.1 -3.5 0.1 -3.7 0.1 -2.8 0.1 -1.8 0 -0.6 0.3 -1.1 0.4 -0.1 0.3 0 0.4 0 0.3 0 0.3 0 0.4 0 0.3 0 0.3 0 0.4 0 0.3 0 0.4 0 0.3 0 0.3 0.1 0.4 1.9 0 1.6 0.1 2.8 0.1 3.7 0.1 2.7 0 1 0.1 2.9 0.1 1.7 0.1 1.1 0.4 0.7 0.3 0 0.4 -0.1 0.3 0 0.3 0 0.4 -0.1 0.3 0 0.3 -0.1 0.4 -1.2 0.1 -2.3 0.1 -2.8 0.1 -3.5 0.1 -3.7 0.1 -2.8 0.1 -1.7 0 -0.6 0.4 -1.2 0.3 0 0.4 0 0.3 0 0.3 0 0.4 0 0.3 0 0.3 0 0.4 0 0.3 0 0.4 0 0.3 0 0.3 0 0.4 0.1 0.3 1.9 0.1 1.5 0.1 2.8 0.1 3.7 0 2.7 0.1 1 0.1 2.8 0.1 1.8 0.1 1.1 0.3 0.6 0.4 0 0.3 0 0.3 -0.1 0.4 0 0.3 0 0.3 -0.1 0.4 -0.1 0.3 -1.1 0.2 -2.4 0.1 -2.7 0.1 -3.4 0 -3.7 0.1 -2.8 0.1 -1.8 0.1 -0.6 0.3 -1.1 0.4 -0.1 0.3 0 0.3 0 0.4 0 0.3 0 0.3 0 0.4 0 0.3 0 0.4 0 0.3 0 0.3 0 0.4 0 0.3 0.2 0.3 1.8 0.1 1.6 0.1 2.8 0.1 3.7 0.1 2.6 0 1 0.1 2.8 0.1 1.7 0.1 1.1 0.4 0.6 0.3 0.1 0.3 -0.1 0.4 0 0.3 -0.1 0.3 0 0.4 0 0.3 -0.1 0.4 -1.2 0.1 -2.3 0.1 -2.7 0.1 -3.4 0.1 -3.7 0.1 -2.8 0.1 -1.7 0 -0.6 0.4 -1.1 0.3 -0.1 0.3 0 0.4 0 0.3 0 0.4 0 0.3 0 0.3 0 0.4 0 0.3 0 0.3 0 0.4 0 0.3 0 0.3 0.1 0.4 1.9 0.1 1.5 0.1 2.8 0.1 3.7 0 2.6 0.1 1 0 2.8 0.1 1.7 0.2 1.1 0.3 0.6 0.3 0 0.4 0 0.3 -0.1 0.3 0 0.4 0 0.3 -0.1 0.4 -0.1 0.3 -1.1 0.1 -2.3 0.1 -2.8 0.1 -3.3 0.1 -3.7 0.1 -2.7 0.1 -1.7 0.1 -0.6 0.3 -1.1 0.3 -0.1 0.4 0 0.3 0 0.4 0 0.3 0 0.3 0 0.4 0 0.3 0 0.3 0 0.4 0 0.3 0 0.4 0 0.3 0.1 0.3 1.8 0.1 1.6 0.1 2.7 0.1 3.7 0.1 2.6 0 1 0.1 2.7 0.1 1.7 0.1 1.1 0.3 0.6 0.4 0 0.3 0 0.3 0 0.4 -0.1 0.3 0 0.4 0 0.3 -0.2 0.3 -1.1 0.2 -2.3 0.1 -2.7 0.1 -3.3 0.1 -3.6 0.1 -2.8 0.1 -1.7 0 -0.6 0.3 -1.1 0.4 -0.1 0.3 0 0.4 0 0.3 0 0.3 0 0.4 0 0.3 0 0.3 0 0.4 0 0.3 0 0.4 0 0.3 0 0.3 0.2 0.4 1.8 0 1.5 0.1 2.8 0.1 3.6 0.1 2.6 0 1 0.1 2.7 0.1 1.7 0.1 1.1 0.4 0.6 0.3 0 0.4 0 0.3 -0.1 0.3 0 0.4 -0.1 0.3 0 0.3 -0.1 0.4 -1.1 0.1 -2.3 0.1 -2.7 0.1 -3.3 0.1 -3.6 0.1 -2.7 0.1 -1.7 0 -0.6 0.4 -1.1 0.3 -0.1 0.4 0 0.3 0 0.3 0 0.4 0 0.3 0 0.3 0 0.4 0 0.3 0 0.4 0 0.3 0 0.3 0 0.4 0.1 0.3 1.9 0.1 1.5 0.1 2.7 0.1 3.6 0 2.6 0.1 1 0.1 2.7 0.1 1.7 0.1 1 0.3 0.6 0.4 0 0.3 0 0.3 0 0.4 -0.1 0.3 0 0.3 -0.1 0.4 -0.1 0.3 -1.1 0.2 -2.2 0.1 -2.7 0.1 -3.3 0 -3.6 0.1 -2.7 0.1 -1.7 0.1 -0.5 0.3 -1.1 0.4 -0.1 0.3 0 0.3 0 0.4 0 0.3 0 0.3 0 0.4 0 0.3 0 0.4 0 0.3 0 0.3 0 0.4 0 0.3 0.1 0.3 1.8 0.1 1.5 0.1 2.7 0.1 3.6 0.1 2.6 0 0.9 0.1 2.8 0.1 1.6 0.1 1.1 0.4 0.6 0.3 0 0.3 -0.1 0.4 0 0.3 0 0.3 -0.1 0.4 0 0.3 -0.1 0.4 -1.1 0.1 -2.3 0.1 -2.6 0.1 -3.3 0.1 -3.5 0.1 -2.7 0.1 -1.7 0 -0.6 0.4 -1.1 0.3 0 0.3 0 0.4 0 0.3 0 0.4 0 0.3 0 0.3 0 0.4 0 0.3 0 0.3 0 0.4 0 0.3 0 0.3 0.1 0.4 1.8 0.1 1.5 0.1 2.7 0.1 3.5 0 2.6 0.1 0.9 0 2.7 0.1 1.7 0.2 1 0.3 0.6 0.3 0 0.4 0 0.3 0 0.3 -0.1 0.4 0 0.3 -0.1 0.4 -0.1 0.3 -1.1 0.1 -2.2 0.1 -2.6 0.1 -3.3 0.1 -3.5 0.1 -2.7 0.1 -1.6 0.1 -0.6 0.3 -1.1 0.3 -0.1 0.4 0 0.3 0 0.4 0 0.3 0 0.3 0 0.4 0 0.3 0 0.3 0 0.4 0 0.3 0 0.4 0 0.3 0.2 0.3 1.7 0.1 1.5 0.1 2.7 0.1 3.5 0.1 2.6 0 0.9 0.1 2.7 0.1 1.6 0.1 1.1 0.3 0.6 0.4 0 0.3 -0.1 0.3 0 0.4 0 0.3 -0.1 0.4 0 0.3 -0.1 0.3 -1.1 0.2 -2.2 0.1 -2.7 0.1 -3.2 0.1 -3.5 0.1 -2.6 0.1 -1.7 0 -0.6 0.3 -1 0.4 -0.1 0.3 0 0.4 0 0.3 0 0.3 0 0.4 0 0.3 0 0.3 0 0.4 0 0.3 0 0.4 0 0.3 0 0.3 0.1 0.4 1.8 0 1.5 0.1 2.6 0.1 3.5 0.1 2.5 0 1 0.1 2.7 0.1 1.6 0.1 1 0.4 0.6 0.3 0 0.4 0 0.3 -0.1 0.3 0 0.4 0 0.3 -0.1 0.3 -0.1 0.4 -1.1 0.1 -2.2 0.1 -2.6 0.1 -3.2 0.1 -3.4 0.1 -2.7 0.1 -1.6 0 -0.6 0.4 -1.1 0.3 0 0.4 0 0.3 0 0.3 0 0.4 0 0.3 0 0.3 0 0.4 0 0.3 0 0.4 0 0.3 0 0.3 0 0.4 0.1 0.3 1.8 0.1 1.4 0.1 2.7 0.1 3.4 0 2.5 0.1 1 0.1 2.6 0.1 1.6 0.1 1.1 0.3 0.6 0.4 0 0.3 -0.1 0.3 0 0.4 0 0.3 -0.1 0.3 0 0.4 -0.1 0.3 -1.1 0.2 -2.2 0.1 -2.6 0.1 -3.1 0 -3.5 0.1 -2.6 0.1 -1.7 0.1 -0.5 0.3 -1.1 0.4 -0.1 0.3 0 0.3 0 0.4 0 0.3 0 0.3 0 0.4 0 0.3 0 0.4 0 0.3 0 0.3 0 0.4 0 0.3 0.2 0.3 1.7 0.1 1.5 0.1 2.6 0.1 3.5 0.1 2.5 0 0.9 0.1 2.7 0.1 1.6 0.1 1 0.4 0.6 0.3 0 0.3 -0.1 0.4 0 0.3 0 0.3 -0.1 0.4 0 0.3 -0.1 0.4 -1.1 0.1 -2.2 0.1 -2.5 0.1 -3.2 0.1 -3.4 0.1 -2.7 0.1 -1.6 0 -0.6 0.4 -1 0.3 -0.1 0.3 0 0.4 0 0.3 0 0.4 0 0.3 0 0.3 0 0.4 0 0.3 0 0.3 0 0.4 0 0.3 0 0.3 0.1 0.4 1.8 0.1 1.4 0.1 2.7 0.1 3.4 0 2.5 0.1 1 0 2.6 0.1 1.6 0.2 1 0.3 0.6 0.3 0 0.4 0 0.3 0 0.3 -0.1 0.4 0 0.3 -0.1 0.4 -0.1 0.3 -1 0.1 -2.2 0.1 -2.6 0.1 -3.1 0.1 -3.5 0.1 -2.6 0.1 -1.6 0.1 -0.6 0.3 -1.1 0.3 0 0.4 0 0.3 0 0.4 0 0.3 0 0.3 0 0.4 0 0.3 0 0.3 0 0.4 0 0.3 0 0.4 0 0.3 0.1 0.3 1.7 0.1 1.5 0.1 2.6 0.1 3.5 0.1 2.5 0 0.9 0.1 2.6 0.1 1.7 0.1 1 0.3 0.6 0.4 0 0.3 -0.1 0.3 0 0.4 0 0.3 -0.1 0.4 0 0.3 -0.1 0.3 -1.1 0.2 -2.2 0.1 -2.5 0.1 -3.2 0.1 -3.4 0.1 -2.6 0.1 -1.7 0 -0.5 0.3 -1.1 0.4 -0.1 0.3 0 0.4 0 0.3 0 0.3 0 0.4 0 0.3 0 0.3 0 0.4 0 0.3 0 0.4 0 0.3 0 0.3 0.2 0.4 1.7 0 1.5 0.1 2.6 0.1 3.4 0.1 2.5 0 1 0.1 2.6 0.1 1.6 0.1 1 0.4 0.6 0.3 0 0.4 0 0.3 -0.1 0.3 0 0.4 0 0.3 -0.1 0.3 -0.1 0.4 -1.1 0.1 -2.1 0.1 -2.6 0.1 -3.1 0.1 -3.5 0.1 -2.6 0.1 -1.6 0 -0.6 0.4 -1 0.3 -0.1 0.4 0 0.3 0 0.3 0 0.4 0 0.3 0 0.3 0 0.4 0 0.3 0 0.4 0 0.3 0 0.3 0 0.4 0.1 0.3 1.8 0.1 1.4 0.1 2.6 0.1 3.5 0 2.5 0.1 0.9 0.1 2.6 0.1 1.6 0.1 1.1 0.3 0.5 0.4 0 0.3 0 0.3 0 0.4 -0.1 0.3 0 0.3 0 0.4 -0.1 0.3 -1.1 0.2 -2.2 0.1 -2.5 0.1 -3.2 0 -3.4 0.1 -2.6 0.1 -1.6 0.1 -0.6 0.3 -1.1 0.4 0 0.3 0 0.3 0 0.4 0 0.3 0 0.3 0 0.4 0 0.3 0 0.4 0 0.3 0 0.3 0 0.4 0 0.3 0.1 0.3 1.7 0.1 1.5 0.1 2.6 0.1 3.4 0.1 2.5 0 1 0.1 2.6 0.1 1.6 0.1 1 0.4 0.6 0.3 0 0.3 0 0.4 -0.1 0.3 0 0.3 -0.1 0.4 0 0.3 -0.1 0.4 -1.1 0.1 -2.1 0.1 -2.6 0.1 -3.1 0.1 -3.4 0.1 -2.7 0.1 -1.6 0 -0.5 0.4 -1.1 0.3 -0.1 0.3 0 0.4 0 0.3 0 0.4 0 0.3 0 0.3 0 0.4 0 0.3 0 0.3 0 0.4 0 0.3 0 0.3 0.2 0.4 1.7 0.1 1.4 0.1 2.7 0.1 3.4 0 2.5 0.1 0.9 0 2.6 0.1 1.6 0.2 1 0.3 0.6 0.3 0 0.4 0 0.3 0 0.3 -0.1 0.4 0 0.3 -0.1 0.4 -0.1 0.3 -1 0.1 -2.2 0.1 -2.6 0.1 -3.1 0.1 -3.4 0.1 -2.6 0.1 -1.6 0.1 -0.6 0.3 -1 0.3 -0.1 0.4 0 0.3 0 0.4 0 0.3 0 0.3 0 0.4 0 0.3 0 0.3 0 0.4 0 0.3 0 0.4 0 0.3 0.1 0.3 1.8 0.1 1.4 0.1 2.6 0.1 3.4 0.1 2.5 0 1 0.1 2.6 0.1 1.6 0.1 1 0.3 0.6 0.4 0 0.3 -0.1 0.3 0 0.4 0 0.3 -0.1 0.4 0 0.3 -0.1 0.3 -1.1 0.2 -2.1 0.1 -2.6 0.1 -3.1 0.1 -3.4 0.1 -2.6 0.1 -1.6 0 -0.6 0.3 -1.1 0.4 0 0.3 0 0.4 0 0.3 0 0.3 0 0.4 0 0.3 0 0.3 0 0.4 0 0.3 0 0.4 0 0.3 0 0.3 0.1 0.4 1.7 0 1.5 0.1 2.6 0.1 3.4 0.1 2.5 0 0.9 0.1 2.6 0.1 1.6 0.1 1 0.4 0.6 0.3 0 0.4 0 0.3 -0.1 0.3 0 0.4 0 0.3 -0.1 0.3 -0.1 0.4 -1 0.1 -2.2 0.1 -2.6 0.1 -3 0.1 -3.5 0.1 -2.6 0.1 -1.6 0 -0.5 0.4 -1.1 0.3 -0.1 0.4 0 0.3 0 0.3 0 0.4 0 0.3 0 0.3 0 0.4 0 0.3 0 0.4 0 0.3 0 0.3 0 0.4 0.2 0.3 1.7 0.1 1.4 0.1 2.6 0.1 3.5 0 2.4 0.1 1 0.1 2.6 0.1 1.6 0.1 1 0.3 0.5 0.4 0.1 0.3 -0.1 0.3 0 0.4 -0.1 0.3 0 0.3 0 0.4 -0.1 0.3 -1.1 0.2 -2.1 0.1 -2.6 0.1 -3.1 0 -3.4 0.1 -2.6 0.1 -1.6 0.1 -0.6 0.3 -1 0.4 -0.1 0.3 0 0.3 0 0.4 0 0.3 0 0.3 0 0.4 0 0.3 0 0.4 0 0.3 0 0.3 0 0.4 0 0.3 0.1 0.3 1.8 0.1 1.4 0.1 2.6 0.1 3.4 0.1 2.5 0 0.9 0.1 2.6 0.1 1.6 0.1 1 0.4 0.6 0.3 0 0.3 0 0.4 -0.1 0.3 0 0.3 0 0.4 -0.1 0.3 -0.1 0.4 -1.1 0.1 -2.1 0.1 -2.6 0.1 -3 0.1 -3.5 0.1 -2.6 0.1 -1.6 0 -0.5 0.4 -1.1 0.3 0 0.3 0 0.4 0 0.3 0 0.4 0 0.3 0 0.3 0 0.4 0 0.3 0 0.3 0 0.4 0 0.3 0 0.3 0.1 0.4 1.7 0.1 1.4 0.1 2.6 0.1 3.5 0 2.4 0.1 1 0 2.6 0.1 1.5 0.2 1.1 0.3 0.5 0.3 0 0.4 0 0.3 0 0.3 -0.1 0.4 0 0.3 0 0.4 -0.2 0.3 -1 0.1 -2.2 0.1 -2.5 0.1 -3.1 0.1 -3.4 0.1 -2.6 0.1 -1.6 0.1 -0.6 0.3 -1 0.3 -0.1 0.4 0 0.3 0 0.4 0 0.3 0 0.3 0 0.4 0 0.3 0 0.3 0 0.4 0 0.3 0 0.4 0 0.3 0.2 0.3 1.7 0.1 1.4 0.1 2.6 0.1 3.4 0.1 2.5 0 0.9 0.1 2.6 0.1 1.6 0.1 1 0.3 0.6 0.4 0 0.3 -0.1 0.3 0 0.4 0 0.3 -0.1 0.4 0 0.3 -0.1 0.3 -1.1 0.2 -2.1 0.1 -2.6 0.1 -3 0.1 -3.4 0.1 -2.6 0.1 -1.6 0 -0.6 0.3 -1 0.4 -0.1 0.3 0 0.4 0 0.3 0 0.3 0 0.4 0 0.3 0 0.3 0 0.4 0 0.3 0 0.4 0 0.3 0 0.3 0.1 0.4 1.7 0 1.5 0.1 2.6 0.1 3.4 0.1 2.4 0 1 0.1 2.5 0.1 1.6 0.1 1 0.4 0.6 0.3 0 0.4 0 0.3 -0.1 0.3 0 0.4 0 0.3 -0.1 0.3 -0.1 0.4 -1 0.1 -2.2 0.1 -2.5 0.1 -3.1 0.1 -3.4 0.1 -2.6 0.1 -1.6 0 -0.5 0.4 -1.1 0.3 0 0.4 0 0.3 0 0.3 0 0.4 0 0.3 0 0.3 0 0.4 0 0.3 0 0.4 0 0.3 0 0.3 0 0.4 0.1 0.3 1.7 0.1 1.4 0.1 2.6 0.1 3.4 0 2.5 0.1 0.9 0.1 2.6 0.1 1.6 0.1 1 0.3 0.6 0.4 0 0.3 -0.1 0.3 0 0.4 0 0.3 -0.1 0.3 0 0.4 -0.1 0.3 -1.1 0.2 -2.1 0.1 -2.6 0.1 -3 0 -3.4 0.1 -2.6 0.1 -1.6 0.1 -0.6 0.3 -1 0.4 -0.1 0.3 0 0.3 0 0.4 0 0.3 0 0.3 0 0.4 0 0.3 0 0.4 0 0.3 0 0.3 0 0.4 0 0.3 0.1 0.3 1.8 0.1 1.4 0.1 2.6 0.1 3.4 0.1 2.4 0 1 0.1 2.5 0.1 1.6 0.1 1 0.4 0.6 0.3 0 0.3 0 0.4 -0.1 0.3 0 0.3 0 0.4 -0.1 0.3 -0.1 0.4 -1 0.1 -2.2 0.1 -2.5 0.1 -3.1 0.1 -3.4 0.1 -2.6 0.1 -1.6 0 -0.5 0.4 -1.1 0.3 0 0.3 0 0.4 0 0.3 0 0.4 0 0.3 0 0.3 0 0.4 0 0.3 0 0.3 0 0.4 0 0.3 0 0.3 0.1 0.4 1.7 0.1 1.4 0.1 2.6 0.1 3.4 0 2.5 0.1 0.9 0 2.6 0.1 1.6 0.2 1 0.3 0.5 0.3 0 0.4 0 0.3 0 0.3 -0.1 0.4 0 0.3 0 0.4 -0.2 0.3 -1 0.1 -2.1 0.1 -2.6 0.1 -3 0.1 -3.4 0.1 -2.6 0.1 -1.6 0.1 -0.6 0.3 -1 0.3 -0.1 0.4 0 0.3 0 0.4 0 0.3 0 0.3 0 0.4 0 0.3 0 0.3 0 0.4 0 0.3 0 0.4 0 0.3 0.2 0.3 1.7 0.1 1.4 0.1 2.6 0.1 3.4 0.1 2.4 0 0.9 0.1 2.6 0.1 1.6 0.1 1 0.3 0.6 0.4 0 0.3 -0.1 0.3 0 0.4 0 0.3 -0.1 0.4 0 0.3 -0.1 0.3 -1.1 0.2 -2.1 0.1 -2.5 0.1 -3.1 0.1 -3.4 0.1 -2.6 0.1 -1.6 0 -0.5 0.3 -1 0.4 -0.1 0.3 0 0.4 0 0.3 0 0.3 0 0.4 0 0.3 0 0.3 0 0.4 0 0.3 0 0.4 0 0.3 0 0.3 0.1 0.4 1.7 0 1.4 0.1 2.6 0.1 3.4 0.1 2.5 0 0.9 0.1 2.6 0.1 1.5 0.1 1 0.4 0.6 0.3 0 0.4 0 0.3 0 0.3 -0.1 0.4 0 0.3 -0.1 0.3 -0.1 0.4 -1 0.1 -2.1 0.1 -2.6 0.1 -3 0.1 -3.4 0.1 -2.6 0.1 -1.6 0 -0.6 0.4 -1 0.3 -0.1 0.4 0 0.3 0 0.3 0 0.4 0 0.3 0 0.3 0 0.4 0 0.3 0 0.4 0 0.3 0 0.3 0 0.4 0.2 0.3 1.7 0.1 1.4 0.1 2.6 0.1 3.4 0 2.4 0.1 0.9 0.1 2.6 0.1 1.6 0.1 1 0.3 0.6 0.4 0 0.3 -0.1 0.3 0 0.4 0 0.3 -0.1 0.3 0 0.4 -0.1 0.3 -1.1 0.2 -2.1 0.1 -2.5 0.1 -3.1 0 -3.4 0.1 -2.6 0.1 -1.5 0.1 -0.6 0.3 -1 0.4 -0.1 0.3 0 0.3 0 0.4 0 0.3 0 0.3 0 0.4 0 0.3 0 0.4 0 0.3 0 0.3 0 0.4 0 0.3 0.1 0.3 1.7 0.1 1.4 0.1 2.6 0.1 3.4 0.1 2.5 0 0.9 0.1 2.6 0.1 1.5 0.1 1 0.4 0.6 0.3 0 0.3 0 0.4 -0.1 0.3 0 0.3 0 0.4 -0.1 0.3 -0.1 0.4 -1 0.1 -2.2 0.1 -2.5 0.1 -3 0.1 -3.4 0.1 -2.6 0.1 -1.6 0 -0.5 0.4 -1.1 0.3 -0.1 0.3 0 0.4 0 0.3 0 0.4 0 0.3 0 0.3 0 0.4 0 0.3 0 0.3 0 0.4 0 0.3 0.1 0.3 0.1 0.4 1.7 0.1 1.4 0.1 2.6 0.1 3.4 0 2.4 0.1 0.9 0 2.6 0.1 1.6 0.2 1 0.3 0.5 0.3 0 0.4 0 0.3 0 0.3 -0.1 0.4 0 0.3 0 0.4 -0.1 0.3 -1.1 0.1 -2.1 0.1 -2.5 0.1 -3.1 0.1 -3.4 0.1 -2.5 0.1 -1.6 0.1 -0.6 0.3 -1 0.3 -0.1 0.4 0 0.3 0 0.4 0 0.3 0 0.3 0 0.4 0 0.3 0 0.3 0 0.4 0 0.3 0 0.4 0 0.3 0.1 0.3 1.7 0.1 1.5 0.1 2.5 0.1 3.4 0.1 2.5 0 0.9 0.1 2.5 0.1 1.6 0.1 1 0.3 0.6 0.4 0 0.3 0 0.3 -0.1 0.4 0 0.3 -0.1 0.4 0 0.3 -0.1 0.3 -1.1 0.2 -2.1 0.1 -2.5 0.1 -3 0.1 -3.4 0.1 -2.6 0.1 -1.6 0 -0.5 0.3 -1.1 0.4 0 0.3 0 0.4 0 0.3 0 0.3 0 0.4 0 0.3 0 0.3 0 0.4 0 0.3 0 0.4 0 0.3 0 0.3 0.1 0.4 1.7 0 1.4 0.1 2.6 0.1 3.4 0.1 2.4 0 0.9 0.1 2.6 0.1 1.6 0.1 1 0.4 0.5 0.3 0 0.4 0 0.3 0 0.3 -0.1 0.4 0 0.3 -0.1 0.3 -0.1 0.4 -1 0.1 -2.1 0.1 -2.5 0.1 -3.1 0.1 -3.4 0.1 -2.5 0.1 -1.6 0 -0.6 0.4 -1 0.3 -0.1 0.4 0 0.3 0 0.3 0 0.4 0 0.3 0 0.3 0 0.4 0 0.3 0 0.4 0 0.3 0 0.3 0 0.4 0.1 0.3 1.7 0.1 1.5 0.1 2.5 0.1 3.4 0 2.4 0.1 1 0.1 2.5 0.1 1.6 0.1 1 0.3 0.6 0.4 0 0.3 -0.1 0.3 0 0.4 0 0.3 -0.1 0.3 0 0.4 -0.1 0.3 -1.1 0.2 -2.1 0.1 -2.5 0.1 -3.1 0 -3.3 0.1 -2.6 0.1 -1.6 0.1 -0.5 0.3 -1.1 0.4 0 0.3 0 0.3 0 0.4 0 0.3 0 0.3 0 0.4 0 0.3 0 0.4 0 0.3 0 0.3 0 0.4 0 0.3 0.1 0.3 1.7 0.1 1.4 0.1 2.6 0.1 3.3 0.1 2.5 0 0.9 0.1 2.6 0.1 1.5 0.1 1 0.4 0.6 0.3 0 0.3 0 0.4 -0.1 0.3 0 0.3 0 0.4 -0.1 0.3 -0.1 0.4 -1 0.1 -2.1 0.1 -2.6 0.1 -3 0.1 -3.4 0.1 -2.5 0.1 -1.6 0 -0.6 0.4 -1 0.3 -0.1 0.3 0 0.4 0 0.3 0 0.4 0 0.3 0 0.3 0 0.4 0 0.3 0 0.3 0 0.4 0 0.3 0 0.3 0.1 0.4 1.7 0.1 1.5 0.1 2.5 0.1 3.4 0 2.4 0.1 1 0 2.5 0.1 1.6 0.2 1 0.3 0.5 0.3 0.1 0.4 -0.1 0.3 0 0.3 -0.1 0.4 0 0.3 0 0.4 -0.1 0.3 -1.1 0.1 -2.1 0.1 -2.5 0.1 -3.1 0.1 -3.3 0.1 -2.6 0.1 -1.6 0.1 -0.5 0.3 -1.1 0.3 0 0.4 0 0.3 0 0.4 0 0.3 0 0.3 0 0.4 0 0.3 0 0.3 0 0.4 0 0.3 0 0.4 0 0.3 0.1 0.3 1.7 0.1 1.4 0.1 2.6 0.1 3.3 0.1 2.5 0 0.9 0.1 2.6 0.1 1.5 0.1 1 0.3 0.6 0.4 0 0.3 0 0.3 -0.1 0.4 0 0.3 -0.1 0.4 0 0.3 -0.1 0.3 -1 0.2 -2.1 0.1 -2.6 0.1 -3 0.1 -3.4 0.1 -2.5 0.1 -1.6 0 -0.6 0.3 -1 0.4 -0.1 0.3 0 0.4 0 0.3 0 0.3 0 0.4 0 0.3 0 0.3 0 0.4 0 0.3 0 0.4 0 0.3 0 0.3 0.2 0.4 1.7 0 1.4 0.1 2.5 0.1 3.4 0.1 2.4 0 0.9 0.1 2.6 0.1 1.6 0.1 1 0.4 0.5 0.3 0 0.4 0 0.3 0 0.3 -0.1 0.4 0 0.3 -0.1 0.3 -0.1 0.4 -1 0.1 -2.1 0.1 -2.5 0.1 -3.1 0.1 -3.3 0.1 -2.6 0.1 -1.6 0 -0.5 0.4 -1 0.3 -0.1 0.4 0 0.3 0" fill="none" stroke="#555555" stroke-width="2.2" stroke-linejoin="round" clip-path="url(#pc3)"/><path d="M681.2 690.1l1.9 -5 1.9 -2.4 1.9 -0.8 1.1 10.6 0.5 0.9 0.2 -3.1 0.2 -3 0.9 -0.9 1.1 -0.4 1.6 0.4 0.3 4.4 0.3 -0.8 0.1 -6.1 1 -1.5 1.4 -1.2 1.4 -0.2 0.4 -0.4 0.2 1.6 0.2 4.8 0.1 6.4 0.1 0 0.1 -3.2 0.2 -3.2 1 -0.9 1 -0.4 1.6 0.5 0.4 4.5 0.2 -0.8 0.2 -6.4 0.9 -1.4 1.5 -1.2 1.4 -0.2 0.4 -0.5 0.2 1.7 0.1 4.9 0.2 6.6 0.2 -3.4 0.1 -3.3 1 -0.9 1.1 -0.3 1.6 0.4 0.3 4.7 0.3 -0.8 0.1 -6.6 1 -1.5 1.4 -1.1 1.4 -0.3 0.4 -0.4 0.2 1.7 0.2 5 0.1 6.8 0.1 0 0.1 -3.5 0.2 -3.5 1 -0.9 1 -0.3 1.6 0.4 0.4 4.9 0.2 -0.8 0.2 -6.8 0.9 -1.5 1.5 -1.2 1.4 -0.2 0.3 -0.4 0.3 1.6 0.1 5.3 0.2 6.9 0.2 -3.6 0.1 -3.7 1 -0.8 1.1 -0.4 1.6 0.4 0.3 5.1 0.2 -0.8 0.2 -7.1 1 -1.5 1.4 -1.1 1.4 -0.3 0.4 -0.4 0.2 1.7 0.2 5.4 0.1 7.1 0.1 0 0.1 -3.8 0.2 -3.7 1 -0.9 1 -0.4 1.6 0.4 0.4 5.3 0.2 -0.8 0.2 -7.3 0.9 -1.5 1.4 -1.2 1.5 -0.2 0.3 -0.4 0.3 1.6 0.1 5.6 0.2 7.3 0.2 -3.9 0.1 -3.9 1 -0.9 1.1 -0.4 1.6 0.4 0.3 5.5 0.2 -0.8 0.2 -7.6 1 -1.5 1.4 -1.1 1.4 -0.3 0.4 -0.4 0.2 1.7 0.2 5.8 0.1 7.4 0.1 0 0.1 -4.1 0.2 -4 1 -0.9 1 -0.3 1.6 0.4 0.4 5.6 0.2 -0.8 0.2 -7.8 0.9 -1.5 1.4 -1.2 1.5 -0.2 0.3 -0.4 0.3 1.6 0.1 6 0.2 7.6 0.1 -4.2 0.2 -4.2 1 -0.9 1.1 -0.3 1.6 0.4 0.3 5.8 0.2 -0.8 0.2 -8.1 1 -1.4 1.4 -1.2 1.4 -0.2 0.4 -0.5 0.2 1.7 0.2 6.1 0.1 7.8 0.1 0 0.1 -4.3 0.2 -4.4 1 -0.8 1 -0.4 1.6 0.4 0.4 6 0.2 -0.8 0.2 -8.3 0.9 -1.5 1.4 -1.1 1.5 -0.3 0.3 -0.4 0.3 1.7 0.1 6.2 0.2 8 0.1 -4.5 0.2 -4.5 1 -0.8 1.1 -0.4 1.6 0.4 0.3 6.2 0.2 -0.8 0.2 -8.5 1 -1.5 1.4 -1.2 1.4 -0.2 0.4 -0.4 0.2 1.6 0.2 6.5 0.1 8.1 0.1 0 0.1 -4.6 0.2 -4.6 1 -0.9 1 -0.3 1.6 0.4 0.3 6.4 0.3 -0.9 0.2 -8.8 0.9 -1.4 1.4 -1.2 1.5 -0.2 0.3 -0.5 0.3 1.7 0.1 6.6 0.2 8.3 0.1 -4.7 0.2 -4.7 1 -0.9 1.1 -0.4 1.6 0.4 0.3 6.6 0.2 -0.8 0.2 -9 1 -1.5 1.4 -1.2 1.4 -0.2 0.4 -0.4 0.2 1.6 0.2 6.8 0.1 8.4 0.2 -4.8 0.2 -4.8 1 -0.9 1 -0.4 1.6 0.4 0.3 6.7 0.3 -0.8 0.2 -9.2 0.9 -1.5 1.4 -1.1 1.4 -0.3 0.4 -0.4 0.3 1.7 0.1 6.8 0.1 8.6 0.1 0 0.1 -4.9 0.2 -5 1 -0.8 1.1 -0.4 1.6 0.4 0.3 6.8 0.2 -0.8 0.2 -9.4 1 -1.4 1.4 -1.2 1.4 -0.2 0.4 -0.4 0.2 1.6 0.2 7 0.1 8.7 0.2 -5.1 0.2 -5 1 -0.8 1 -0.4 1.6 0.4 0.3 7 0.3 -0.8 0.2 -9.6 0.9 -1.5 1.4 -1.2 1.4 -0.2 0.4 -0.4 0.3 1.6 0.1 7.2 0.1 8.8 0.1 0 0.1 -5.2 0.2 -5.1 1 -0.9 1.1 -0.3 1.6 0.4 0.3 7.1 0.2 -0.8 0.2 -9.8 1 -1.5 1.4 -1.1 1.4 -0.3 0.4 -0.4 0.2 1.7 0.1 7.2 0.2 9 0.2 -5.3 0.2 -5.2 1 -0.9 1 -0.3 1.6 0.4 0.3 7.2 0.3 -0.8 0.2 -9.9 0.9 -1.5 1.4 -1.2 1.4 -0.2 0.4 -0.4 0.3 1.6 0.1 7.4 0.1 9.1 0.1 0 0.1 -5.4 0.2 -5.3 1 -0.9 1 -0.4 1.7 0.5 0.3 7.4 0.2 -0.9 0.2 -10.1 1 -1.5 1.4 -1.1 1.4 -0.3 0.4 -0.4 0.2 1.6 0.1 7.6 0.2 9.2 0.2 -5.5 0.2 -5.4 1 -0.9 1 -0.4 1.6 0.4 0.3 7.6 0.3 -0.8 0.2 -10.4 0.9 -1.5 1.4 -1.1 1.4 -0.3 0.4 -0.4 0.3 1.7 0.1 7.7 0.1 9.3 0.1 0 0.1 -5.6 0.2 -5.6 1 -0.8 1 -0.4 1.7 0.4 0.3 7.7 0.2 -0.8 0.2 -10.5 1 -1.5 1.4 -1.2 1.4 -0.2 0.4 -0.4 0.2 1.6 0.1 7.8 0.2 9.5 0.2 -5.7 0.2 -5.6 1 -0.9 1 -0.4 1.6 0.4 0.3 7.9 0.3 -0.9 0.2 -10.7 0.9 -1.4 1.4 -1.2 1.4 -0.2 0.4 -0.4 0.2 1.6 0.2 7.9 0.1 9.6 0.1 0 0.1 -5.7 0.2 -5.7 1 -0.9 1 -0.3 1.6 0.4 0.4 7.8 0.2 -0.8 0.2 -10.7 0.9 -1.5 1.5 -1.2 1.4 -0.2 0.4 -0.4 0.2 1.6 0.1 8 0.2 9.6 0.2 -5.7 0.2 -5.8 0.9 -0.8 1.1 -0.4 1.6 0.4 0.3 7.9 0.3 -0.8 0.2 -10.8 0.9 -1.5 1.4 -1.1 1.4 -0.3 0.4 -0.4 0.2 1.6 0.2 8 0.1 9.7 0.1 0 0.1 -5.8 0.2 -5.7 1 -0.9 1 -0.4 1.6 0.4 0.4 8 0.2 -0.8 0.2 -10.9 0.9 -1.5 1.5 -1.1 1.4 -0.3 0.4 -0.4 0.2 1.7 0.1 8 0.2 9.7 0.2 -5.8 0.2 -5.8 0.9 -0.9 1.1 -0.3 1.6 0.4 0.3 8 0.3 -0.9 0.1 -10.9 1 -1.5 1.4 -1.1 1.4 -0.3 0.4 -0.4 0.2 1.7 0.2 8.1 0.1 9.7 0.1 0 0.1 -5.8 0.2 -5.9 1 -0.8 1 -0.4 1.6 0.4 0.4 8 0.2 -0.8 0.2 -11 0.9 -1.4 1.5 -1.2 1.4 -0.2 0.4 -0.5 0.2 1.7 0.1 8.1 0.2 9.8 0.2 -5.9 0.1 -5.8 1 -0.9 1.1 -0.4 1.6 0.4 0.3 8.1 0.3 -0.8 0.1 -11 1 -1.5 1.4 -1.2 1.4 -0.2 0.4 -0.4 0.2 1.6 0.2 8.2 0.1 9.8 0.1 0 0.1 -5.9 0.2 -5.9 1 -0.9 1 -0.3 1.6 0.4 0.4 8.1 0.2 -0.8 0.2 -11.1 0.9 -1.5 1.5 -1.2 1.4 -0.2 0.3 -0.4 0.3 1.6 0.1 8.2 0.2 9.9 0.2 -5.9 0.1 -6 1 -0.8 1.1 -0.4 1.6 0.4 0.3 8.2 0.2 -0.8 0.2 -11.2 1 -1.5 1.4 -1.1 1.4 -0.3 0.4 -0.4 0.2 1.6 0.2 8.3 0.1 9.9 0.1 0 0.1 -6 0.2 -5.9 1 -0.9 1 -0.4 1.6 0.4 0.4 8.3 0.2 -0.9 0.2 -11.2 0.9 -1.5 1.4 -1.1 1.5 -0.3 0.3 -0.4 0.3 1.7 0.1 8.2 0.2 10 0.2 -6 0.1 -6 1 -0.9 1.1 -0.3 1.6 0.4 0.3 8.2 0.2 -0.8 0.2 -11.3 1 -1.5 1.4 -1.1 1.4 -0.3 0.4 -0.4 0.2 1.7 0.2 8.3 0.1 10 0.1 0 0.1 -6 0.2 -6.1 1 -0.8 1 -0.4 1.6 0.4 0.4 8.3 0.2 -0.8 0.2 -11.4 0.9 -1.4 1.4 -1.2 1.5 -0.2 0.3 -0.4 0.3 1.6 0.1 8.4 0.2 10 0.1 -6.1 0.2 -6 1 -0.9 1.1 -0.4 1.6 0.4 0.3 8.4 0.2 -0.8 0.2 -11.4 1 -1.5 1.4 -1.2 1.4 -0.2 0.4 -0.4 0.2 1.6 0.2 8.4 0.1 10.1 0.1 0 0.1 -6.1 0.2 -6.1 1 -0.9 1 -0.3 1.6 0.4 0.4 8.4 0.2 -0.9 0.2 -11.4 0.9 -1.5 1.4 -1.2 1.5 -0.2 0.3 -0.4 0.3 1.6 0.1 8.5 0.2 10.1 0.1 -6.1 0.2 -6.2 1 -0.8 1.1 -0.4 1.6 0.4 0.3 8.4 0.2 -0.8 0.2 -11.5 1 -1.5 1.4 -1.1 1.4 -0.3 0.4 -0.4 0.2 1.7 0.2 8.4 0.1 10.2 0.1 0 0.1 -6.2 0.2 -6.1 1 -0.9 1 -0.4 1.6 0.4 0.3 8.5 0.3 -0.8 0.2 -11.6 0.9 -1.5 1.4 -1.1 1.5 -0.3 0.3 -0.4 0.3 1.7 0.1 8.5 0.2 10.2 0.1 -6.2 0.2 -6.2 1 -0.9 1.1 -0.3 1.6 0.4 0.3 8.5 0.2 -0.8 0.2 -11.7 1 -1.4 1.4 -1.2 1.4 -0.2 0.4 -0.5 0.2 1.7 0.2 8.6 0.1 10.2 0.2 -6.2 0.2 -6.3 1 -0.8 1 -0.4 1.6 0.4 0.3 8.6 0.3 -0.8 0.2 -11.8 0.9 -1.4 1.4 -1.2 1.4 -0.2 0.4 -0.4 0.3 1.6 0.1 8.6 0.1 10.3 0.1 0 0.1 -6.3 0.2 -6.2 1 -0.9 1.1 -0.4 1.6 0.4 0.3 8.7 0.2 -0.9 0.2 -11.7 1 -1.5 1.4 -1.2 1.4 -0.2 0.4 -0.4 0.2 1.6 0.2 8.7 0.1 10.3 0.2 -6.3 0.2 -6.3 1 -0.9 1 -0.3 1.6 0.4 0.3 8.6 0.3 -0.8 0.2 -11.8 0.9 -1.5 1.4 -1.1 1.4 -0.3 0.4 -0.4 0.3 1.6 0.1 8.7 0.1 10.4 0.1 0 0.1 -6.4 0.2 -6.3 1 -0.8 1.1 -0.4 1.6 0.4 0.3 8.7 0.2 -0.8 0.2 -11.9 1 -1.5 1.4 -1.1 1.4 -0.3 0.4 -0.4 0.2 1.7 0.1 8.7 0.2 10.4 0.2 -6.4 0.2 -6.3 1 -0.9 1 -0.4 1.6 0.4 0.3 8.8 0.3 -0.8 0.2 -12 0.9 -1.5 1.4 -1.1 1.4 -0.3 0.4 -0.4 0.3 1.7 0.1 8.8 0.1 10.4 0.1 0 0.1 -6.4 0.2 -6.4 1 -0.9 1 -0.3 1.7 0.4 0.3 8.8 0.2 -0.9 0.2 -12 1 -1.4 1.4 -1.2 1.4 -0.2 0.4 -0.5 0.2 1.7 0.1 8.8 0.2 10.5 0.2 -6.5 0.2 -6.4 1 -0.8 1 -0.4 1.6 0.4 0.3 8.8 0.3 -0.8 0.2 -12 0.9 -1.5 1.4 -1.2 1.4 -0.2 0.4 -0.4 0.3 1.6 0.1 8.9 0.1 10.5 0.1 0 0.1 -6.5 0.2 -6.4 1 -0.9 1 -0.4 1.7 0.4 0.3 8.9 0.2 -0.8 0.2 -12.1 1 -1.5 1.4 -1.2 1.4 -0.2 0.4 -0.4 0.2 1.6 0.1 8.9 0.2 10.6 0.2 -6.5 0.2 -6.5 1 -0.9 1 -0.3 1.6 0.4 0.3 8.9 0.3 -0.8 0.2 -12.2 0.9 -1.5 1.4 -1.1 1.4 -0.3 0.4 -0.4 0.2 1.6 0.2 9 0.1 10.6 0.1 0 0.1 -6.6 0.2 -6.5 1 -0.8 1 -0.4 1.6 0.4 0.4 9 0.2 -0.8 0.2 -12.3 0.9 -1.5 1.5 -1.1 1.4 -0.3 0.4 -0.4 0.2 1.7 0.1 8.9 0.2 10.7 0.2 -6.6 0.2 -6.5 0.9 -0.9 1.1 -0.4 1.6 0.4 0.3 9.1 0.3 -0.9 0.2 -12.3 0.9 -1.5 1.4 -1.1 1.4 -0.3 0.4 -0.4 0.2 1.7 0.2 9 0.1 10.7 0.1 0 0.1 -6.6 0.2 -6.6 1 -0.9" fill="none" stroke="#555555" stroke-width="2.2" stroke-linejoin="round" clip-path="url(#pc3)"/><path d="M169.0 62.0V783.0M1153.6 62.0V783.0M167.8 62.0H1154.8M167.8 242.25H1154.8M167.8 422.5H1154.8M167.8 602.75H1154.8M167.8 783.0H1154.8M160.0 69.5H169.0M160.0 110.7H169.0M160.0 151.8H169.0M160.0 193.0H169.0M160.0 234.1H169.0M164.5 90.1H169.0M164.5 131.2H169.0M164.5 172.4H169.0M164.5 213.5H169.0M160.0 249.8H169.0M160.0 290.9H169.0M160.0 332.1H169.0M160.0 373.2H169.0M160.0 414.4H169.0M164.5 270.3H169.0M164.5 311.5H169.0M164.5 352.6H169.0M164.5 393.8H169.0M160.0 430.0H169.0M160.0 471.1H169.0M160.0 512.3H169.0M160.0 553.4H169.0M160.0 594.6H169.0M164.5 450.6H169.0M164.5 491.7H169.0M164.5 532.9H169.0M164.5 574.0H169.0M160.0 610.2H169.0M160.0 651.4H169.0M160.0 692.5H169.0M160.0 733.7H169.0M160.0 774.8H169.0M164.5 630.8H169.0M164.5 672.0H169.0M164.5 713.1H169.0M164.5 754.3H169.0M168.8 242.25v-9M216.0 242.25v-9M263.2 242.25v-9M310.4 242.25v-9M357.6 242.25v-9M404.8 242.25v-9M452.0 242.25v-9M499.2 242.25v-9M546.4 242.25v-9M593.6 242.25v-9M640.8 242.25v-9M681.2 242.25v-9M728.4 242.25v-9M775.7 242.25v-9M822.9 242.25v-9M870.2 242.25v-9M917.4 242.25v-9M964.6 242.25v-9M1011.9 242.25v-9M1059.1 242.25v-9M1106.4 242.25v-9M1153.6 242.25v-9M192.4 242.25v-4.5M239.6 242.25v-4.5M286.8 242.25v-4.5M334.0 242.25v-4.5M381.2 242.25v-4.5M428.4 242.25v-4.5M475.6 242.25v-4.5M522.8 242.25v-4.5M570.0 242.25v-4.5M617.2 242.25v-4.5M704.8 242.25v-4.5M752.1 242.25v-4.5M799.3 242.25v-4.5M846.5 242.25v-4.5M893.8 242.25v-4.5M941.0 242.25v-4.5M988.3 242.25v-4.5M1035.5 242.25v-4.5M1082.7 242.25v-4.5M1130.0 242.25v-4.5M168.8 422.5v-9M216.0 422.5v-9M263.2 422.5v-9M310.4 422.5v-9M357.6 422.5v-9M404.8 422.5v-9M452.0 422.5v-9M499.2 422.5v-9M546.4 422.5v-9M593.6 422.5v-9M640.8 422.5v-9M681.2 422.5v-9M728.4 422.5v-9M775.7 422.5v-9M822.9 422.5v-9M870.2 422.5v-9M917.4 422.5v-9M964.6 422.5v-9M1011.9 422.5v-9M1059.1 422.5v-9M1106.4 422.5v-9M1153.6 422.5v-9M192.4 422.5v-4.5M239.6 422.5v-4.5M286.8 422.5v-4.5M334.0 422.5v-4.5M381.2 422.5v-4.5M428.4 422.5v-4.5M475.6 422.5v-4.5M522.8 422.5v-4.5M570.0 422.5v-4.5M617.2 422.5v-4.5M704.8 422.5v-4.5M752.1 422.5v-4.5M799.3 422.5v-4.5M846.5 422.5v-4.5M893.8 422.5v-4.5M941.0 422.5v-4.5M988.3 422.5v-4.5M1035.5 422.5v-4.5M1082.7 422.5v-4.5M1130.0 422.5v-4.5M168.8 602.75v-9M216.0 602.75v-9M263.2 602.75v-9M310.4 602.75v-9M357.6 602.75v-9M404.8 602.75v-9M452.0 602.75v-9M499.2 602.75v-9M546.4 602.75v-9M593.6 602.75v-9M640.8 602.75v-9M681.2 602.75v-9M728.4 602.75v-9M775.7 602.75v-9M822.9 602.75v-9M870.2 602.75v-9M917.4 602.75v-9M964.6 602.75v-9M1011.9 602.75v-9M1059.1 602.75v-9M1106.4 602.75v-9M1153.6 602.75v-9M192.4 602.75v-4.5M239.6 602.75v-4.5M286.8 602.75v-4.5M334.0 602.75v-4.5M381.2 602.75v-4.5M428.4 602.75v-4.5M475.6 602.75v-4.5M522.8 602.75v-4.5M570.0 602.75v-4.5M617.2 602.75v-4.5M704.8 602.75v-4.5M752.1 602.75v-4.5M799.3 602.75v-4.5M846.5 602.75v-4.5M893.8 602.75v-4.5M941.0 602.75v-4.5M988.3 602.75v-4.5M1035.5 602.75v-4.5M1082.7 602.75v-4.5M1130.0 602.75v-4.5M168.8 783.0v-9M216.0 783.0v-9M263.2 783.0v-9M310.4 783.0v-9M357.6 783.0v-9M404.8 783.0v-9M452.0 783.0v-9M499.2 783.0v-9M546.4 783.0v-9M593.6 783.0v-9M640.8 783.0v-9M681.2 783.0v-9M728.4 783.0v-9M775.7 783.0v-9M822.9 783.0v-9M870.2 783.0v-9M917.4 783.0v-9M964.6 783.0v-9M1011.9 783.0v-9M1059.1 783.0v-9M1106.4 783.0v-9M1153.6 783.0v-9M192.4 783.0v-4.5M239.6 783.0v-4.5M286.8 783.0v-4.5M334.0 783.0v-4.5M381.2 783.0v-4.5M428.4 783.0v-4.5M475.6 783.0v-4.5M522.8 783.0v-4.5M570.0 783.0v-4.5M617.2 783.0v-4.5M704.8 783.0v-4.5M752.1 783.0v-4.5M799.3 783.0v-4.5M846.5 783.0v-4.5M893.8 783.0v-4.5M941.0 783.0v-4.5M988.3 783.0v-4.5M1035.5 783.0v-4.5M1082.7 783.0v-4.5M1130.0 783.0v-4.5" stroke="#000" stroke-width="2.4" fill="none"/><path d="M636 784.2H685M636 61.2H685" stroke="#000" stroke-width="2.2"/><rect x="639.5" y="63.1" width="43.9" height="718.8" fill="#8b8b8b"/><text transform="translate(670.50 429.50) rotate(-90) scale(1 1.06)" text-anchor="middle" font-family="'Liberation Sans', sans-serif" font-weight="bold" font-size="26" fill="#fff">6 hours rest</text><text transform="translate(152.80 74.90) scale(1 1.06)" text-anchor="end" font-family="'Liberation Sans', sans-serif" font-weight="bold" font-size="19">1.0</text><text transform="translate(152.80 116.05) scale(1 1.06)" text-anchor="end" font-family="'Liberation Sans', sans-serif" font-weight="bold" font-size="19">0.5</text><text transform="translate(152.80 157.20) scale(1 1.06)" text-anchor="end" font-family="'Liberation Sans', sans-serif" font-weight="bold" font-size="19">0.0</text><text transform="translate(152.80 198.35) scale(1 1.06)" text-anchor="end" font-family="'Liberation Sans', sans-serif" font-weight="bold" font-size="19">-0.5</text><text transform="translate(152.80 239.50) scale(1 1.06)" text-anchor="end" font-family="'Liberation Sans', sans-serif" font-weight="bold" font-size="19">-1.0</text><text transform="translate(152.80 255.15) scale(1 1.06)" text-anchor="end" font-family="'Liberation Sans', sans-serif" font-weight="bold" font-size="19">1.0</text><text transform="translate(152.80 296.30) scale(1 1.06)" text-anchor="end" font-family="'Liberation Sans', sans-serif" font-weight="bold" font-size="19">0.5</text><text transform="translate(152.80 337.45) scale(1 1.06)" text-anchor="end" font-family="'Liberation Sans', sans-serif" font-weight="bold" font-size="19">0.0</text><text transform="translate(152.80 378.60) scale(1 1.06)" text-anchor="end" font-family="'Liberation Sans', sans-serif" font-weight="bold" font-size="19">-0.5</text><text transform="translate(152.80 419.75) scale(1 1.06)" text-anchor="end" font-family="'Liberation Sans', sans-serif" font-weight="bold" font-size="19">-1.0</text><text transform="translate(152.80 435.40) scale(1 1.06)" text-anchor="end" font-family="'Liberation Sans', sans-serif" font-weight="bold" font-size="19">1.0</text><text transform="translate(152.80 476.55) scale(1 1.06)" text-anchor="end" font-family="'Liberation Sans', sans-serif" font-weight="bold" font-size="19">0.5</text><text transform="translate(152.80 517.70) scale(1 1.06)" text-anchor="end" font-family="'Liberation Sans', sans-serif" font-weight="bold" font-size="19">0.0</text><text transform="translate(152.80 558.85) scale(1 1.06)" text-anchor="end" font-family="'Liberation Sans', sans-serif" font-weight="bold" font-size="19">-0.5</text><text transform="translate(152.80 600.00) scale(1 1.06)" text-anchor="end" font-family="'Liberation Sans', sans-serif" font-weight="bold" font-size="19">-1.0</text><text transform="translate(152.80 615.65) scale(1 1.06)" text-anchor="end" font-family="'Liberation Sans', sans-serif" font-weight="bold" font-size="19">1.0</text><text transform="translate(152.80 656.80) scale(1 1.06)" text-anchor="end" font-family="'Liberation Sans', sans-serif" font-weight="bold" font-size="19">0.5</text><text transform="translate(152.80 697.95) scale(1 1.06)" text-anchor="end" font-family="'Liberation Sans', sans-serif" font-weight="bold" font-size="19">0.0</text><text transform="translate(152.80 739.10) scale(1 1.06)" text-anchor="end" font-family="'Liberation Sans', sans-serif" font-weight="bold" font-size="19">-0.5</text><text transform="translate(152.80 780.25) scale(1 1.06)" text-anchor="end" font-family="'Liberation Sans', sans-serif" font-weight="bold" font-size="19">-1.0</text><text transform="translate(168.80 808.00) scale(1 1.06)" text-anchor="middle" font-family="'Liberation Sans', sans-serif" font-weight="bold" font-size="19">0</text><text transform="translate(216.00 808.00) scale(1 1.06)" text-anchor="middle" font-family="'Liberation Sans', sans-serif" font-weight="bold" font-size="19">10</text><text transform="translate(263.20 808.00) scale(1 1.06)" text-anchor="middle" font-family="'Liberation Sans', sans-serif" font-weight="bold" font-size="19">20</text><text transform="translate(310.40 808.00) scale(1 1.06)" text-anchor="middle" font-family="'Liberation Sans', sans-serif" font-weight="bold" font-size="19">30</text><text transform="translate(357.60 808.00) scale(1 1.06)" text-anchor="middle" font-family="'Liberation Sans', sans-serif" font-weight="bold" font-size="19">40</text><text transform="translate(404.80 808.00) scale(1 1.06)" text-anchor="middle" font-family="'Liberation Sans', sans-serif" font-weight="bold" font-size="19">50</text><text transform="translate(452.00 808.00) scale(1 1.06)" text-anchor="middle" font-family="'Liberation Sans', sans-serif" font-weight="bold" font-size="19">60</text><text transform="translate(499.20 808.00) scale(1 1.06)" text-anchor="middle" font-family="'Liberation Sans', sans-serif" font-weight="bold" font-size="19">70</text><text transform="translate(546.40 808.00) scale(1 1.06)" text-anchor="middle" font-family="'Liberation Sans', sans-serif" font-weight="bold" font-size="19">80</text><text transform="translate(593.60 808.00) scale(1 1.06)" text-anchor="middle" font-family="'Liberation Sans', sans-serif" font-weight="bold" font-size="19">90</text><text transform="translate(640.80 808.00) scale(1 1.06)" text-anchor="middle" font-family="'Liberation Sans', sans-serif" font-weight="bold" font-size="19">100</text><text transform="translate(681.20 808.00) scale(1 1.06)" text-anchor="middle" font-family="'Liberation Sans', sans-serif" font-weight="bold" font-size="19">106</text><text transform="translate(728.44 808.00) scale(1 1.06)" text-anchor="middle" font-family="'Liberation Sans', sans-serif" font-weight="bold" font-size="19">116</text><text transform="translate(775.68 808.00) scale(1 1.06)" text-anchor="middle" font-family="'Liberation Sans', sans-serif" font-weight="bold" font-size="19">126</text><text transform="translate(822.92 808.00) scale(1 1.06)" text-anchor="middle" font-family="'Liberation Sans', sans-serif" font-weight="bold" font-size="19">136</text><text transform="translate(870.16 808.00) scale(1 1.06)" text-anchor="middle" font-family="'Liberation Sans', sans-serif" font-weight="bold" font-size="19">146</text><text transform="translate(917.40 808.00) scale(1 1.06)" text-anchor="middle" font-family="'Liberation Sans', sans-serif" font-weight="bold" font-size="19">156</text><text transform="translate(964.64 808.00) scale(1 1.06)" text-anchor="middle" font-family="'Liberation Sans', sans-serif" font-weight="bold" font-size="19">166</text><text transform="translate(1011.88 808.00) scale(1 1.06)" text-anchor="middle" font-family="'Liberation Sans', sans-serif" font-weight="bold" font-size="19">176</text><text transform="translate(1059.12 808.00) scale(1 1.06)" text-anchor="middle" font-family="'Liberation Sans', sans-serif" font-weight="bold" font-size="19">186</text><text transform="translate(1106.36 808.00) scale(1 1.06)" text-anchor="middle" font-family="'Liberation Sans', sans-serif" font-weight="bold" font-size="19">196</text><text transform="translate(1153.60 808.00) scale(1 1.06)" text-anchor="middle" font-family="'Liberation Sans', sans-serif" font-weight="bold" font-size="19">206</text><text transform="translate(661.20 843.60) scale(1 1.06)" text-anchor="middle" font-family="'Liberation Sans', sans-serif" font-weight="bold" font-size="30.6">Time (hours)</text><text transform="translate(101.50 439.60) rotate(-90) scale(1 1.06)" text-anchor="middle" font-family="'Liberation Sans', sans-serif" font-weight="bold" font-size="31.4">Voltage (V)</text><text transform="translate(70.40 57.90)" font-family="'Liberation Sans', sans-serif" font-weight="bold" font-size="44">a)</text><path d="M318.2 78.4H364" stroke="#30ad6a" stroke-width="2.2"/><text transform="translate(368.60 85.10) scale(1 1.06)" font-family="'Liberation Sans', sans-serif" font-weight="bold" font-size="19"><tspan textLength="104.5" lengthAdjust="spacingAndGlyphs">5M Al(OTF)</tspan><tspan font-size="13" dx="0.8" dy="4.6">3</tspan></text><path d="M318.2 256.4H364" stroke="#1a6ae0" stroke-width="2.2"/><text transform="translate(368.60 263.15) scale(1 1.06)" font-family="'Liberation Sans', sans-serif" font-weight="bold" font-size="19"><tspan textLength="104.5" lengthAdjust="spacingAndGlyphs">3M Al(OTF)</tspan><tspan font-size="13" dx="0.8" dy="4.6">3</tspan></text><path d="M318.2 438.9H364" stroke="#f24141" stroke-width="2.2"/><text transform="translate(368.60 445.60) scale(1 1.06)" font-family="'Liberation Sans', sans-serif" font-weight="bold" font-size="19"><tspan textLength="104.5" lengthAdjust="spacingAndGlyphs">2M Al(OTF)</tspan><tspan font-size="13" dx="0.8" dy="4.6">3</tspan></text><path d="M318.2 619.1H364" stroke="#555555" stroke-width="2.2"/><text transform="translate(368.60 625.85) scale(1 1.06)" font-family="'Liberation Sans', sans-serif" font-weight="bold" font-size="19"><tspan textLength="104.5" lengthAdjust="spacingAndGlyphs">1M Al(OTF)</tspan><tspan font-size="13" dx="0.8" dy="4.6">3</tspan></text><clipPath id="ncb"><rect x="116.1" y="878.9" width="291.20000000000005" height="234.89999999999998"/></clipPath><g clip-path="url(#ncb)"><path d="M117 1109l1.5 -5 2 -5 2.5 -4.5 2.4 -3.3 3.3 -5 7.8 -7.3 7.8 -8.3 11.1 -11.1 16.6 -13 24 -13.9 33.5 -12.4 39.5 -5 40.4 5 33.4 13.6 20.4 16.6 8.5 13.7 1.9 8.6 -15.2 -10" fill="none" stroke="#555555" stroke-width="1.6" stroke-linejoin="round"/><g fill="#555555"><circle cx="117.0" cy="1109.0" r="5.0"/><circle cx="118.5" cy="1104.0" r="5.0"/><circle cx="120.5" cy="1099.0" r="5.0"/><circle cx="123.0" cy="1094.5" r="5.0"/><circle cx="125.4" cy="1091.2" r="5.0"/><circle cx="128.7" cy="1086.2" r="5.0"/><circle cx="136.5" cy="1078.9" r="5.0"/><circle cx="144.3" cy="1070.6" r="5.0"/><circle cx="155.4" cy="1059.5" r="5.0"/><circle cx="172.0" cy="1046.5" r="5.0"/><circle cx="196.0" cy="1032.6" r="5.0"/><circle cx="229.5" cy="1020.2" r="5.0"/><circle cx="269.0" cy="1015.2" r="5.0"/><circle cx="309.4" cy="1020.2" r="5.0"/><circle cx="342.8" cy="1033.8" r="5.0"/><circle cx="363.2" cy="1050.4" r="5.0"/><circle cx="371.7" cy="1064.1" r="5.0"/><circle cx="373.6" cy="1072.7" r="5.0"/><circle cx="358.4" cy="1062.7" r="5.0"/></g><path d="M117 1109l2.5 -4.5 3 -4.5 3.5 -4 4 -4 5 -3.5 5.5 -3.5 7.1 -3.8 11.1 -6.7 13.9 -6.3 20.2 -6.3 15.8 1.3 25.3 5.7 12.6 14.5 16.5 -0.6 8.5 14.5 -7.6 3.8 -2.9 23.9 -10 0 -2.6 -23.9" fill="none" stroke="#f24141" stroke-width="1.6" stroke-linejoin="round"/><g fill="#f24141"><circle cx="117.0" cy="1109.0" r="5.0"/><circle cx="119.5" cy="1104.5" r="5.0"/><circle cx="122.5" cy="1100.0" r="5.0"/><circle cx="126.0" cy="1096.0" r="5.0"/><circle cx="130.0" cy="1092.0" r="5.0"/><circle cx="135.0" cy="1088.5" r="5.0"/><circle cx="140.5" cy="1085.0" r="5.0"/><circle cx="147.6" cy="1081.2" r="5.0"/><circle cx="158.7" cy="1074.5" r="5.0"/><circle cx="172.6" cy="1068.2" r="5.0"/><circle cx="192.8" cy="1061.9" r="5.0"/><circle cx="208.6" cy="1063.2" r="5.0"/><circle cx="233.9" cy="1068.9" r="5.0"/><circle cx="246.5" cy="1083.4" r="5.0"/><circle cx="263.0" cy="1082.8" r="5.0"/><circle cx="271.5" cy="1097.3" r="5.0"/><circle cx="263.9" cy="1101.1" r="5.0"/><circle cx="261.0" cy="1125.0" r="5.0"/><circle cx="251.0" cy="1125.0" r="5.0"/><circle cx="248.4" cy="1101.1" r="5.0"/></g><path d="M117 1108l1.1 -5.1 3.9 -6.2 5 -5.5 5.6 -5 6.7 -4.5 7.7 -5.5 10.1 -8.4 13.6 -9.9 18.3 -9.9 27.2 -9.1 30.3 -2.9 29.4 5.1 32.2 6.7 13.9 6.5 7 17.1 20.8 -13.9 18.8 14.7 -47.2 22" fill="none" stroke="#1a6ae0" stroke-width="1.6" stroke-linejoin="round"/><g fill="#1a6ae0"><circle cx="117.0" cy="1108.0" r="5.0"/><circle cx="118.1" cy="1102.9" r="5.0"/><circle cx="122.0" cy="1096.7" r="5.0"/><circle cx="127.0" cy="1091.2" r="5.0"/><circle cx="132.6" cy="1086.2" r="5.0"/><circle cx="139.3" cy="1081.7" r="5.0"/><circle cx="147.0" cy="1076.2" r="5.0"/><circle cx="157.1" cy="1067.8" r="5.0"/><circle cx="170.7" cy="1057.9" r="5.0"/><circle cx="189.0" cy="1048.0" r="5.0"/><circle cx="216.2" cy="1038.9" r="5.0"/><circle cx="246.5" cy="1036.0" r="5.0"/><circle cx="275.9" cy="1041.1" r="5.0"/><circle cx="308.1" cy="1047.8" r="5.0"/><circle cx="322.0" cy="1054.3" r="5.0"/><circle cx="329.0" cy="1071.4" r="5.0"/><circle cx="349.8" cy="1057.5" r="5.0"/><circle cx="368.6" cy="1072.2" r="5.0"/><circle cx="321.4" cy="1094.2" r="5.0"/></g><path d="M116.8 1112.5l0.6 -2.5 0.9 -2.4 1.1 -2.2 1.3 -2 1.5 -1.8 1.7 -1.6 1.9 -1.4 2.1 -1.2 2.3 -1.1 2.5 -1 2.8 -1 3 -1 6.3 -2.1 6.3 -2.1 7 -1.9 8.8 -2.5 8.2 -1.9 8.9 -2.5 9.5 -3.2 11.3 -2.5 9.5 -1.3 9.9 0.7 9.7 -0.7 3.9 -1 5.6 -5.9 12.3 -6.4 20.8 -1.9" fill="none" stroke="#30ad6a" stroke-width="1.6" stroke-linejoin="round"/><g fill="#30ad6a"><circle cx="116.8" cy="1112.5" r="5.0"/><circle cx="117.4" cy="1110.0" r="5.0"/><circle cx="118.3" cy="1107.6" r="5.0"/><circle cx="119.4" cy="1105.4" r="5.0"/><circle cx="120.7" cy="1103.4" r="5.0"/><circle cx="122.2" cy="1101.6" r="5.0"/><circle cx="123.9" cy="1100.0" r="5.0"/><circle cx="125.8" cy="1098.6" r="5.0"/><circle cx="127.9" cy="1097.4" r="5.0"/><circle cx="130.2" cy="1096.3" r="5.0"/><circle cx="132.7" cy="1095.3" r="5.0"/><circle cx="135.5" cy="1094.3" r="5.0"/><circle cx="138.5" cy="1093.3" r="5.0"/><circle cx="144.8" cy="1091.2" r="5.0"/><circle cx="151.1" cy="1089.1" r="5.0"/><circle cx="158.1" cy="1087.2" r="5.0"/><circle cx="166.9" cy="1084.7" r="5.0"/><circle cx="175.1" cy="1082.8" r="5.0"/><circle cx="184.0" cy="1080.3" r="5.0"/><circle cx="193.5" cy="1077.1" r="5.0"/><circle cx="204.8" cy="1074.6" r="5.0"/><circle cx="214.3" cy="1073.3" r="5.0"/><circle cx="224.2" cy="1074.0" r="5.0"/><circle cx="233.9" cy="1073.3" r="5.0"/><circle cx="237.8" cy="1072.3" r="5.0"/><circle cx="243.4" cy="1066.4" r="5.0"/><circle cx="255.7" cy="1060.0" r="5.0"/><circle cx="276.5" cy="1058.1" r="5.0"/></g></g><rect x="116.1" y="878.9" width="291.20000000000005" height="234.89999999999998" fill="none" stroke="#000" stroke-width="2.4"/><path d="M119.6 1113.8v4.5M208.1 1113.8v4.5M296.6 1113.8v4.5M385.1 1113.8v4.5M163.8 1113.8v2.8M252.3 1113.8v2.8M340.9 1113.8v2.8M116.1 1110.1h-4.5M116.1 1038.9h-4.5M116.1 967.7h-4.5M116.1 896.5h-4.5M116.1 1074.5h-2.8M116.1 1003.3h-2.8M116.1 932.1h-2.8" stroke="#000" stroke-width="1.8" fill="none"/><text transform="translate(119.60 1135.00) scale(1 1.06)" text-anchor="middle" font-family="'Liberation Sans', sans-serif" font-weight="bold" font-size="17">0</text><text transform="translate(208.10 1135.00) scale(1 1.06)" text-anchor="middle" font-family="'Liberation Sans', sans-serif" font-weight="bold" font-size="17">10000</text><text transform="translate(296.60 1135.00) scale(1 1.06)" text-anchor="middle" font-family="'Liberation Sans', sans-serif" font-weight="bold" font-size="17">20000</text><text transform="translate(385.10 1135.00) scale(1 1.06)" text-anchor="middle" font-family="'Liberation Sans', sans-serif" font-weight="bold" font-size="17">30000</text><text transform="translate(107.80 1115.70) scale(1 1.06)" text-anchor="end" font-family="'Liberation Sans', sans-serif" font-weight="bold" font-size="17">0</text><text transform="translate(107.80 1044.50) scale(1 1.06)" text-anchor="end" font-family="'Liberation Sans', sans-serif" font-weight="bold" font-size="17">10000</text><text transform="translate(107.80 973.30) scale(1 1.06)" text-anchor="end" font-family="'Liberation Sans', sans-serif" font-weight="bold" font-size="17">20000</text><text transform="translate(107.80 902.10) scale(1 1.06)" text-anchor="end" font-family="'Liberation Sans', sans-serif" font-weight="bold" font-size="17">30000</text><text transform="translate(265.20 1160.20) scale(1 1.06)" text-anchor="middle" font-family="'Liberation Sans', sans-serif" font-weight="bold" font-size="20.4" textLength="90.2" lengthAdjust="spacingAndGlyphs">Z" (Ohm)</text><text transform="translate(54.40 991.20) rotate(-90) scale(1 1.06)" text-anchor="middle" font-family="'Liberation Sans', sans-serif" font-weight="bold" font-size="20.4" textLength="95.6" lengthAdjust="spacingAndGlyphs">-Z" (Ohm)</text><text transform="translate(19.70 898.90)" font-family="'Liberation Sans', sans-serif" font-weight="bold" font-size="44">b)</text><path d="M281.6 895.1H315.3" stroke="#555555" stroke-width="2"/><circle cx="298.5" cy="895.1" r="5.0" fill="#555555"/><text transform="translate(319.00 900.10) scale(1 1.06)" font-family="'Liberation Sans', sans-serif" font-weight="bold" font-size="14"><tspan textLength="76.5" lengthAdjust="spacingAndGlyphs">1M Al(OTF)</tspan><tspan font-size="9.5" dx="0.6" dy="3.5">3</tspan></text><path d="M281.6 916.7H315.3" stroke="#f24141" stroke-width="2"/><circle cx="298.5" cy="916.7" r="5.0" fill="#f24141"/><text transform="translate(319.00 921.70) scale(1 1.06)" font-family="'Liberation Sans', sans-serif" font-weight="bold" font-size="14">2M</text><path d="M281.6 935.0H315.3" stroke="#1a6ae0" stroke-width="2"/><circle cx="298.5" cy="935.0" r="5.0" fill="#1a6ae0"/><text transform="translate(319.00 940.00) scale(1 1.06)" font-family="'Liberation Sans', sans-serif" font-weight="bold" font-size="14">3M</text><path d="M281.6 953.1H315.3" stroke="#30ad6a" stroke-width="2"/><circle cx="298.5" cy="953.1" r="5.0" fill="#30ad6a"/><text transform="translate(319.00 958.10) scale(1 1.06)" font-family="'Liberation Sans', sans-serif" font-weight="bold" font-size="14">5M</text><clipPath id="ncc"><rect x="526.2" y="878.9" width="291.0999999999999" height="234.69999999999993"/></clipPath><g clip-path="url(#ncc)"><path d="M538.8 1103l1.2 -3.5 2 -3.2 2.6 -3 3.2 -2.6 3.7 -2.5 4.3 -2.4 5.2 -2.6 6.5 -2.7 7.5 -1.8 8.8 -0.9 11.3 3.2 8.3 6.3 7.5 7.6 1.3 8.8 -1.2 2.3" fill="none" stroke="#555555" stroke-width="1.6" stroke-linejoin="round"/><g fill="#555555"><circle cx="538.8" cy="1103.0" r="5.0"/><circle cx="540.0" cy="1099.5" r="5.0"/><circle cx="542.0" cy="1096.3" r="5.0"/><circle cx="544.6" cy="1093.3" r="5.0"/><circle cx="547.8" cy="1090.7" r="5.0"/><circle cx="551.5" cy="1088.2" r="5.0"/><circle cx="555.8" cy="1085.8" r="5.0"/><circle cx="561.0" cy="1083.2" r="5.0"/><circle cx="567.5" cy="1080.5" r="5.0"/><circle cx="575.0" cy="1078.7" r="5.0"/><circle cx="583.8" cy="1077.8" r="5.0"/><circle cx="595.1" cy="1081.0" r="5.0"/><circle cx="603.4" cy="1087.3" r="5.0"/><circle cx="610.9" cy="1094.9" r="5.0"/><circle cx="612.2" cy="1103.7" r="5.0"/><circle cx="611.0" cy="1106.0" r="5.0"/></g><path d="M538.8 1103l1.5 -3.8 2.1 -3.2 2.6 -3 3.2 -2.8 3 -2 3.5 -1.5 7 -5.1 10.7 -4.4 10.7 -3.2 12.7 1.3 11.3 3.2 8.3 5 6.3 5.7 3.8 5.7 -1.3 6.9 -3.2 2.7" fill="none" stroke="#f24141" stroke-width="1.6" stroke-linejoin="round"/><g fill="#f24141"><circle cx="538.8" cy="1103.0" r="5.0"/><circle cx="540.3" cy="1099.2" r="5.0"/><circle cx="542.4" cy="1096.0" r="5.0"/><circle cx="545.0" cy="1093.0" r="5.0"/><circle cx="548.2" cy="1090.2" r="5.0"/><circle cx="551.2" cy="1088.2" r="5.0"/><circle cx="554.7" cy="1086.7" r="5.0"/><circle cx="561.7" cy="1081.6" r="5.0"/><circle cx="572.4" cy="1077.2" r="5.0"/><circle cx="583.1" cy="1074.0" r="5.0"/><circle cx="595.8" cy="1075.3" r="5.0"/><circle cx="607.1" cy="1078.5" r="5.0"/><circle cx="615.4" cy="1083.5" r="5.0"/><circle cx="621.7" cy="1089.2" r="5.0"/><circle cx="625.5" cy="1094.9" r="5.0"/><circle cx="624.2" cy="1101.8" r="5.0"/><circle cx="621.0" cy="1104.5" r="5.0"/></g><path d="M538.6 1103l1 -4 1.5 -3.5 1.9 -3.5 2.5 -3.5 3 -3.5 3.7 -3.3 4.3 -3 5.2 -2.7 10.1 -7 15.1 -6.3 17.1 -3.2 18.3 1.3 16.4 3.8 13.9 6.9 9.5 7 6.3 7.5 3.2 6.4 -1.3 6.3 -3.8 4.6 -2.7 1.6" fill="none" stroke="#1a6ae0" stroke-width="1.6" stroke-linejoin="round"/><g fill="#1a6ae0"><circle cx="538.6" cy="1103.0" r="5.0"/><circle cx="539.6" cy="1099.0" r="5.0"/><circle cx="541.1" cy="1095.5" r="5.0"/><circle cx="543.0" cy="1092.0" r="5.0"/><circle cx="545.5" cy="1088.5" r="5.0"/><circle cx="548.5" cy="1085.0" r="5.0"/><circle cx="552.2" cy="1081.7" r="5.0"/><circle cx="556.5" cy="1078.7" r="5.0"/><circle cx="561.7" cy="1076.0" r="5.0"/><circle cx="571.8" cy="1069.0" r="5.0"/><circle cx="586.9" cy="1062.7" r="5.0"/><circle cx="604.0" cy="1059.5" r="5.0"/><circle cx="622.3" cy="1060.8" r="5.0"/><circle cx="638.7" cy="1064.6" r="5.0"/><circle cx="652.6" cy="1071.5" r="5.0"/><circle cx="662.1" cy="1078.5" r="5.0"/><circle cx="668.4" cy="1086.0" r="5.0"/><circle cx="671.6" cy="1092.4" r="5.0"/><circle cx="670.3" cy="1098.7" r="5.0"/><circle cx="666.5" cy="1103.3" r="5.0"/><circle cx="663.8" cy="1104.9" r="5.0"/></g><path d="M539.5 1103.1l0.7 -3.5 1 -3 1.1 -2.8 1 -2.7 2 -3.6 2.4 -3.3 2.8 -3 2.9 -2.7 3.1 -3.5 3.3 -3.5 8.8 -8.8 12.6 -10.1 17.7 -12 24.7 -12.1 32.2 -7.5 36.4 -0.8 34.2 7 27.8 12.6 18.9 15.2 11.4 13.9 6.3 12 1.9 10.1 0.6 6.9 -0.6 5.1 -6.3 5.1" fill="none" stroke="#30ad6a" stroke-width="1.6" stroke-linejoin="round"/><g fill="#30ad6a"><circle cx="539.5" cy="1103.1" r="5.0"/><circle cx="540.2" cy="1099.6" r="5.0"/><circle cx="541.2" cy="1096.6" r="5.0"/><circle cx="542.3" cy="1093.8" r="5.0"/><circle cx="543.3" cy="1091.1" r="5.0"/><circle cx="545.3" cy="1087.5" r="5.0"/><circle cx="547.7" cy="1084.2" r="5.0"/><circle cx="550.5" cy="1081.2" r="5.0"/><circle cx="553.4" cy="1078.5" r="5.0"/><circle cx="556.5" cy="1075.0" r="5.0"/><circle cx="559.8" cy="1071.5" r="5.0"/><circle cx="568.6" cy="1062.7" r="5.0"/><circle cx="581.2" cy="1052.6" r="5.0"/><circle cx="598.9" cy="1040.6" r="5.0"/><circle cx="623.6" cy="1028.5" r="5.0"/><circle cx="655.8" cy="1021.0" r="5.0"/><circle cx="692.2" cy="1020.2" r="5.0"/><circle cx="726.4" cy="1027.2" r="5.0"/><circle cx="754.2" cy="1039.8" r="5.0"/><circle cx="773.1" cy="1055.0" r="5.0"/><circle cx="784.5" cy="1068.9" r="5.0"/><circle cx="790.8" cy="1080.9" r="5.0"/><circle cx="792.7" cy="1091.0" r="5.0"/><circle cx="793.3" cy="1097.9" r="5.0"/><circle cx="792.7" cy="1103.0" r="5.0"/><circle cx="786.4" cy="1108.1" r="5.0"/></g></g><rect x="526.2" y="878.9" width="291.0999999999999" height="234.69999999999993" fill="none" stroke="#000" stroke-width="2.4"/><path d="M538.2 1113.6v4.5M601.8 1113.6v4.5M665.4 1113.6v4.5M729.0 1113.6v4.5M792.6 1113.6v4.5M570.0 1113.6v2.8M633.6 1113.6v2.8M697.2 1113.6v2.8M760.8 1113.6v2.8M526.2 1103.2h-4.5M526.2 1052.0h-4.5M526.2 1000.8h-4.5M526.2 949.6h-4.5M526.2 898.4h-4.5M526.2 1077.6h-2.8M526.2 1026.4h-2.8M526.2 975.2h-2.8M526.2 924.0h-2.8" stroke="#000" stroke-width="1.8" fill="none"/><text transform="translate(538.20 1135.00) scale(1 1.06)" text-anchor="middle" font-family="'Liberation Sans', sans-serif" font-weight="bold" font-size="17">0</text><text transform="translate(601.80 1135.00) scale(1 1.06)" text-anchor="middle" font-family="'Liberation Sans', sans-serif" font-weight="bold" font-size="17">2500</text><text transform="translate(665.40 1135.00) scale(1 1.06)" text-anchor="middle" font-family="'Liberation Sans', sans-serif" font-weight="bold" font-size="17">5000</text><text transform="translate(729.00 1135.00) scale(1 1.06)" text-anchor="middle" font-family="'Liberation Sans', sans-serif" font-weight="bold" font-size="17">7500</text><text transform="translate(792.60 1135.00) scale(1 1.06)" text-anchor="middle" font-family="'Liberation Sans', sans-serif" font-weight="bold" font-size="17">10000</text><text transform="translate(517.80 1108.80) scale(1 1.06)" text-anchor="end" font-family="'Liberation Sans', sans-serif" font-weight="bold" font-size="17">0</text><text transform="translate(517.80 1057.60) scale(1 1.06)" text-anchor="end" font-family="'Liberation Sans', sans-serif" font-weight="bold" font-size="17">2500</text><text transform="translate(517.80 1006.40) scale(1 1.06)" text-anchor="end" font-family="'Liberation Sans', sans-serif" font-weight="bold" font-size="17">5000</text><text transform="translate(517.80 955.20) scale(1 1.06)" text-anchor="end" font-family="'Liberation Sans', sans-serif" font-weight="bold" font-size="17">7500</text><text transform="translate(517.80 904.00) scale(1 1.06)" text-anchor="end" font-family="'Liberation Sans', sans-serif" font-weight="bold" font-size="17">10000</text><text transform="translate(671.40 1160.00) scale(1 1.06)" text-anchor="middle" font-family="'Liberation Sans', sans-serif" font-weight="bold" font-size="20.4" textLength="90.2" lengthAdjust="spacingAndGlyphs">Z" (Ohm)</text><text transform="translate(470.60 995.80) rotate(-90) scale(1 1.06)" text-anchor="middle" font-family="'Liberation Sans', sans-serif" font-weight="bold" font-size="20.4" textLength="95.6" lengthAdjust="spacingAndGlyphs">-Z" (Ohm)</text><text transform="translate(429.90 899.00)" font-family="'Liberation Sans', sans-serif" font-weight="bold" font-size="44">c)</text><path d="M689.1 896.3H722.5" stroke="#555555" stroke-width="2"/><circle cx="705.8" cy="896.3" r="5.0" fill="#555555"/><text transform="translate(726.40 901.30) scale(1 1.06)" font-family="'Liberation Sans', sans-serif" font-weight="bold" font-size="14"><tspan textLength="76.5" lengthAdjust="spacingAndGlyphs">1M Al(OTF)</tspan><tspan font-size="9.5" dx="0.6" dy="3.5">3</tspan></text><path d="M689.1 917.9H722.5" stroke="#f24141" stroke-width="2"/><circle cx="705.8" cy="917.9" r="5.0" fill="#f24141"/><text transform="translate(726.40 922.90) scale(1 1.06)" font-family="'Liberation Sans', sans-serif" font-weight="bold" font-size="14">2M</text><path d="M689.1 935.8H722.5" stroke="#1a6ae0" stroke-width="2"/><circle cx="705.8" cy="935.8" r="5.0" fill="#1a6ae0"/><text transform="translate(726.40 940.80) scale(1 1.06)" font-family="'Liberation Sans', sans-serif" font-weight="bold" font-size="14">3M</text><path d="M689.1 954.0H722.5" stroke="#30ad6a" stroke-width="2"/><circle cx="705.8" cy="954.0" r="5.0" fill="#30ad6a"/><text transform="translate(726.40 959.00) scale(1 1.06)" font-family="'Liberation Sans', sans-serif" font-weight="bold" font-size="14">5M</text><clipPath id="ncd"><rect x="936.5" y="878.9" width="291.5" height="234.69999999999993"/></clipPath><g clip-path="url(#ncd)"><path d="M947.2 1104l1.4 -4 1.9 -4 2.5 -4 3 -4 4 -4.5 4.5 -4.5 6 -5.5 7.5 -5.8 13.9 -5 18.3 -4.5 20.2 0.7 18.3 4.4 14.6 7 10.1 7.5 5.7 7 3.8 6.3 0.6 6.3 -1.3 5.1 -1 1.5" fill="none" stroke="#555555" stroke-width="1.6" stroke-linejoin="round"/><g fill="#555555"><circle cx="947.2" cy="1104.0" r="5.0"/><circle cx="948.6" cy="1100.0" r="5.0"/><circle cx="950.5" cy="1096.0" r="5.0"/><circle cx="953.0" cy="1092.0" r="5.0"/><circle cx="956.0" cy="1088.0" r="5.0"/><circle cx="960.0" cy="1083.5" r="5.0"/><circle cx="964.5" cy="1079.0" r="5.0"/><circle cx="970.5" cy="1073.5" r="5.0"/><circle cx="978.0" cy="1067.7" r="5.0"/><circle cx="991.9" cy="1062.7" r="5.0"/><circle cx="1010.2" cy="1058.2" r="5.0"/><circle cx="1030.4" cy="1058.9" r="5.0"/><circle cx="1048.7" cy="1063.3" r="5.0"/><circle cx="1063.3" cy="1070.3" r="5.0"/><circle cx="1073.4" cy="1077.8" r="5.0"/><circle cx="1079.1" cy="1084.8" r="5.0"/><circle cx="1082.9" cy="1091.1" r="5.0"/><circle cx="1083.5" cy="1097.4" r="5.0"/><circle cx="1082.2" cy="1102.5" r="5.0"/><circle cx="1081.2" cy="1104.0" r="5.0"/></g><path d="M947.2 1104l1.4 -3 1.9 -3 2.5 -3 3.5 -3 4 -3 5 -3 6.2 -2.5 8.8 -3.8 10.7 -1.2 10.8 2.5 8.8 3.2 8.2 5.6 5.1 6.4 -0.6 6.9 -5.1 1.9 -2.5 -2.5" fill="none" stroke="#f24141" stroke-width="1.6" stroke-linejoin="round"/><g fill="#f24141"><circle cx="947.2" cy="1104.0" r="5.0"/><circle cx="948.6" cy="1101.0" r="5.0"/><circle cx="950.5" cy="1098.0" r="5.0"/><circle cx="953.0" cy="1095.0" r="5.0"/><circle cx="956.5" cy="1092.0" r="5.0"/><circle cx="960.5" cy="1089.0" r="5.0"/><circle cx="965.5" cy="1086.0" r="5.0"/><circle cx="971.7" cy="1083.5" r="5.0"/><circle cx="980.5" cy="1079.7" r="5.0"/><circle cx="991.2" cy="1078.5" r="5.0"/><circle cx="1002.0" cy="1081.0" r="5.0"/><circle cx="1010.8" cy="1084.2" r="5.0"/><circle cx="1019.0" cy="1089.8" r="5.0"/><circle cx="1024.1" cy="1096.2" r="5.0"/><circle cx="1023.5" cy="1103.1" r="5.0"/><circle cx="1018.4" cy="1105.0" r="5.0"/><circle cx="1015.9" cy="1102.5" r="5.0"/></g><path d="M947.2 1104l1.4 -4 1.9 -4 2.5 -4 3.5 -4 4.5 -4 6.2 -4.3 9.5 -6.9 12.6 -4.4 17.1 -2.6 16.4 0.7 15.2 5 10.7 5.7 8.3 7 5 6.9 1.3 7.6 -5.1 5.7 -5 0" fill="none" stroke="#1a6ae0" stroke-width="1.6" stroke-linejoin="round"/><g fill="#1a6ae0"><circle cx="947.2" cy="1104.0" r="5.0"/><circle cx="948.6" cy="1100.0" r="5.0"/><circle cx="950.5" cy="1096.0" r="5.0"/><circle cx="953.0" cy="1092.0" r="5.0"/><circle cx="956.5" cy="1088.0" r="5.0"/><circle cx="961.0" cy="1084.0" r="5.0"/><circle cx="967.2" cy="1079.7" r="5.0"/><circle cx="976.7" cy="1072.8" r="5.0"/><circle cx="989.3" cy="1068.4" r="5.0"/><circle cx="1006.4" cy="1065.8" r="5.0"/><circle cx="1022.8" cy="1066.5" r="5.0"/><circle cx="1038.0" cy="1071.5" r="5.0"/><circle cx="1048.7" cy="1077.2" r="5.0"/><circle cx="1057.0" cy="1084.2" r="5.0"/><circle cx="1062.0" cy="1091.1" r="5.0"/><circle cx="1063.3" cy="1098.7" r="5.0"/><circle cx="1058.2" cy="1104.4" r="5.0"/><circle cx="1053.2" cy="1104.4" r="5.0"/></g><path d="M947 1105l0.8 -3.5 1 -3.2 1.4 -4.1 1.8 -4.2 2 -4 2.5 -3 2.5 -3.3 3 -4.2 3.3 -4.6 9.5 -10.8 13.9 -12 21.5 -13.9 29.1 -12 36.6 -6.4 38.7 1.9 35.4 9.8 26.5 14.7 17 16.1 9.6 14.5 5.2 11.8 0.7 9.1 -0.7 7.3 -4.6 5.9 -7.8 2.6 -5.9 3.5" fill="none" stroke="#30ad6a" stroke-width="1.6" stroke-linejoin="round"/><g fill="#30ad6a"><circle cx="947.0" cy="1105.0" r="5.0"/><circle cx="947.8" cy="1101.5" r="5.0"/><circle cx="948.8" cy="1098.3" r="5.0"/><circle cx="950.2" cy="1094.2" r="5.0"/><circle cx="952.0" cy="1090.0" r="5.0"/><circle cx="954.0" cy="1086.0" r="5.0"/><circle cx="956.5" cy="1083.0" r="5.0"/><circle cx="959.0" cy="1079.7" r="5.0"/><circle cx="962.0" cy="1075.5" r="5.0"/><circle cx="965.3" cy="1070.9" r="5.0"/><circle cx="974.8" cy="1060.1" r="5.0"/><circle cx="988.7" cy="1048.1" r="5.0"/><circle cx="1010.2" cy="1034.2" r="5.0"/><circle cx="1039.3" cy="1022.2" r="5.0"/><circle cx="1075.9" cy="1015.8" r="5.0"/><circle cx="1114.6" cy="1017.7" r="5.0"/><circle cx="1150.0" cy="1027.5" r="5.0"/><circle cx="1176.5" cy="1042.2" r="5.0"/><circle cx="1193.5" cy="1058.3" r="5.0"/><circle cx="1203.1" cy="1072.8" r="5.0"/><circle cx="1208.3" cy="1084.6" r="5.0"/><circle cx="1209.0" cy="1093.7" r="5.0"/><circle cx="1208.3" cy="1101.0" r="5.0"/><circle cx="1203.7" cy="1106.9" r="5.0"/><circle cx="1195.9" cy="1109.5" r="5.0"/><circle cx="1190.0" cy="1113.0" r="5.0"/></g></g><rect x="936.5" y="878.9" width="291.5" height="234.69999999999993" fill="none" stroke="#000" stroke-width="2.4"/><path d="M946.4 1113.6v4.5M1001.1 1113.6v4.5M1055.8 1113.6v4.5M1110.5 1113.6v4.5M1165.1 1113.6v4.5M1219.8 1113.6v4.5M973.7 1113.6v2.8M1028.4 1113.6v2.8M1083.1 1113.6v2.8M1137.8 1113.6v2.8M1192.5 1113.6v2.8M936.5 1104.6h-4.5M936.5 1061.1h-4.5M936.5 1017.6h-4.5M936.5 974.2h-4.5M936.5 930.7h-4.5M936.5 887.2h-4.5M936.5 1082.9h-2.8M936.5 1039.4h-2.8M936.5 995.9h-2.8M936.5 952.4h-2.8M936.5 908.9h-2.8" stroke="#000" stroke-width="1.8" fill="none"/><text transform="translate(946.40 1135.00) scale(1 1.06)" text-anchor="middle" font-family="'Liberation Sans', sans-serif" font-weight="bold" font-size="17">0</text><text transform="translate(1001.09 1135.00) scale(1 1.06)" text-anchor="middle" font-family="'Liberation Sans', sans-serif" font-weight="bold" font-size="17">2500</text><text transform="translate(1055.77 1135.00) scale(1 1.06)" text-anchor="middle" font-family="'Liberation Sans', sans-serif" font-weight="bold" font-size="17">5000</text><text transform="translate(1110.45 1135.00) scale(1 1.06)" text-anchor="middle" font-family="'Liberation Sans', sans-serif" font-weight="bold" font-size="17">7500</text><text transform="translate(1165.14 1135.00) scale(1 1.06)" text-anchor="middle" font-family="'Liberation Sans', sans-serif" font-weight="bold" font-size="17">10000</text><text transform="translate(1219.83 1135.00) scale(1 1.06)" text-anchor="middle" font-family="'Liberation Sans', sans-serif" font-weight="bold" font-size="17">12500</text><text transform="translate(928.60 1110.20) scale(1 1.06)" text-anchor="end" font-family="'Liberation Sans', sans-serif" font-weight="bold" font-size="17">0</text><text transform="translate(928.60 1066.72) scale(1 1.06)" text-anchor="end" font-family="'Liberation Sans', sans-serif" font-weight="bold" font-size="17">2500</text><text transform="translate(928.60 1023.24) scale(1 1.06)" text-anchor="end" font-family="'Liberation Sans', sans-serif" font-weight="bold" font-size="17">5000</text><text transform="translate(928.60 979.76) scale(1 1.06)" text-anchor="end" font-family="'Liberation Sans', sans-serif" font-weight="bold" font-size="17">7500</text><text transform="translate(928.60 936.28) scale(1 1.06)" text-anchor="end" font-family="'Liberation Sans', sans-serif" font-weight="bold" font-size="17">10000</text><text transform="translate(928.60 892.80) scale(1 1.06)" text-anchor="end" font-family="'Liberation Sans', sans-serif" font-weight="bold" font-size="17">12500</text><text transform="translate(1082.00 1166.00) scale(1 1.06)" text-anchor="middle" font-family="'Liberation Sans', sans-serif" font-weight="bold" font-size="20.4" textLength="90.2" lengthAdjust="spacingAndGlyphs">Z" (Ohm)</text><text transform="translate(883.70 995.80) rotate(-90) scale(1 1.06)" text-anchor="middle" font-family="'Liberation Sans', sans-serif" font-weight="bold" font-size="20.4" textLength="95.6" lengthAdjust="spacingAndGlyphs">-Z" (Ohm)</text><text transform="translate(840.00 899.00)" font-family="'Liberation Sans', sans-serif" font-weight="bold" font-size="44">d)</text><path d="M1101.0 895.7H1133.2" stroke="#555555" stroke-width="2"/><circle cx="1117.1" cy="895.7" r="5.0" fill="#555555"/><text transform="translate(1137.60 900.70) scale(1 1.06)" font-family="'Liberation Sans', sans-serif" font-weight="bold" font-size="14"><tspan textLength="76.5" lengthAdjust="spacingAndGlyphs">1M Al(OTF)</tspan><tspan font-size="9.5" dx="0.6" dy="3.5">3</tspan></text><path d="M1101.0 917.0H1133.2" stroke="#f24141" stroke-width="2"/><circle cx="1117.1" cy="917.0" r="5.0" fill="#f24141"/><text transform="translate(1137.60 922.00) scale(1 1.06)" font-family="'Liberation Sans', sans-serif" font-weight="bold" font-size="14">2M</text><path d="M1101.0 935.0H1133.2" stroke="#1a6ae0" stroke-width="2"/><circle cx="1117.1" cy="935.0" r="5.0" fill="#1a6ae0"/><text transform="translate(1137.60 940.00) scale(1 1.06)" font-family="'Liberation Sans', sans-serif" font-weight="bold" font-size="14">3M</text><path d="M1101.0 953.4H1133.2" stroke="#30ad6a" stroke-width="2"/><circle cx="1117.1" cy="953.4" r="5.0" fill="#30ad6a"/><text transform="translate(1137.60 958.40) scale(1 1.06)" font-family="'Liberation Sans', sans-serif" font-weight="bold" font-size="14">5M</text></svg></body></html>
